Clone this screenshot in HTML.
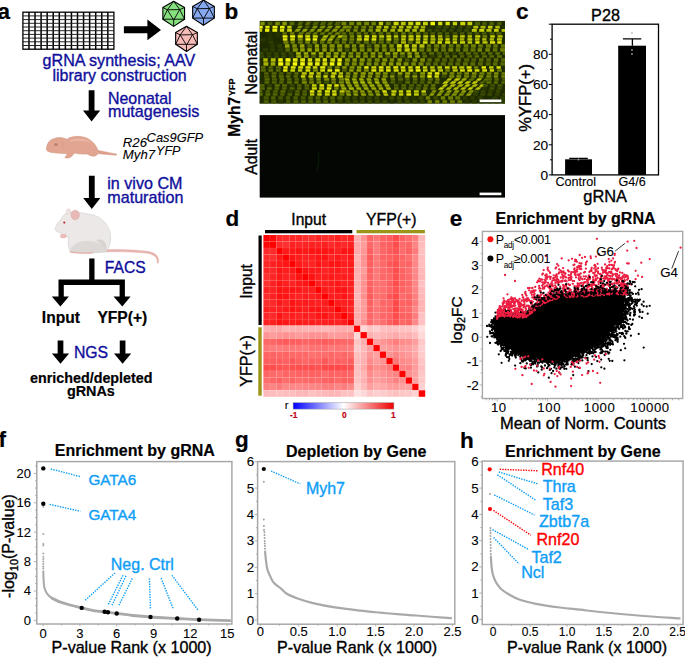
<!DOCTYPE html>
<html><head><meta charset="utf-8"><style>
html,body{margin:0;padding:0;background:#fff;}
svg{display:block;font-family:"Liberation Sans", sans-serif;}
</style></head><body>
<svg width="685" height="657" viewBox="0 0 685 657">
<rect width="685" height="657" fill="#fff"/>
<text x="-2.4" y="19.3" font-size="22.5" fill="#000" stroke="#000" stroke-width="0.2" font-weight="bold">a</text>
<rect x="22.9" y="12.2" width="91.0" height="37.0" fill="#fff" stroke="#000" stroke-width="1.3"/>
<path d="M28.97 12.2V49.2M35.03 12.2V49.2M41.10 12.2V49.2M47.17 12.2V49.2M53.23 12.2V49.2M59.30 12.2V49.2M65.37 12.2V49.2M71.43 12.2V49.2M77.50 12.2V49.2M83.57 12.2V49.2M89.63 12.2V49.2M95.70 12.2V49.2M101.77 12.2V49.2M107.83 12.2V49.2" stroke="#000" stroke-width="1.5"/>
<path d="M22.9 15.90H113.9M22.9 19.60H113.9M22.9 23.30H113.9M22.9 27.00H113.9M22.9 30.70H113.9M22.9 34.40H113.9M22.9 38.10H113.9M22.9 41.80H113.9M22.9 45.50H113.9" stroke="#1a1a1a" stroke-width="0.95"/>
<path d="M123.9 26.3H147.4V19.6L161 29.9L147.4 40.2V33.3H123.9Z" fill="#000"/>
<path d="M173.70 1.20L184.55 7.50L184.55 19.20L173.70 26.40L162.85 19.20L162.85 7.50Z" fill="#86e07f" stroke="#000" stroke-width="1.1" stroke-linejoin="round"/>
<path d="M173.70 1.20L167.40 9.80M173.70 1.20L179.70 9.60M167.40 9.80L179.70 9.60M167.40 9.80L173.70 20.10M179.70 9.60L173.70 20.10M162.85 7.50L167.40 9.80M184.55 7.50L179.70 9.60M167.40 9.80L162.85 19.20M179.70 9.60L184.55 19.20M162.85 19.20L184.55 19.20M173.70 20.10L173.70 26.40" fill="none" stroke="#000" stroke-width="0.9"/>
<path d="M203.50 0.10L214.35 6.40L214.35 18.10L203.50 25.30L192.65 18.10L192.65 6.40Z" fill="#86a8ee" stroke="#000" stroke-width="1.1" stroke-linejoin="round"/>
<path d="M203.50 0.10L197.20 8.70M203.50 0.10L209.50 8.50M197.20 8.70L209.50 8.50M197.20 8.70L203.50 19.00M209.50 8.50L203.50 19.00M192.65 6.40L197.20 8.70M214.35 6.40L209.50 8.50M197.20 8.70L192.65 18.10M209.50 8.50L214.35 18.10M192.65 18.10L214.35 18.10M203.50 19.00L203.50 25.30" fill="none" stroke="#000" stroke-width="0.9"/>
<path d="M186.50 26.30L197.35 32.60L197.35 44.30L186.50 51.50L175.65 44.30L175.65 32.60Z" fill="#f7bcb8" stroke="#000" stroke-width="1.1" stroke-linejoin="round"/>
<path d="M186.50 26.30L180.20 34.90M186.50 26.30L192.50 34.70M180.20 34.90L192.50 34.70M180.20 34.90L186.50 45.20M192.50 34.70L186.50 45.20M175.65 32.60L180.20 34.90M197.35 32.60L192.50 34.70M180.20 34.90L175.65 44.30M192.50 34.70L197.35 44.30M175.65 44.30L197.35 44.30M186.50 45.20L186.50 51.50" fill="none" stroke="#000" stroke-width="0.9"/>
<text x="118.9" y="65.8" font-size="16.1" fill="#0f0f9c" stroke="#0f0f9c" stroke-width="0.35" text-anchor="middle">gRNA synthesis; AAV</text>
<text x="119.6" y="80.6" font-size="16.0" fill="#0f0f9c" stroke="#0f0f9c" stroke-width="0.35" text-anchor="middle">library construction</text>
<path d="M88.70 90.3V110.6H83.00L91.60 121.4L100.20 110.6H94.50V90.3Z" fill="#000"/>
<text x="108.0" y="103.6" font-size="15.9" fill="#0f0f9c" stroke="#0f0f9c" stroke-width="0.35">Neonatal</text>
<text x="108.0" y="117.4" font-size="16.1" fill="#0f0f9c" stroke="#0f0f9c" stroke-width="0.35">mutagenesis</text>
<g><path d="M98 150.4 C104 151.5 110 152.8 116.7 154 L116.4 155.3 C110 154.8 104 154.3 98.5 153.8Z" fill="#dd9e8a" stroke="#cf8f7b" stroke-width="0.4"/><path d="M46.4 148.7 C47 143 50 139.5 53.7 138.8 C57 137.2 62 137 67.1 139.3 C70 137 74 136.2 78 136.3 C84 136.5 89 138.5 92 141.5 C95 144 97 147.5 98 150.4 C98.6 153 98 155.5 93.4 156.3 C91 156 89 155 87 154 C83 154.3 78 154 74.5 153 C73 155 71 157.5 68.9 158 C67 158.2 65 157.8 64.8 157.4 C66 156 67 155 67 153.5 C62 153.5 57 153.2 53.7 152.8 C50 152.4 47.5 151.5 46.4 150Z" fill="#e2a591" stroke="#cf907c" stroke-width="0.5"/><path d="M70 140 C78 137.5 88 139 91 143 C86 141 78 140.5 70 141.5Z" fill="#eab6a4"/><path d="M61.5 141 C63.5 143 63.5 146 62 148" stroke="#cf907c" stroke-width="0.5" fill="none"/><ellipse cx="56" cy="144.6" rx="1.9" ry="1.3" fill="#b88070"/></g>
<text x="122.8" y="146.7" font-size="13.2" fill="#000" stroke="#000" stroke-width="0.1" font-style="italic">R26</text>
<text x="146.6" y="141.7" font-size="12.9" fill="#000" stroke="#000" stroke-width="0.1" font-style="italic">Cas9GFP</text>
<text x="122.8" y="159.2" font-size="13.2" fill="#000" stroke="#000" stroke-width="0.1" font-style="italic">Myh7</text>
<text x="156.0" y="155.3" font-size="12.6" fill="#000" stroke="#000" stroke-width="0.1" font-style="italic">YFP</text>
<path d="M88.90 175.7V198.1H83.20L91.80 208.9L100.40 198.1H94.70V175.7Z" fill="#000"/>
<text x="107.3" y="188.9" font-size="16.1" fill="#0f0f9c" stroke="#0f0f9c" stroke-width="0.35">in vivo CM</text>
<text x="107.3" y="203.2" font-size="16.1" fill="#0f0f9c" stroke="#0f0f9c" stroke-width="0.35">maturation</text>
<g><path d="M106 249.6 C120 249.3 138 249.8 149 251.6 C155 252.8 159.5 256 158.6 262.6 C158 263.6 157 263.4 157.2 262.4 C157.6 257.5 154 254.8 148.5 253.6 C138 252 120 251.6 106 252Z" fill="#e9b4ae" stroke="#d9a19b" stroke-width="0.3"/><path d="M55 229.3 C56 225 58 222 60.1 221 C62 217 64 214 67 213 C72 211 80 212.5 88.6 214.2 C95 215 100 217 104 221.5 C108 226 110.5 231 110.6 237 C110.8 243 109 248 106 252 L92 253 C85 253.5 75 252.5 70 251.5 C68 247 68 242 68.5 237 C66 236.5 62 234 58.4 232 C56.5 231.5 55.3 230.5 55 229.3Z" fill="#ebe8e7" stroke="#d2cdcc" stroke-width="0.6"/><path d="M70 251.5 C71 245 78 240.5 88 241 C99 241.5 105.5 245.5 106 252 L92 253 C85 253.5 75 252.5 70 251.5Z" fill="#dcd8d6"/><path d="M96 240 C103 238 108 242 106 252 C104 246 100 243 96 240Z" fill="#d8d3d1"/><ellipse cx="68.5" cy="211.5" rx="2.2" ry="2.7" fill="#efe4e2" stroke="#d8c8c6" stroke-width="0.4"/><ellipse cx="75.2" cy="215" rx="4.2" ry="4.8" fill="#e9b9b7" stroke="#d9a7a5" stroke-width="0.5"/><ellipse cx="63.4" cy="236" rx="3.2" ry="2.0" fill="#eebdb9" stroke="#dba9a5" stroke-width="0.3"/><path d="M70 252 C78 253.2 86 253.4 93 252.6" stroke="#e6b2ac" stroke-width="1.3" fill="none"/><circle cx="64.3" cy="222.6" r="1.1" fill="#c22f3a"/></g>
<path d="M89.2 258.5V279.4H58.5V296.5H51.8L60.4 306.5L68.9 296.5H63.8V285.1H119.6V296.5H113.5L122.3 306.5L130.6 296.5H124.9V279.4H94.5V258.5Z" fill="#000"/>
<text x="104.8" y="272.5" font-size="15.7" fill="#0f0f9c" stroke="#0f0f9c" stroke-width="0.35">FACS</text>
<text x="41.8" y="323.1" font-size="15.6" fill="#000" stroke="#000" stroke-width="0.2" font-weight="bold">Input</text>
<text x="97.4" y="323.1" font-size="15.6" fill="#000" stroke="#000" stroke-width="0.2" font-weight="bold">YFP(+)</text>
<path d="M57.65 340.6V353.5H51.90L60.50 363.7L69.10 353.5H63.35V340.6Z" fill="#000"/>
<path d="M119.75 340.6V353.5H114.00L122.60 363.7L131.20 353.5H125.45V340.6Z" fill="#000"/>
<text x="73.9" y="357.7" font-size="15.8" fill="#0f0f9c" stroke="#0f0f9c" stroke-width="0.35">NGS</text>
<text x="30.1" y="382.7" font-size="14.3" fill="#000" stroke="#000" stroke-width="0.2" font-weight="bold">enriched/depleted</text>
<text x="66.9" y="396.4" font-size="14.4" fill="#000" stroke="#000" stroke-width="0.2" font-weight="bold">gRNAs</text>
<text x="224.5" y="19.3" font-size="22.5" fill="#000" stroke="#000" stroke-width="0.2" font-weight="bold">b</text>
<defs><clipPath id="cn"><rect x="259.7" y="20.9" width="245.3" height="82.80000000000001"/></clipPath><filter id="bl" x="-5%" y="-5%" width="110%" height="110%"><feGaussianBlur stdDeviation="0.7"/></filter></defs>
<rect x="259.7" y="20.9" width="245.3" height="82.80000000000001" fill="#1e2a00"/>
<g clip-path="url(#cn)"><g filter="url(#bl)"><rect x="253.0" y="21.8" width="4.3" height="3.5" fill="rgb(33,47,0)"/><rect x="260.4" y="21.8" width="4.3" height="3.5" fill="rgb(129,144,5)"/><rect x="267.7" y="21.8" width="4.6" height="3.5" fill="rgb(73,91,2)"/><rect x="275.2" y="21.8" width="4.6" height="3.5" fill="rgb(117,134,4)"/><rect x="282.4" y="21.8" width="4.4" height="3.5" fill="rgb(136,151,5)"/><rect x="289.7" y="21.8" width="4.7" height="3.5" fill="rgb(87,104,3)"/><path d="M299.1 21.8h4.2l-1.9 3.5h-4.2z" fill="rgb(83,101,3)"/><path d="M306.7 21.8h4.3l-1.9 3.5h-4.3z" fill="rgb(91,108,3)"/><path d="M314.1 21.8h4.9l-1.9 3.5h-4.9z" fill="rgb(79,97,3)"/><path d="M321.6 21.8h4.8l-1.9 3.5h-4.8z" fill="rgb(80,98,3)"/><path d="M328.9 21.8h4.3l-1.9 3.5h-4.3z" fill="rgb(83,100,3)"/><path d="M336.2 21.8h4.8l-1.9 3.5h-4.8z" fill="rgb(78,96,3)"/><rect x="341.6" y="21.8" width="4.7" height="3.5" fill="rgb(116,132,4)"/><rect x="349.2" y="21.8" width="4.9" height="3.5" fill="rgb(116,132,4)"/><rect x="356.6" y="21.8" width="4.7" height="3.5" fill="rgb(122,138,4)"/><rect x="364.1" y="21.8" width="4.9" height="3.5" fill="rgb(118,134,4)"/><rect x="371.5" y="21.8" width="4.3" height="3.5" fill="rgb(112,129,4)"/><rect x="378.8" y="21.8" width="4.3" height="3.5" fill="rgb(192,201,7)"/><rect x="385.9" y="21.8" width="4.8" height="3.5" fill="rgb(107,124,4)"/><rect x="393.6" y="21.8" width="5.0" height="3.5" fill="rgb(206,213,8)"/><rect x="400.9" y="21.8" width="4.7" height="3.5" fill="rgb(188,197,7)"/><rect x="408.2" y="21.8" width="5.0" height="3.5" fill="rgb(199,207,7)"/><rect x="415.6" y="21.8" width="4.8" height="3.5" fill="rgb(214,220,8)"/><rect x="423.0" y="21.8" width="4.8" height="3.5" fill="rgb(199,207,7)"/><rect x="430.5" y="21.8" width="4.5" height="3.5" fill="rgb(241,243,9)"/><rect x="438.1" y="21.8" width="4.2" height="3.5" fill="rgb(213,219,8)"/><rect x="445.5" y="21.8" width="4.3" height="3.5" fill="rgb(217,222,8)"/><rect x="452.8" y="21.8" width="4.3" height="3.5" fill="rgb(199,207,7)"/><rect x="460.3" y="21.8" width="5.0" height="3.5" fill="rgb(207,214,8)"/><rect x="467.5" y="21.8" width="4.7" height="3.5" fill="rgb(199,208,7)"/><rect x="475.0" y="21.8" width="5.0" height="3.5" fill="rgb(80,97,3)"/><rect x="482.3" y="21.8" width="4.5" height="3.5" fill="rgb(72,89,2)"/><rect x="489.5" y="21.8" width="4.3" height="3.5" fill="rgb(80,97,3)"/><rect x="497.1" y="21.8" width="4.4" height="3.5" fill="rgb(70,88,2)"/><rect x="504.6" y="21.8" width="4.4" height="3.5" fill="rgb(35,49,1)"/><rect x="250.6" y="25.8" width="4.7" height="2.8" fill="rgb(34,49,1)"/><rect x="258.0" y="25.8" width="4.7" height="2.8" fill="rgb(239,242,9)"/><rect x="265.4" y="25.8" width="4.2" height="2.8" fill="rgb(224,229,8)"/><rect x="272.5" y="25.8" width="5.0" height="2.8" fill="rgb(237,240,9)"/><rect x="280.0" y="25.8" width="4.6" height="2.8" fill="rgb(232,236,9)"/><rect x="287.3" y="25.8" width="4.3" height="2.8" fill="rgb(201,208,7)"/><path d="M298.6 25.8h4.3l-1.9 2.8h-4.3z" fill="rgb(127,143,5)"/><path d="M306.0 25.8h4.2l-1.9 2.8h-4.2z" fill="rgb(76,94,2)"/><path d="M313.5 25.8h4.5l-1.9 2.8h-4.5z" fill="rgb(130,145,5)"/><path d="M321.1 25.8h4.8l-1.9 2.8h-4.8z" fill="rgb(126,142,5)"/><path d="M328.5 25.8h4.5l-1.9 2.8h-4.5z" fill="rgb(130,145,5)"/><path d="M336.1 25.8h5.0l-1.9 2.8h-5.0z" fill="rgb(135,150,5)"/><path d="M343.7 25.8h4.6l-1.9 2.8h-4.6z" fill="rgb(128,144,5)"/><rect x="346.9" y="25.8" width="4.5" height="2.8" fill="rgb(108,125,4)"/><rect x="354.1" y="25.8" width="4.3" height="2.8" fill="rgb(112,128,4)"/><rect x="361.4" y="25.8" width="4.7" height="2.8" fill="rgb(106,123,4)"/><rect x="368.9" y="25.8" width="4.2" height="2.8" fill="rgb(109,126,4)"/><rect x="376.4" y="25.8" width="5.0" height="2.8" fill="rgb(174,185,6)"/><rect x="384.0" y="25.8" width="4.5" height="2.8" fill="rgb(180,190,7)"/><rect x="391.6" y="25.8" width="4.7" height="2.8" fill="rgb(161,174,6)"/><rect x="399.0" y="25.8" width="4.4" height="2.8" fill="rgb(183,193,7)"/><rect x="406.5" y="25.8" width="5.0" height="2.8" fill="rgb(184,194,7)"/><rect x="413.7" y="25.8" width="4.9" height="2.8" fill="rgb(184,194,7)"/><rect x="420.8" y="25.8" width="4.5" height="2.8" fill="rgb(163,175,6)"/><rect x="428.4" y="25.8" width="4.5" height="2.8" fill="rgb(34,48,0)"/><rect x="435.9" y="25.8" width="5.1" height="2.8" fill="rgb(52,69,1)"/><rect x="443.4" y="25.8" width="5.1" height="2.8" fill="rgb(54,70,1)"/><rect x="450.8" y="25.8" width="4.4" height="2.8" fill="rgb(58,75,2)"/><rect x="458.3" y="25.8" width="4.4" height="2.8" fill="rgb(52,68,1)"/><rect x="465.7" y="25.8" width="5.0" height="2.8" fill="rgb(55,72,2)"/><rect x="473.3" y="25.8" width="4.9" height="2.8" fill="rgb(183,193,7)"/><rect x="480.5" y="25.8" width="5.0" height="2.8" fill="rgb(168,180,6)"/><rect x="487.9" y="25.8" width="4.6" height="2.8" fill="rgb(195,203,7)"/><rect x="495.3" y="25.8" width="4.5" height="2.8" fill="rgb(172,183,6)"/><rect x="502.8" y="25.8" width="4.6" height="2.8" fill="rgb(36,50,1)"/><rect x="250.6" y="29.0" width="4.9" height="2.8" fill="rgb(34,48,1)"/><rect x="257.8" y="29.0" width="4.3" height="2.8" fill="rgb(204,211,8)"/><rect x="265.0" y="29.0" width="4.3" height="2.8" fill="rgb(237,240,9)"/><rect x="272.4" y="29.0" width="4.8" height="2.8" fill="rgb(234,237,9)"/><rect x="279.9" y="29.0" width="4.3" height="2.8" fill="rgb(212,218,8)"/><rect x="287.1" y="29.0" width="4.8" height="2.8" fill="rgb(197,205,7)"/><path d="M296.2 29.0h4.6l-1.9 2.8h-4.6z" fill="rgb(140,154,5)"/><path d="M303.5 29.0h4.4l-1.9 2.8h-4.4z" fill="rgb(150,163,6)"/><path d="M311.0 29.0h4.4l-1.9 2.8h-4.4z" fill="rgb(132,147,5)"/><path d="M318.2 29.0h4.6l-1.9 2.8h-4.6z" fill="rgb(142,156,5)"/><path d="M325.8 29.0h4.5l-1.9 2.8h-4.5z" fill="rgb(129,144,5)"/><path d="M333.2 29.0h5.0l-1.9 2.8h-5.0z" fill="rgb(138,153,5)"/><path d="M340.5 29.0h4.7l-1.9 2.8h-4.7z" fill="rgb(115,132,4)"/><rect x="346.0" y="29.0" width="4.2" height="2.8" fill="rgb(118,134,4)"/><rect x="353.4" y="29.0" width="4.2" height="2.8" fill="rgb(116,132,4)"/><rect x="360.8" y="29.0" width="4.6" height="2.8" fill="rgb(124,140,4)"/><rect x="368.4" y="29.0" width="4.5" height="2.8" fill="rgb(122,138,4)"/><rect x="375.6" y="29.0" width="4.9" height="2.8" fill="rgb(173,185,6)"/><rect x="382.8" y="29.0" width="4.4" height="2.8" fill="rgb(159,172,6)"/><rect x="390.4" y="29.0" width="4.7" height="2.8" fill="rgb(165,177,6)"/><rect x="397.7" y="29.0" width="5.0" height="2.8" fill="rgb(175,186,7)"/><rect x="405.0" y="29.0" width="4.7" height="2.8" fill="rgb(171,182,6)"/><rect x="412.3" y="29.0" width="4.6" height="2.8" fill="rgb(173,184,6)"/><rect x="419.7" y="29.0" width="5.0" height="2.8" fill="rgb(174,185,6)"/><rect x="427.3" y="29.0" width="5.0" height="2.8" fill="rgb(56,72,2)"/><rect x="434.5" y="29.0" width="5.0" height="2.8" fill="rgb(52,69,1)"/><rect x="441.8" y="29.0" width="4.3" height="2.8" fill="rgb(57,74,2)"/><rect x="449.2" y="29.0" width="4.4" height="2.8" fill="rgb(54,70,1)"/><rect x="456.7" y="29.0" width="4.9" height="2.8" fill="rgb(51,67,1)"/><rect x="464.3" y="29.0" width="4.8" height="2.8" fill="rgb(57,74,2)"/><rect x="471.8" y="29.0" width="5.0" height="2.8" fill="rgb(190,199,7)"/><rect x="479.2" y="29.0" width="5.1" height="2.8" fill="rgb(202,210,8)"/><rect x="486.4" y="29.0" width="5.1" height="2.8" fill="rgb(180,191,7)"/><rect x="494.0" y="29.0" width="4.6" height="2.8" fill="rgb(197,205,7)"/><rect x="501.6" y="29.0" width="4.4" height="2.8" fill="rgb(185,195,7)"/><rect x="253.0" y="32.2" width="4.7" height="2.5" fill="rgb(27,39,0)"/><rect x="260.5" y="32.2" width="4.5" height="2.5" fill="rgb(26,38,0)"/><rect x="267.9" y="32.2" width="4.3" height="2.5" fill="rgb(35,49,1)"/><rect x="275.2" y="32.2" width="5.1" height="2.5" fill="rgb(37,51,1)"/><rect x="282.5" y="32.2" width="4.2" height="2.5" fill="rgb(98,115,3)"/><rect x="290.1" y="32.2" width="4.3" height="2.5" fill="rgb(112,128,4)"/><path d="M299.4 32.2h4.9l-1.8 2.5h-4.9z" fill="rgb(105,122,4)"/><path d="M306.6 32.2h5.0l-1.8 2.5h-5.0z" fill="rgb(102,118,4)"/><path d="M313.9 32.2h4.3l-1.8 2.5h-4.3z" fill="rgb(108,124,4)"/><path d="M321.2 32.2h4.6l-1.8 2.5h-4.6z" fill="rgb(97,115,3)"/><path d="M328.6 32.2h4.8l-1.8 2.5h-4.8z" fill="rgb(98,115,3)"/><path d="M336.0 32.2h5.0l-1.8 2.5h-5.0z" fill="rgb(112,129,4)"/><rect x="341.5" y="32.2" width="4.6" height="2.5" fill="rgb(88,105,3)"/><rect x="348.9" y="32.2" width="5.0" height="2.5" fill="rgb(93,110,3)"/><rect x="356.5" y="32.2" width="4.7" height="2.5" fill="rgb(92,109,3)"/><rect x="363.7" y="32.2" width="4.3" height="2.5" fill="rgb(91,108,3)"/><rect x="371.2" y="32.2" width="4.5" height="2.5" fill="rgb(88,105,3)"/><rect x="378.6" y="32.2" width="4.5" height="2.5" fill="rgb(92,109,3)"/><rect x="386.2" y="32.2" width="4.5" height="2.5" fill="rgb(96,113,3)"/><rect x="393.8" y="32.2" width="4.2" height="2.5" fill="rgb(87,104,3)"/><rect x="401.2" y="32.2" width="4.4" height="2.5" fill="rgb(100,117,3)"/><rect x="408.5" y="32.2" width="4.3" height="2.5" fill="rgb(95,112,3)"/><rect x="415.7" y="32.2" width="4.6" height="2.5" fill="rgb(101,118,4)"/><rect x="423.2" y="32.2" width="4.7" height="2.5" fill="rgb(79,96,3)"/><rect x="430.4" y="32.2" width="4.5" height="2.5" fill="rgb(77,94,3)"/><rect x="437.6" y="32.2" width="4.8" height="2.5" fill="rgb(79,96,3)"/><rect x="445.0" y="32.2" width="4.2" height="2.5" fill="rgb(73,91,2)"/><rect x="452.5" y="32.2" width="4.9" height="2.5" fill="rgb(70,87,2)"/><rect x="460.0" y="32.2" width="4.3" height="2.5" fill="rgb(71,89,2)"/><rect x="467.4" y="32.2" width="4.8" height="2.5" fill="rgb(79,96,3)"/><rect x="474.7" y="32.2" width="4.5" height="2.5" fill="rgb(72,89,2)"/><rect x="481.9" y="32.2" width="4.6" height="2.5" fill="rgb(74,91,2)"/><rect x="489.3" y="32.2" width="5.1" height="2.5" fill="rgb(72,89,2)"/><rect x="496.5" y="32.2" width="5.1" height="2.5" fill="rgb(75,93,2)"/><rect x="503.7" y="32.2" width="4.2" height="2.5" fill="rgb(34,48,0)"/><rect x="253.4" y="35.2" width="4.4" height="2.5" fill="rgb(35,49,1)"/><rect x="260.7" y="35.2" width="4.4" height="2.5" fill="rgb(28,41,0)"/><rect x="268.1" y="35.2" width="4.2" height="2.5" fill="rgb(37,51,1)"/><rect x="275.4" y="35.2" width="4.4" height="2.5" fill="rgb(36,51,1)"/><rect x="282.6" y="35.2" width="4.9" height="2.5" fill="rgb(234,237,9)"/><rect x="290.1" y="35.2" width="5.0" height="2.5" fill="rgb(238,240,9)"/><rect x="297.7" y="35.2" width="5.1" height="2.5" fill="rgb(225,229,8)"/><rect x="305.3" y="35.2" width="4.8" height="2.5" fill="rgb(213,219,8)"/><rect x="312.8" y="35.2" width="5.0" height="2.5" fill="rgb(208,215,8)"/><path d="M323.8 35.2h4.9l-1.7 2.5h-4.9z" fill="rgb(177,188,7)"/><path d="M331.2 35.2h4.7l-1.7 2.5h-4.7z" fill="rgb(160,173,6)"/><path d="M338.7 35.2h4.9l-1.7 2.5h-4.9z" fill="rgb(185,195,7)"/><rect x="342.4" y="35.2" width="4.8" height="2.5" fill="rgb(119,135,4)"/><rect x="349.9" y="35.2" width="4.2" height="2.5" fill="rgb(122,137,4)"/><rect x="357.2" y="35.2" width="4.3" height="2.5" fill="rgb(191,200,7)"/><rect x="364.4" y="35.2" width="4.8" height="2.5" fill="rgb(222,227,8)"/><rect x="372.0" y="35.2" width="4.6" height="2.5" fill="rgb(212,219,8)"/><rect x="379.2" y="35.2" width="4.9" height="2.5" fill="rgb(186,196,7)"/><rect x="386.4" y="35.2" width="4.8" height="2.5" fill="rgb(207,214,8)"/><rect x="393.8" y="35.2" width="4.4" height="2.5" fill="rgb(188,198,7)"/><rect x="401.2" y="35.2" width="4.9" height="2.5" fill="rgb(189,198,7)"/><rect x="408.5" y="35.2" width="5.1" height="2.5" fill="rgb(194,203,7)"/><rect x="416.0" y="35.2" width="4.6" height="2.5" fill="rgb(207,214,8)"/><rect x="423.3" y="35.2" width="4.8" height="2.5" fill="rgb(191,200,7)"/><rect x="430.6" y="35.2" width="4.3" height="2.5" fill="rgb(190,199,7)"/><rect x="437.9" y="35.2" width="4.5" height="2.5" fill="rgb(175,186,7)"/><rect x="445.3" y="35.2" width="4.3" height="2.5" fill="rgb(103,119,4)"/><rect x="452.8" y="35.2" width="4.8" height="2.5" fill="rgb(175,186,7)"/><rect x="460.1" y="35.2" width="4.7" height="2.5" fill="rgb(191,200,7)"/><rect x="467.6" y="35.2" width="4.3" height="2.5" fill="rgb(183,193,7)"/><rect x="475.2" y="35.2" width="5.1" height="2.5" fill="rgb(199,207,7)"/><rect x="482.6" y="35.2" width="4.6" height="2.5" fill="rgb(110,126,4)"/><rect x="490.2" y="35.2" width="4.6" height="2.5" fill="rgb(196,205,7)"/><rect x="497.5" y="35.2" width="5.1" height="2.5" fill="rgb(175,186,7)"/><rect x="504.7" y="35.2" width="4.3" height="2.5" fill="rgb(34,48,0)"/><rect x="253.4" y="38.2" width="4.3" height="2.5" fill="rgb(35,49,1)"/><rect x="260.7" y="38.2" width="5.0" height="2.5" fill="rgb(40,55,1)"/><rect x="268.0" y="38.2" width="5.0" height="2.5" fill="rgb(39,54,1)"/><rect x="275.3" y="38.2" width="4.2" height="2.5" fill="rgb(28,41,0)"/><rect x="282.9" y="38.2" width="4.5" height="2.5" fill="rgb(230,234,9)"/><rect x="290.3" y="38.2" width="4.5" height="2.5" fill="rgb(213,219,8)"/><rect x="297.8" y="38.2" width="4.9" height="2.5" fill="rgb(133,148,5)"/><rect x="305.4" y="38.2" width="5.0" height="2.5" fill="rgb(247,248,9)"/><rect x="312.7" y="38.2" width="4.5" height="2.5" fill="rgb(240,243,9)"/><path d="M321.8 38.2h5.1l-1.7 2.5h-5.1z" fill="rgb(168,180,6)"/><path d="M329.1 38.2h4.6l-1.7 2.5h-4.6z" fill="rgb(176,187,7)"/><path d="M336.3 38.2h4.3l-1.7 2.5h-4.3z" fill="rgb(92,109,3)"/><rect x="342.1" y="38.2" width="5.0" height="2.5" fill="rgb(125,141,5)"/><rect x="349.5" y="38.2" width="4.7" height="2.5" fill="rgb(112,128,4)"/><rect x="356.8" y="38.2" width="5.1" height="2.5" fill="rgb(194,202,7)"/><rect x="364.0" y="38.2" width="4.8" height="2.5" fill="rgb(224,228,8)"/><rect x="371.6" y="38.2" width="4.7" height="2.5" fill="rgb(225,229,8)"/><rect x="378.9" y="38.2" width="4.9" height="2.5" fill="rgb(118,134,4)"/><rect x="386.5" y="38.2" width="4.8" height="2.5" fill="rgb(205,212,8)"/><rect x="393.8" y="38.2" width="5.0" height="2.5" fill="rgb(108,125,4)"/><rect x="401.2" y="38.2" width="4.5" height="2.5" fill="rgb(191,200,7)"/><rect x="408.5" y="38.2" width="5.1" height="2.5" fill="rgb(198,206,7)"/><rect x="415.8" y="38.2" width="4.5" height="2.5" fill="rgb(197,205,7)"/><rect x="423.3" y="38.2" width="4.4" height="2.5" fill="rgb(186,196,7)"/><rect x="430.5" y="38.2" width="5.0" height="2.5" fill="rgb(171,183,6)"/><rect x="437.9" y="38.2" width="5.0" height="2.5" fill="rgb(184,194,7)"/><rect x="445.4" y="38.2" width="4.3" height="2.5" fill="rgb(203,211,8)"/><rect x="452.6" y="38.2" width="4.5" height="2.5" fill="rgb(173,184,6)"/><rect x="459.9" y="38.2" width="4.4" height="2.5" fill="rgb(169,180,6)"/><rect x="467.4" y="38.2" width="4.9" height="2.5" fill="rgb(187,196,7)"/><rect x="474.9" y="38.2" width="4.7" height="2.5" fill="rgb(181,191,7)"/><rect x="482.2" y="38.2" width="4.3" height="2.5" fill="rgb(179,190,7)"/><rect x="489.7" y="38.2" width="4.3" height="2.5" fill="rgb(176,187,7)"/><rect x="497.0" y="38.2" width="5.0" height="2.5" fill="rgb(184,194,7)"/><rect x="504.4" y="38.2" width="4.4" height="2.5" fill="rgb(34,48,0)"/><rect x="253.6" y="41.2" width="5.0" height="2.5" fill="rgb(34,49,1)"/><rect x="261.1" y="41.2" width="4.2" height="2.5" fill="rgb(32,46,0)"/><rect x="268.6" y="41.2" width="4.6" height="2.5" fill="rgb(46,61,1)"/><rect x="276.0" y="41.2" width="4.6" height="2.5" fill="rgb(31,45,0)"/><rect x="283.4" y="41.2" width="5.0" height="2.5" fill="rgb(115,131,4)"/><rect x="290.6" y="41.2" width="4.3" height="2.5" fill="rgb(116,132,4)"/><rect x="298.0" y="41.2" width="4.8" height="2.5" fill="rgb(99,116,3)"/><rect x="305.2" y="41.2" width="4.8" height="2.5" fill="rgb(115,132,4)"/><rect x="312.5" y="41.2" width="4.7" height="2.5" fill="rgb(112,128,4)"/><rect x="320.0" y="41.2" width="4.4" height="2.5" fill="rgb(97,114,3)"/><rect x="327.1" y="41.2" width="4.5" height="2.5" fill="rgb(115,131,4)"/><rect x="334.5" y="41.2" width="4.8" height="2.5" fill="rgb(99,116,3)"/><rect x="341.8" y="41.2" width="4.3" height="2.5" fill="rgb(99,116,3)"/><rect x="349.0" y="41.2" width="4.5" height="2.5" fill="rgb(96,113,3)"/><rect x="356.2" y="41.2" width="4.2" height="2.5" fill="rgb(91,108,3)"/><rect x="363.8" y="41.2" width="5.1" height="2.5" fill="rgb(92,109,3)"/><rect x="371.4" y="41.2" width="4.6" height="2.5" fill="rgb(98,115,3)"/><rect x="378.7" y="41.2" width="5.1" height="2.5" fill="rgb(91,108,3)"/><rect x="386.3" y="41.2" width="4.2" height="2.5" fill="rgb(99,116,3)"/><rect x="393.6" y="41.2" width="4.6" height="2.5" fill="rgb(96,113,3)"/><rect x="401.0" y="41.2" width="5.0" height="2.5" fill="rgb(175,186,7)"/><rect x="408.2" y="41.2" width="4.5" height="2.5" fill="rgb(96,113,3)"/><rect x="415.7" y="41.2" width="4.4" height="2.5" fill="rgb(181,191,7)"/><rect x="422.9" y="41.2" width="4.7" height="2.5" fill="rgb(220,225,8)"/><rect x="430.4" y="41.2" width="4.5" height="2.5" fill="rgb(194,203,7)"/><rect x="437.6" y="41.2" width="4.4" height="2.5" fill="rgb(221,226,8)"/><rect x="445.1" y="41.2" width="5.1" height="2.5" fill="rgb(218,224,8)"/><rect x="452.7" y="41.2" width="4.4" height="2.5" fill="rgb(207,214,8)"/><rect x="460.0" y="41.2" width="5.1" height="2.5" fill="rgb(203,211,8)"/><rect x="467.7" y="41.2" width="4.4" height="2.5" fill="rgb(192,201,7)"/><rect x="475.3" y="41.2" width="4.2" height="2.5" fill="rgb(228,232,9)"/><rect x="482.5" y="41.2" width="5.0" height="2.5" fill="rgb(188,198,7)"/><rect x="490.0" y="41.2" width="5.1" height="2.5" fill="rgb(224,228,8)"/><rect x="497.3" y="41.2" width="4.4" height="2.5" fill="rgb(226,230,8)"/><rect x="504.6" y="41.2" width="4.2" height="2.5" fill="rgb(36,51,1)"/><rect x="255.5" y="44.2" width="4.5" height="3.5" fill="rgb(34,48,0)"/><rect x="263.1" y="44.2" width="4.5" height="3.5" fill="rgb(30,43,0)"/><rect x="270.2" y="44.2" width="4.3" height="3.5" fill="rgb(43,59,1)"/><rect x="277.5" y="44.2" width="4.5" height="3.5" fill="rgb(47,63,1)"/><rect x="284.9" y="44.2" width="4.6" height="3.5" fill="rgb(148,162,5)"/><rect x="292.3" y="44.2" width="4.5" height="3.5" fill="rgb(127,142,5)"/><rect x="299.9" y="44.2" width="4.5" height="3.5" fill="rgb(151,164,6)"/><rect x="307.4" y="44.2" width="4.6" height="3.5" fill="rgb(84,102,3)"/><rect x="314.8" y="44.2" width="4.2" height="3.5" fill="rgb(148,162,5)"/><rect x="322.0" y="44.2" width="5.0" height="3.5" fill="rgb(126,142,5)"/><rect x="329.6" y="44.2" width="5.0" height="3.5" fill="rgb(132,148,5)"/><rect x="337.1" y="44.2" width="5.1" height="3.5" fill="rgb(135,150,5)"/><rect x="344.7" y="44.2" width="4.8" height="3.5" fill="rgb(131,146,5)"/><rect x="352.0" y="44.2" width="4.2" height="3.5" fill="rgb(124,139,4)"/><rect x="359.5" y="44.2" width="4.8" height="3.5" fill="rgb(135,150,5)"/><rect x="366.9" y="44.2" width="4.4" height="3.5" fill="rgb(79,96,3)"/><rect x="374.4" y="44.2" width="5.1" height="3.5" fill="rgb(128,143,5)"/><rect x="381.8" y="44.2" width="4.6" height="3.5" fill="rgb(125,141,5)"/><rect x="389.3" y="44.2" width="4.4" height="3.5" fill="rgb(128,143,5)"/><rect x="396.9" y="44.2" width="4.9" height="3.5" fill="rgb(208,215,8)"/><rect x="404.4" y="44.2" width="4.5" height="3.5" fill="rgb(207,214,8)"/><rect x="411.9" y="44.2" width="4.9" height="3.5" fill="rgb(188,198,7)"/><rect x="419.5" y="44.2" width="4.9" height="3.5" fill="rgb(179,189,7)"/><rect x="426.9" y="44.2" width="4.2" height="3.5" fill="rgb(101,118,4)"/><rect x="434.1" y="44.2" width="5.1" height="3.5" fill="rgb(107,124,4)"/><rect x="441.4" y="44.2" width="4.4" height="3.5" fill="rgb(114,130,4)"/><rect x="448.8" y="44.2" width="4.6" height="3.5" fill="rgb(98,115,3)"/><rect x="456.1" y="44.2" width="4.4" height="3.5" fill="rgb(111,127,4)"/><rect x="463.7" y="44.2" width="4.8" height="3.5" fill="rgb(105,121,4)"/><rect x="471.0" y="44.2" width="4.8" height="3.5" fill="rgb(111,128,4)"/><rect x="478.3" y="44.2" width="4.5" height="3.5" fill="rgb(99,116,3)"/><rect x="485.9" y="44.2" width="4.9" height="3.5" fill="rgb(108,124,4)"/><rect x="493.3" y="44.2" width="4.4" height="3.5" fill="rgb(100,117,4)"/><rect x="500.8" y="44.2" width="4.7" height="3.5" fill="rgb(99,116,3)"/><rect x="255.5" y="48.2" width="5.1" height="3.5" fill="rgb(34,48,0)"/><rect x="262.9" y="48.2" width="4.9" height="3.5" fill="rgb(44,60,1)"/><rect x="270.4" y="48.2" width="4.3" height="3.5" fill="rgb(45,61,1)"/><rect x="277.9" y="48.2" width="5.0" height="3.5" fill="rgb(44,60,1)"/><rect x="285.4" y="48.2" width="4.5" height="3.5" fill="rgb(84,102,3)"/><rect x="292.7" y="48.2" width="5.1" height="3.5" fill="rgb(129,144,5)"/><rect x="300.2" y="48.2" width="4.5" height="3.5" fill="rgb(142,156,5)"/><rect x="307.4" y="48.2" width="4.4" height="3.5" fill="rgb(149,163,6)"/><rect x="314.9" y="48.2" width="4.3" height="3.5" fill="rgb(147,161,5)"/><rect x="322.3" y="48.2" width="4.4" height="3.5" fill="rgb(142,156,5)"/><rect x="329.8" y="48.2" width="4.4" height="3.5" fill="rgb(136,150,5)"/><rect x="337.4" y="48.2" width="4.8" height="3.5" fill="rgb(132,148,5)"/><rect x="344.8" y="48.2" width="4.5" height="3.5" fill="rgb(69,87,2)"/><rect x="352.1" y="48.2" width="4.5" height="3.5" fill="rgb(133,148,5)"/><rect x="359.8" y="48.2" width="4.7" height="3.5" fill="rgb(121,137,4)"/><rect x="367.2" y="48.2" width="4.6" height="3.5" fill="rgb(117,133,4)"/><rect x="374.5" y="48.2" width="4.3" height="3.5" fill="rgb(129,145,5)"/><rect x="382.1" y="48.2" width="4.6" height="3.5" fill="rgb(120,136,4)"/><rect x="389.7" y="48.2" width="5.1" height="3.5" fill="rgb(123,139,4)"/><rect x="397.0" y="48.2" width="4.5" height="3.5" fill="rgb(188,197,7)"/><rect x="404.6" y="48.2" width="5.1" height="3.5" fill="rgb(192,201,7)"/><rect x="411.8" y="48.2" width="4.9" height="3.5" fill="rgb(190,199,7)"/><rect x="419.2" y="48.2" width="5.0" height="3.5" fill="rgb(101,118,4)"/><rect x="426.7" y="48.2" width="4.6" height="3.5" fill="rgb(105,122,4)"/><rect x="434.0" y="48.2" width="4.3" height="3.5" fill="rgb(114,130,4)"/><rect x="441.2" y="48.2" width="4.8" height="3.5" fill="rgb(97,114,3)"/><rect x="448.4" y="48.2" width="4.8" height="3.5" fill="rgb(115,131,4)"/><rect x="455.8" y="48.2" width="4.3" height="3.5" fill="rgb(104,121,4)"/><rect x="463.2" y="48.2" width="5.0" height="3.5" fill="rgb(102,119,4)"/><rect x="470.5" y="48.2" width="4.9" height="3.5" fill="rgb(99,116,3)"/><rect x="477.7" y="48.2" width="4.3" height="3.5" fill="rgb(116,132,4)"/><rect x="485.3" y="48.2" width="4.6" height="3.5" fill="rgb(115,132,4)"/><rect x="492.9" y="48.2" width="4.5" height="3.5" fill="rgb(97,114,3)"/><rect x="500.2" y="48.2" width="4.9" height="3.5" fill="rgb(115,131,4)"/><rect x="251.8" y="52.2" width="4.6" height="2.5" fill="rgb(36,50,1)"/><rect x="259.1" y="52.2" width="4.4" height="2.5" fill="rgb(57,74,2)"/><rect x="266.5" y="52.2" width="4.7" height="2.5" fill="rgb(52,68,1)"/><rect x="274.0" y="52.2" width="4.4" height="2.5" fill="rgb(53,70,1)"/><rect x="281.2" y="52.2" width="4.2" height="2.5" fill="rgb(56,73,2)"/><rect x="288.6" y="52.2" width="4.2" height="2.5" fill="rgb(55,71,1)"/><rect x="296.1" y="52.2" width="4.7" height="2.5" fill="rgb(173,184,6)"/><rect x="303.7" y="52.2" width="4.5" height="2.5" fill="rgb(163,175,6)"/><rect x="311.2" y="52.2" width="4.6" height="2.5" fill="rgb(159,172,6)"/><rect x="318.8" y="52.2" width="4.6" height="2.5" fill="rgb(167,179,6)"/><rect x="326.3" y="52.2" width="4.6" height="2.5" fill="rgb(146,160,5)"/><rect x="333.7" y="52.2" width="4.9" height="2.5" fill="rgb(153,166,6)"/><rect x="341.3" y="52.2" width="4.6" height="2.5" fill="rgb(138,153,5)"/><rect x="348.6" y="52.2" width="4.6" height="2.5" fill="rgb(128,144,5)"/><rect x="355.9" y="52.2" width="4.7" height="2.5" fill="rgb(128,143,5)"/><rect x="363.3" y="52.2" width="4.3" height="2.5" fill="rgb(127,142,5)"/><rect x="370.7" y="52.2" width="4.7" height="2.5" fill="rgb(146,160,5)"/><rect x="378.0" y="52.2" width="4.5" height="2.5" fill="rgb(127,142,5)"/><rect x="385.2" y="52.2" width="5.0" height="2.5" fill="rgb(152,165,6)"/><rect x="392.8" y="52.2" width="4.9" height="2.5" fill="rgb(153,166,6)"/><rect x="400.1" y="52.2" width="4.6" height="2.5" fill="rgb(131,146,5)"/><rect x="407.4" y="52.2" width="4.3" height="2.5" fill="rgb(152,165,6)"/><rect x="414.7" y="52.2" width="4.3" height="2.5" fill="rgb(147,161,5)"/><rect x="421.9" y="52.2" width="4.3" height="2.5" fill="rgb(83,100,3)"/><rect x="429.1" y="52.2" width="4.9" height="2.5" fill="rgb(91,108,3)"/><rect x="436.7" y="52.2" width="5.0" height="2.5" fill="rgb(80,97,3)"/><rect x="444.0" y="52.2" width="4.7" height="2.5" fill="rgb(81,98,3)"/><rect x="451.5" y="52.2" width="4.4" height="2.5" fill="rgb(50,66,1)"/><rect x="458.7" y="52.2" width="4.8" height="2.5" fill="rgb(80,97,3)"/><rect x="466.0" y="52.2" width="4.9" height="2.5" fill="rgb(91,108,3)"/><rect x="473.4" y="52.2" width="4.8" height="2.5" fill="rgb(79,97,3)"/><rect x="481.0" y="52.2" width="4.7" height="2.5" fill="rgb(83,100,3)"/><rect x="488.2" y="52.2" width="4.3" height="2.5" fill="rgb(86,104,3)"/><rect x="495.4" y="52.2" width="4.6" height="2.5" fill="rgb(93,110,3)"/><rect x="502.7" y="52.2" width="5.1" height="2.5" fill="rgb(90,107,3)"/><rect x="251.8" y="55.2" width="4.9" height="2.5" fill="rgb(35,49,1)"/><rect x="259.3" y="55.2" width="4.9" height="2.5" fill="rgb(54,70,1)"/><rect x="266.8" y="55.2" width="4.4" height="2.5" fill="rgb(50,67,1)"/><rect x="274.1" y="55.2" width="4.7" height="2.5" fill="rgb(55,72,2)"/><rect x="281.6" y="55.2" width="4.2" height="2.5" fill="rgb(56,72,2)"/><rect x="289.1" y="55.2" width="4.8" height="2.5" fill="rgb(50,67,1)"/><rect x="296.3" y="55.2" width="5.0" height="2.5" fill="rgb(159,172,6)"/><rect x="303.9" y="55.2" width="4.8" height="2.5" fill="rgb(150,163,6)"/><rect x="311.3" y="55.2" width="4.5" height="2.5" fill="rgb(82,99,3)"/><rect x="318.8" y="55.2" width="4.4" height="2.5" fill="rgb(149,162,5)"/><rect x="326.2" y="55.2" width="4.4" height="2.5" fill="rgb(164,176,6)"/><rect x="333.6" y="55.2" width="4.3" height="2.5" fill="rgb(166,178,6)"/><rect x="340.8" y="55.2" width="4.3" height="2.5" fill="rgb(151,165,6)"/><rect x="348.3" y="55.2" width="5.0" height="2.5" fill="rgb(128,144,5)"/><rect x="355.9" y="55.2" width="4.4" height="2.5" fill="rgb(147,161,5)"/><rect x="363.2" y="55.2" width="4.7" height="2.5" fill="rgb(126,141,5)"/><rect x="370.6" y="55.2" width="4.6" height="2.5" fill="rgb(135,150,5)"/><rect x="378.1" y="55.2" width="4.4" height="2.5" fill="rgb(151,165,6)"/><rect x="385.7" y="55.2" width="4.7" height="2.5" fill="rgb(84,102,3)"/><rect x="393.0" y="55.2" width="4.3" height="2.5" fill="rgb(137,151,5)"/><rect x="400.2" y="55.2" width="4.7" height="2.5" fill="rgb(83,100,3)"/><rect x="407.6" y="55.2" width="4.4" height="2.5" fill="rgb(151,165,6)"/><rect x="415.1" y="55.2" width="4.8" height="2.5" fill="rgb(142,157,5)"/><rect x="422.6" y="55.2" width="4.5" height="2.5" fill="rgb(90,107,3)"/><rect x="430.1" y="55.2" width="5.0" height="2.5" fill="rgb(50,66,1)"/><rect x="437.6" y="55.2" width="4.2" height="2.5" fill="rgb(89,107,3)"/><rect x="445.1" y="55.2" width="4.6" height="2.5" fill="rgb(90,108,3)"/><rect x="452.6" y="55.2" width="4.4" height="2.5" fill="rgb(89,106,3)"/><rect x="460.0" y="55.2" width="4.2" height="2.5" fill="rgb(79,96,3)"/><rect x="467.4" y="55.2" width="4.8" height="2.5" fill="rgb(83,100,3)"/><rect x="474.7" y="55.2" width="4.4" height="2.5" fill="rgb(90,108,3)"/><rect x="482.1" y="55.2" width="4.9" height="2.5" fill="rgb(86,103,3)"/><rect x="489.3" y="55.2" width="4.8" height="2.5" fill="rgb(85,103,3)"/><rect x="496.9" y="55.2" width="5.0" height="2.5" fill="rgb(92,109,3)"/><rect x="504.4" y="55.2" width="4.4" height="2.5" fill="rgb(33,47,0)"/><rect x="256.1" y="58.2" width="4.5" height="3.5" fill="rgb(36,51,1)"/><rect x="263.3" y="58.2" width="4.4" height="3.5" fill="rgb(174,185,6)"/><rect x="270.8" y="58.2" width="4.8" height="3.5" fill="rgb(175,186,7)"/><rect x="278.2" y="58.2" width="4.6" height="3.5" fill="rgb(238,241,9)"/><rect x="285.5" y="58.2" width="5.0" height="3.5" fill="rgb(247,248,9)"/><rect x="292.9" y="58.2" width="4.7" height="3.5" fill="rgb(227,231,8)"/><rect x="300.2" y="58.2" width="4.8" height="3.5" fill="rgb(221,226,8)"/><rect x="307.8" y="58.2" width="4.3" height="3.5" fill="rgb(210,216,8)"/><rect x="315.2" y="58.2" width="5.0" height="3.5" fill="rgb(207,214,8)"/><rect x="322.7" y="58.2" width="4.2" height="3.5" fill="rgb(223,227,8)"/><rect x="330.3" y="58.2" width="4.8" height="3.5" fill="rgb(208,215,8)"/><rect x="337.5" y="58.2" width="4.3" height="3.5" fill="rgb(240,242,9)"/><rect x="345.0" y="58.2" width="4.9" height="3.5" fill="rgb(130,146,5)"/><rect x="352.5" y="58.2" width="4.3" height="3.5" fill="rgb(136,151,5)"/><rect x="359.7" y="58.2" width="5.0" height="3.5" fill="rgb(137,152,5)"/><rect x="367.3" y="58.2" width="4.3" height="3.5" fill="rgb(118,134,4)"/><rect x="374.8" y="58.2" width="4.9" height="3.5" fill="rgb(117,133,4)"/><rect x="382.4" y="58.2" width="4.8" height="3.5" fill="rgb(132,147,5)"/><rect x="389.8" y="58.2" width="4.3" height="3.5" fill="rgb(123,139,4)"/><rect x="397.4" y="58.2" width="4.5" height="3.5" fill="rgb(135,150,5)"/><rect x="405.0" y="58.2" width="4.4" height="3.5" fill="rgb(72,89,2)"/><rect x="412.6" y="58.2" width="4.5" height="3.5" fill="rgb(123,139,4)"/><rect x="420.2" y="58.2" width="4.7" height="3.5" fill="rgb(124,139,4)"/><rect x="427.4" y="58.2" width="4.2" height="3.5" fill="rgb(90,108,3)"/><rect x="434.8" y="58.2" width="4.9" height="3.5" fill="rgb(84,101,3)"/><rect x="442.1" y="58.2" width="4.7" height="3.5" fill="rgb(83,100,3)"/><rect x="449.4" y="58.2" width="4.3" height="3.5" fill="rgb(81,98,3)"/><rect x="456.6" y="58.2" width="4.2" height="3.5" fill="rgb(90,107,3)"/><rect x="464.1" y="58.2" width="5.1" height="3.5" fill="rgb(80,98,3)"/><rect x="471.4" y="58.2" width="4.6" height="3.5" fill="rgb(77,95,3)"/><rect x="478.9" y="58.2" width="4.6" height="3.5" fill="rgb(90,107,3)"/><rect x="486.3" y="58.2" width="4.4" height="3.5" fill="rgb(83,100,3)"/><rect x="493.9" y="58.2" width="4.4" height="3.5" fill="rgb(92,109,3)"/><rect x="501.1" y="58.2" width="4.3" height="3.5" fill="rgb(88,105,3)"/><rect x="256.1" y="62.2" width="4.9" height="3.5" fill="rgb(35,50,1)"/><rect x="263.5" y="62.2" width="4.8" height="3.5" fill="rgb(168,180,6)"/><rect x="270.7" y="62.2" width="4.6" height="3.5" fill="rgb(157,170,6)"/><rect x="278.2" y="62.2" width="5.0" height="3.5" fill="rgb(249,250,9)"/><rect x="285.4" y="62.2" width="4.4" height="3.5" fill="rgb(207,214,8)"/><rect x="292.7" y="62.2" width="4.5" height="3.5" fill="rgb(250,250,9)"/><rect x="300.2" y="62.2" width="4.6" height="3.5" fill="rgb(249,250,9)"/><rect x="307.7" y="62.2" width="4.9" height="3.5" fill="rgb(232,235,9)"/><rect x="315.1" y="62.2" width="4.5" height="3.5" fill="rgb(237,240,9)"/><rect x="322.5" y="62.2" width="4.8" height="3.5" fill="rgb(214,220,8)"/><rect x="329.8" y="62.2" width="4.6" height="3.5" fill="rgb(242,244,9)"/><rect x="337.2" y="62.2" width="4.3" height="3.5" fill="rgb(243,245,9)"/><rect x="344.7" y="62.2" width="4.4" height="3.5" fill="rgb(127,143,5)"/><rect x="351.9" y="62.2" width="4.8" height="3.5" fill="rgb(120,136,4)"/><rect x="359.4" y="62.2" width="4.3" height="3.5" fill="rgb(137,152,5)"/><rect x="366.7" y="62.2" width="4.7" height="3.5" fill="rgb(122,138,4)"/><rect x="374.1" y="62.2" width="4.4" height="3.5" fill="rgb(120,136,4)"/><rect x="381.5" y="62.2" width="4.3" height="3.5" fill="rgb(140,155,5)"/><rect x="388.9" y="62.2" width="4.5" height="3.5" fill="rgb(140,154,5)"/><rect x="396.2" y="62.2" width="4.9" height="3.5" fill="rgb(140,155,5)"/><rect x="403.7" y="62.2" width="4.8" height="3.5" fill="rgb(127,142,5)"/><rect x="411.3" y="62.2" width="4.5" height="3.5" fill="rgb(118,134,4)"/><rect x="418.6" y="62.2" width="4.9" height="3.5" fill="rgb(117,133,4)"/><rect x="425.9" y="62.2" width="4.8" height="3.5" fill="rgb(88,105,3)"/><rect x="433.3" y="62.2" width="4.7" height="3.5" fill="rgb(84,102,3)"/><rect x="440.7" y="62.2" width="5.0" height="3.5" fill="rgb(84,101,3)"/><rect x="448.2" y="62.2" width="4.9" height="3.5" fill="rgb(84,101,3)"/><rect x="455.4" y="62.2" width="4.8" height="3.5" fill="rgb(84,101,3)"/><rect x="463.0" y="62.2" width="4.8" height="3.5" fill="rgb(91,108,3)"/><rect x="470.4" y="62.2" width="4.8" height="3.5" fill="rgb(90,108,3)"/><rect x="478.0" y="62.2" width="4.8" height="3.5" fill="rgb(84,102,3)"/><rect x="485.7" y="62.2" width="4.9" height="3.5" fill="rgb(79,96,3)"/><rect x="493.0" y="62.2" width="4.4" height="3.5" fill="rgb(88,106,3)"/><rect x="500.4" y="62.2" width="4.8" height="3.5" fill="rgb(84,101,3)"/><rect x="253.6" y="66.2" width="4.4" height="2.5" fill="rgb(35,50,1)"/><rect x="261.0" y="66.2" width="4.5" height="2.5" fill="rgb(87,105,3)"/><rect x="268.6" y="66.2" width="4.2" height="2.5" fill="rgb(85,102,3)"/><rect x="275.9" y="66.2" width="4.9" height="2.5" fill="rgb(86,103,3)"/><rect x="283.4" y="66.2" width="4.3" height="2.5" fill="rgb(239,241,9)"/><rect x="290.8" y="66.2" width="4.8" height="2.5" fill="rgb(222,227,8)"/><rect x="298.2" y="66.2" width="4.9" height="2.5" fill="rgb(219,224,8)"/><rect x="305.5" y="66.2" width="5.1" height="2.5" fill="rgb(220,225,8)"/><rect x="312.8" y="66.2" width="4.6" height="2.5" fill="rgb(205,213,8)"/><rect x="320.2" y="66.2" width="5.1" height="2.5" fill="rgb(231,234,9)"/><rect x="327.5" y="66.2" width="4.4" height="2.5" fill="rgb(115,132,4)"/><rect x="335.0" y="66.2" width="4.6" height="2.5" fill="rgb(116,132,4)"/><rect x="342.2" y="66.2" width="4.5" height="2.5" fill="rgb(137,152,5)"/><rect x="349.6" y="66.2" width="4.9" height="2.5" fill="rgb(133,148,5)"/><rect x="357.0" y="66.2" width="4.4" height="2.5" fill="rgb(151,165,6)"/><rect x="364.2" y="66.2" width="4.4" height="2.5" fill="rgb(232,236,9)"/><rect x="371.4" y="66.2" width="4.9" height="2.5" fill="rgb(202,209,8)"/><rect x="378.8" y="66.2" width="4.7" height="2.5" fill="rgb(225,229,8)"/><rect x="386.0" y="66.2" width="4.5" height="2.5" fill="rgb(206,213,8)"/><rect x="393.3" y="66.2" width="4.9" height="2.5" fill="rgb(225,229,8)"/><rect x="400.6" y="66.2" width="4.7" height="2.5" fill="rgb(217,223,8)"/><rect x="408.2" y="66.2" width="4.5" height="2.5" fill="rgb(202,209,8)"/><rect x="415.5" y="66.2" width="4.5" height="2.5" fill="rgb(235,238,9)"/><rect x="422.8" y="66.2" width="4.4" height="2.5" fill="rgb(196,205,7)"/><rect x="430.1" y="66.2" width="4.5" height="2.5" fill="rgb(186,195,7)"/><rect x="437.4" y="66.2" width="4.6" height="2.5" fill="rgb(196,205,7)"/><rect x="444.9" y="66.2" width="4.8" height="2.5" fill="rgb(204,211,8)"/><rect x="452.1" y="66.2" width="5.0" height="2.5" fill="rgb(201,209,8)"/><rect x="459.3" y="66.2" width="5.0" height="2.5" fill="rgb(188,198,7)"/><rect x="466.6" y="66.2" width="4.9" height="2.5" fill="rgb(219,225,8)"/><rect x="474.1" y="66.2" width="4.2" height="2.5" fill="rgb(116,132,4)"/><rect x="481.6" y="66.2" width="4.4" height="2.5" fill="rgb(227,231,8)"/><rect x="489.1" y="66.2" width="4.4" height="2.5" fill="rgb(190,199,7)"/><rect x="496.5" y="66.2" width="4.3" height="2.5" fill="rgb(219,224,8)"/><rect x="503.9" y="66.2" width="4.4" height="2.5" fill="rgb(36,51,1)"/><rect x="253.6" y="69.2" width="4.9" height="2.5" fill="rgb(36,51,1)"/><rect x="260.9" y="69.2" width="4.9" height="2.5" fill="rgb(88,105,3)"/><rect x="268.4" y="69.2" width="4.8" height="2.5" fill="rgb(90,108,3)"/><rect x="275.9" y="69.2" width="4.6" height="2.5" fill="rgb(86,103,3)"/><rect x="283.1" y="69.2" width="4.4" height="2.5" fill="rgb(236,239,9)"/><rect x="290.4" y="69.2" width="4.6" height="2.5" fill="rgb(206,214,8)"/><rect x="298.0" y="69.2" width="4.3" height="2.5" fill="rgb(198,207,7)"/><rect x="305.5" y="69.2" width="4.7" height="2.5" fill="rgb(218,224,8)"/><rect x="312.9" y="69.2" width="5.0" height="2.5" fill="rgb(127,142,5)"/><rect x="320.2" y="69.2" width="4.8" height="2.5" fill="rgb(217,223,8)"/><rect x="327.5" y="69.2" width="4.6" height="2.5" fill="rgb(234,237,9)"/><rect x="334.9" y="69.2" width="4.8" height="2.5" fill="rgb(240,242,9)"/><rect x="342.1" y="69.2" width="4.7" height="2.5" fill="rgb(81,98,3)"/><rect x="349.2" y="69.2" width="4.5" height="2.5" fill="rgb(144,158,5)"/><rect x="356.6" y="69.2" width="4.6" height="2.5" fill="rgb(153,166,6)"/><rect x="363.9" y="69.2" width="4.8" height="2.5" fill="rgb(128,143,5)"/><rect x="371.3" y="69.2" width="5.0" height="2.5" fill="rgb(224,229,8)"/><rect x="378.9" y="69.2" width="4.7" height="2.5" fill="rgb(212,219,8)"/><rect x="386.1" y="69.2" width="4.6" height="2.5" fill="rgb(231,235,9)"/><rect x="393.7" y="69.2" width="4.9" height="2.5" fill="rgb(215,221,8)"/><rect x="401.0" y="69.2" width="4.6" height="2.5" fill="rgb(209,216,8)"/><rect x="408.5" y="69.2" width="4.7" height="2.5" fill="rgb(219,224,8)"/><rect x="415.7" y="69.2" width="4.9" height="2.5" fill="rgb(240,243,9)"/><rect x="423.0" y="69.2" width="4.5" height="2.5" fill="rgb(200,208,7)"/><rect x="430.5" y="69.2" width="4.9" height="2.5" fill="rgb(211,217,8)"/><rect x="438.0" y="69.2" width="5.0" height="2.5" fill="rgb(187,197,7)"/><rect x="445.3" y="69.2" width="4.5" height="2.5" fill="rgb(114,130,4)"/><rect x="452.7" y="69.2" width="5.0" height="2.5" fill="rgb(186,196,7)"/><rect x="460.0" y="69.2" width="4.9" height="2.5" fill="rgb(212,218,8)"/><rect x="467.3" y="69.2" width="4.8" height="2.5" fill="rgb(225,229,8)"/><rect x="474.7" y="69.2" width="4.7" height="2.5" fill="rgb(212,219,8)"/><rect x="482.2" y="69.2" width="4.8" height="2.5" fill="rgb(215,221,8)"/><rect x="489.8" y="69.2" width="4.3" height="2.5" fill="rgb(205,212,8)"/><rect x="497.1" y="69.2" width="4.9" height="2.5" fill="rgb(106,123,4)"/><rect x="504.6" y="69.2" width="4.5" height="2.5" fill="rgb(36,51,1)"/><rect x="256.7" y="72.2" width="4.4" height="2.5" fill="rgb(36,50,1)"/><rect x="264.1" y="72.2" width="4.5" height="2.5" fill="rgb(82,99,3)"/><rect x="271.6" y="72.2" width="5.0" height="2.5" fill="rgb(84,101,3)"/><rect x="279.1" y="72.2" width="4.2" height="2.5" fill="rgb(78,96,3)"/><rect x="286.7" y="72.2" width="4.7" height="2.5" fill="rgb(79,97,3)"/><rect x="294.2" y="72.2" width="4.2" height="2.5" fill="rgb(92,109,3)"/><rect x="301.7" y="72.2" width="5.0" height="2.5" fill="rgb(191,200,7)"/><rect x="309.2" y="72.2" width="4.6" height="2.5" fill="rgb(215,221,8)"/><rect x="316.5" y="72.2" width="4.4" height="2.5" fill="rgb(180,190,7)"/><rect x="324.1" y="72.2" width="4.2" height="2.5" fill="rgb(100,117,3)"/><rect x="331.4" y="72.2" width="5.1" height="2.5" fill="rgb(203,211,8)"/><rect x="338.7" y="72.2" width="4.3" height="2.5" fill="rgb(179,190,7)"/><rect x="346.0" y="72.2" width="4.4" height="2.5" fill="rgb(126,142,5)"/><rect x="353.4" y="72.2" width="4.2" height="2.5" fill="rgb(146,160,5)"/><rect x="360.7" y="72.2" width="5.0" height="2.5" fill="rgb(147,161,5)"/><rect x="368.2" y="72.2" width="4.8" height="2.5" fill="rgb(146,160,5)"/><rect x="375.5" y="72.2" width="5.0" height="2.5" fill="rgb(145,159,5)"/><rect x="382.9" y="72.2" width="4.8" height="2.5" fill="rgb(132,148,5)"/><rect x="390.4" y="72.2" width="4.8" height="2.5" fill="rgb(72,89,2)"/><rect x="397.8" y="72.2" width="4.5" height="2.5" fill="rgb(148,162,5)"/><rect x="405.2" y="72.2" width="5.0" height="2.5" fill="rgb(146,160,5)"/><rect x="412.7" y="72.2" width="4.5" height="2.5" fill="rgb(79,96,3)"/><rect x="420.2" y="72.2" width="4.8" height="2.5" fill="rgb(141,156,5)"/><rect x="427.6" y="72.2" width="4.5" height="2.5" fill="rgb(213,219,8)"/><rect x="434.8" y="72.2" width="4.6" height="2.5" fill="rgb(237,240,9)"/><rect x="442.1" y="72.2" width="5.1" height="2.5" fill="rgb(115,131,4)"/><rect x="449.7" y="72.2" width="4.5" height="2.5" fill="rgb(124,139,4)"/><rect x="456.9" y="72.2" width="4.8" height="2.5" fill="rgb(107,124,4)"/><rect x="464.3" y="72.2" width="4.7" height="2.5" fill="rgb(125,140,5)"/><rect x="471.9" y="72.2" width="4.7" height="2.5" fill="rgb(128,144,5)"/><rect x="479.4" y="72.2" width="5.0" height="2.5" fill="rgb(113,129,4)"/><rect x="486.8" y="72.2" width="4.7" height="2.5" fill="rgb(114,131,4)"/><rect x="494.0" y="72.2" width="4.5" height="2.5" fill="rgb(126,142,5)"/><rect x="501.4" y="72.2" width="4.6" height="2.5" fill="rgb(106,123,4)"/><rect x="256.7" y="75.2" width="5.0" height="2.5" fill="rgb(35,49,1)"/><rect x="264.1" y="75.2" width="4.9" height="2.5" fill="rgb(78,95,3)"/><rect x="271.6" y="75.2" width="4.4" height="2.5" fill="rgb(91,108,3)"/><rect x="278.9" y="75.2" width="4.8" height="2.5" fill="rgb(90,108,3)"/><rect x="286.1" y="75.2" width="4.3" height="2.5" fill="rgb(91,109,3)"/><rect x="293.6" y="75.2" width="4.4" height="2.5" fill="rgb(86,103,3)"/><rect x="300.9" y="75.2" width="4.4" height="2.5" fill="rgb(206,213,8)"/><rect x="308.5" y="75.2" width="4.6" height="2.5" fill="rgb(200,208,7)"/><rect x="315.9" y="75.2" width="4.9" height="2.5" fill="rgb(184,194,7)"/><rect x="323.4" y="75.2" width="4.3" height="2.5" fill="rgb(207,214,8)"/><rect x="330.7" y="75.2" width="4.4" height="2.5" fill="rgb(208,215,8)"/><rect x="338.1" y="75.2" width="5.0" height="2.5" fill="rgb(199,207,7)"/><rect x="345.3" y="75.2" width="4.7" height="2.5" fill="rgb(140,154,5)"/><rect x="352.8" y="75.2" width="4.4" height="2.5" fill="rgb(131,146,5)"/><rect x="360.4" y="75.2" width="4.7" height="2.5" fill="rgb(145,159,5)"/><rect x="367.8" y="75.2" width="4.3" height="2.5" fill="rgb(137,151,5)"/><rect x="375.4" y="75.2" width="4.5" height="2.5" fill="rgb(127,142,5)"/><rect x="382.7" y="75.2" width="4.9" height="2.5" fill="rgb(128,144,5)"/><rect x="390.0" y="75.2" width="4.5" height="2.5" fill="rgb(130,145,5)"/><rect x="397.5" y="75.2" width="4.2" height="2.5" fill="rgb(79,96,3)"/><rect x="404.9" y="75.2" width="4.6" height="2.5" fill="rgb(153,166,6)"/><rect x="412.4" y="75.2" width="4.9" height="2.5" fill="rgb(141,155,5)"/><rect x="420.0" y="75.2" width="4.9" height="2.5" fill="rgb(137,152,5)"/><rect x="427.3" y="75.2" width="4.4" height="2.5" fill="rgb(246,247,9)"/><rect x="434.5" y="75.2" width="4.4" height="2.5" fill="rgb(208,215,8)"/><rect x="441.7" y="75.2" width="4.7" height="2.5" fill="rgb(63,80,2)"/><rect x="449.2" y="75.2" width="5.1" height="2.5" fill="rgb(126,141,5)"/><rect x="456.4" y="75.2" width="4.7" height="2.5" fill="rgb(127,142,5)"/><rect x="464.0" y="75.2" width="5.1" height="2.5" fill="rgb(115,131,4)"/><rect x="471.3" y="75.2" width="4.8" height="2.5" fill="rgb(112,128,4)"/><rect x="478.8" y="75.2" width="4.6" height="2.5" fill="rgb(128,143,5)"/><rect x="486.2" y="75.2" width="5.1" height="2.5" fill="rgb(116,132,4)"/><rect x="493.8" y="75.2" width="4.2" height="2.5" fill="rgb(128,144,5)"/><rect x="501.3" y="75.2" width="5.0" height="2.5" fill="rgb(112,128,4)"/><rect x="257.3" y="78.2" width="4.9" height="2.5" fill="rgb(27,39,0)"/><rect x="264.6" y="78.2" width="5.1" height="2.5" fill="rgb(88,106,3)"/><rect x="272.0" y="78.2" width="4.9" height="2.5" fill="rgb(78,96,3)"/><rect x="279.6" y="78.2" width="4.5" height="2.5" fill="rgb(92,109,3)"/><rect x="287.2" y="78.2" width="4.3" height="2.5" fill="rgb(86,104,3)"/><rect x="294.6" y="78.2" width="4.3" height="2.5" fill="rgb(82,100,3)"/><rect x="301.8" y="78.2" width="4.4" height="2.5" fill="rgb(117,133,4)"/><rect x="309.3" y="78.2" width="4.2" height="2.5" fill="rgb(109,126,4)"/><rect x="316.5" y="78.2" width="4.2" height="2.5" fill="rgb(122,138,4)"/><rect x="324.1" y="78.2" width="5.0" height="2.5" fill="rgb(127,142,5)"/><rect x="331.4" y="78.2" width="4.3" height="2.5" fill="rgb(126,141,5)"/><rect x="339.0" y="78.2" width="5.0" height="2.5" fill="rgb(116,132,4)"/><path d="M344.3 78.2h4.6l1.0 2.5h-4.6z" fill="rgb(173,184,6)"/><path d="M351.6 78.2h4.6l1.0 2.5h-4.6z" fill="rgb(156,169,6)"/><path d="M358.8 78.2h4.4l1.0 2.5h-4.4z" fill="rgb(166,178,6)"/><path d="M366.1 78.2h4.7l1.0 2.5h-4.7z" fill="rgb(147,161,5)"/><path d="M373.7 78.2h4.4l1.0 2.5h-4.4z" fill="rgb(150,164,6)"/><path d="M381.2 78.2h4.4l1.0 2.5h-4.4z" fill="rgb(159,171,6)"/><rect x="390.7" y="78.2" width="4.4" height="2.5" fill="rgb(90,108,3)"/><rect x="398.1" y="78.2" width="5.0" height="2.5" fill="rgb(85,102,3)"/><rect x="405.4" y="78.2" width="4.3" height="2.5" fill="rgb(79,97,3)"/><rect x="413.0" y="78.2" width="4.4" height="2.5" fill="rgb(91,108,3)"/><rect x="420.4" y="78.2" width="4.4" height="2.5" fill="rgb(85,102,3)"/><rect x="427.8" y="78.2" width="5.1" height="2.5" fill="rgb(90,108,3)"/><rect x="435.3" y="78.2" width="4.3" height="2.5" fill="rgb(105,121,4)"/><path d="M448.2 78.2h4.3l-2.5 2.5h-4.3z" fill="rgb(176,187,7)"/><path d="M455.8 78.2h5.1l-2.5 2.5h-5.1z" fill="rgb(193,202,7)"/><path d="M463.0 78.2h4.5l-2.5 2.5h-4.5z" fill="rgb(166,178,6)"/><path d="M470.3 78.2h4.9l-2.5 2.5h-4.9z" fill="rgb(94,112,3)"/><path d="M477.8 78.2h4.6l-2.5 2.5h-4.6z" fill="rgb(185,195,7)"/><path d="M485.2 78.2h4.7l-2.5 2.5h-4.7z" fill="rgb(91,109,3)"/><rect x="487.0" y="78.2" width="4.9" height="2.5" fill="rgb(80,97,3)"/><rect x="494.5" y="78.2" width="4.3" height="2.5" fill="rgb(88,106,3)"/><rect x="502.1" y="78.2" width="4.6" height="2.5" fill="rgb(79,96,3)"/><rect x="257.3" y="81.2" width="4.8" height="2.5" fill="rgb(34,48,0)"/><rect x="264.5" y="81.2" width="4.7" height="2.5" fill="rgb(88,106,3)"/><rect x="271.8" y="81.2" width="4.9" height="2.5" fill="rgb(80,98,3)"/><rect x="279.3" y="81.2" width="4.2" height="2.5" fill="rgb(84,101,3)"/><rect x="287.0" y="81.2" width="5.0" height="2.5" fill="rgb(90,107,3)"/><rect x="294.3" y="81.2" width="4.2" height="2.5" fill="rgb(91,108,3)"/><rect x="301.9" y="81.2" width="5.0" height="2.5" fill="rgb(127,142,5)"/><rect x="309.1" y="81.2" width="4.9" height="2.5" fill="rgb(112,128,4)"/><rect x="316.7" y="81.2" width="4.5" height="2.5" fill="rgb(114,131,4)"/><rect x="324.2" y="81.2" width="4.7" height="2.5" fill="rgb(69,86,2)"/><rect x="331.5" y="81.2" width="4.3" height="2.5" fill="rgb(116,132,4)"/><rect x="338.9" y="81.2" width="5.0" height="2.5" fill="rgb(122,138,4)"/><path d="M345.2 81.2h4.5l1.0 2.5h-4.5z" fill="rgb(156,169,6)"/><path d="M352.5 81.2h5.0l1.0 2.5h-5.0z" fill="rgb(170,181,6)"/><path d="M359.8 81.2h4.7l1.0 2.5h-4.7z" fill="rgb(176,187,7)"/><path d="M367.1 81.2h4.2l1.0 2.5h-4.2z" fill="rgb(163,175,6)"/><path d="M374.5 81.2h4.4l1.0 2.5h-4.4z" fill="rgb(177,188,7)"/><path d="M382.0 81.2h4.9l1.0 2.5h-4.9z" fill="rgb(149,162,5)"/><rect x="390.5" y="81.2" width="4.8" height="2.5" fill="rgb(78,95,3)"/><rect x="397.9" y="81.2" width="4.7" height="2.5" fill="rgb(49,65,1)"/><rect x="405.2" y="81.2" width="4.8" height="2.5" fill="rgb(86,104,3)"/><rect x="412.5" y="81.2" width="4.8" height="2.5" fill="rgb(79,96,3)"/><rect x="419.9" y="81.2" width="4.6" height="2.5" fill="rgb(78,95,3)"/><rect x="427.3" y="81.2" width="4.3" height="2.5" fill="rgb(96,113,3)"/><rect x="434.6" y="81.2" width="4.7" height="2.5" fill="rgb(94,111,3)"/><path d="M444.6 81.2h4.7l-2.5 2.5h-4.7z" fill="rgb(198,206,7)"/><path d="M451.9 81.2h4.9l-2.5 2.5h-4.9z" fill="rgb(194,202,7)"/><path d="M459.3 81.2h4.6l-2.5 2.5h-4.6z" fill="rgb(201,209,7)"/><path d="M466.6 81.2h4.6l-2.5 2.5h-4.6z" fill="rgb(197,205,7)"/><path d="M473.9 81.2h4.5l-2.5 2.5h-4.5z" fill="rgb(201,209,8)"/><path d="M481.3 81.2h4.6l-2.5 2.5h-4.6z" fill="rgb(81,98,3)"/><rect x="486.3" y="81.2" width="5.0" height="2.5" fill="rgb(92,110,3)"/><rect x="493.8" y="81.2" width="4.2" height="2.5" fill="rgb(90,107,3)"/><rect x="501.4" y="81.2" width="5.0" height="2.5" fill="rgb(85,103,3)"/><rect x="252.4" y="84.2" width="4.5" height="2.5" fill="rgb(34,49,1)"/><rect x="259.9" y="84.2" width="4.6" height="2.5" fill="rgb(86,103,3)"/><rect x="267.4" y="84.2" width="4.3" height="2.5" fill="rgb(51,68,1)"/><rect x="274.7" y="84.2" width="5.0" height="2.5" fill="rgb(92,110,3)"/><rect x="282.1" y="84.2" width="5.0" height="2.5" fill="rgb(87,104,3)"/><rect x="289.5" y="84.2" width="4.8" height="2.5" fill="rgb(54,71,1)"/><rect x="297.1" y="84.2" width="4.4" height="2.5" fill="rgb(81,99,3)"/><rect x="304.4" y="84.2" width="4.8" height="2.5" fill="rgb(86,103,3)"/><rect x="311.9" y="84.2" width="4.6" height="2.5" fill="rgb(196,205,7)"/><rect x="319.5" y="84.2" width="4.5" height="2.5" fill="rgb(227,231,8)"/><rect x="327.1" y="84.2" width="4.7" height="2.5" fill="rgb(213,220,8)"/><rect x="334.3" y="84.2" width="4.4" height="2.5" fill="rgb(227,231,8)"/><path d="M339.7 84.2h4.3l1.0 2.5h-4.3z" fill="rgb(160,173,6)"/><path d="M346.8 84.2h4.5l1.0 2.5h-4.5z" fill="rgb(149,163,6)"/><path d="M354.1 84.2h4.4l1.0 2.5h-4.4z" fill="rgb(158,171,6)"/><path d="M361.7 84.2h5.0l1.0 2.5h-5.0z" fill="rgb(148,162,5)"/><path d="M369.1 84.2h4.8l1.0 2.5h-4.8z" fill="rgb(165,177,6)"/><path d="M376.7 84.2h4.6l1.0 2.5h-4.6z" fill="rgb(152,165,6)"/><path d="M384.2 84.2h4.6l1.0 2.5h-4.6z" fill="rgb(163,175,6)"/><rect x="393.9" y="84.2" width="4.4" height="2.5" fill="rgb(82,99,3)"/><rect x="401.4" y="84.2" width="4.7" height="2.5" fill="rgb(85,103,3)"/><rect x="409.0" y="84.2" width="5.0" height="2.5" fill="rgb(78,95,3)"/><rect x="416.6" y="84.2" width="4.6" height="2.5" fill="rgb(81,98,3)"/><rect x="423.8" y="84.2" width="4.5" height="2.5" fill="rgb(92,109,3)"/><rect x="431.1" y="84.2" width="4.3" height="2.5" fill="rgb(101,117,4)"/><path d="M444.0 84.2h4.3l-2.5 2.5h-4.3z" fill="rgb(198,206,7)"/><path d="M451.5 84.2h4.9l-2.5 2.5h-4.9z" fill="rgb(180,190,7)"/><path d="M459.1 84.2h5.1l-2.5 2.5h-5.1z" fill="rgb(169,181,6)"/><path d="M466.4 84.2h4.5l-2.5 2.5h-4.5z" fill="rgb(193,202,7)"/><path d="M473.6 84.2h4.8l-2.5 2.5h-4.8z" fill="rgb(179,189,7)"/><path d="M481.0 84.2h4.7l-2.5 2.5h-4.7z" fill="rgb(197,206,7)"/><rect x="482.8" y="84.2" width="4.9" height="2.5" fill="rgb(67,84,2)"/><rect x="490.2" y="84.2" width="4.8" height="2.5" fill="rgb(64,81,2)"/><rect x="497.5" y="84.2" width="5.0" height="2.5" fill="rgb(69,86,2)"/><rect x="505.0" y="84.2" width="4.7" height="2.5" fill="rgb(33,47,0)"/><rect x="252.4" y="87.2" width="4.7" height="2.5" fill="rgb(35,49,1)"/><rect x="259.7" y="87.2" width="5.0" height="2.5" fill="rgb(84,101,3)"/><rect x="267.1" y="87.2" width="4.6" height="2.5" fill="rgb(87,104,3)"/><rect x="274.6" y="87.2" width="4.5" height="2.5" fill="rgb(84,102,3)"/><rect x="282.2" y="87.2" width="4.5" height="2.5" fill="rgb(83,101,3)"/><rect x="289.6" y="87.2" width="5.0" height="2.5" fill="rgb(82,100,3)"/><rect x="297.1" y="87.2" width="4.4" height="2.5" fill="rgb(85,102,3)"/><rect x="304.6" y="87.2" width="4.7" height="2.5" fill="rgb(82,99,3)"/><rect x="311.8" y="87.2" width="5.0" height="2.5" fill="rgb(211,217,8)"/><rect x="319.2" y="87.2" width="5.0" height="2.5" fill="rgb(199,207,7)"/><rect x="326.7" y="87.2" width="4.6" height="2.5" fill="rgb(227,231,8)"/><rect x="334.3" y="87.2" width="4.2" height="2.5" fill="rgb(122,138,4)"/><path d="M340.8 87.2h5.0l1.0 2.5h-5.0z" fill="rgb(164,176,6)"/><path d="M348.3 87.2h5.1l1.0 2.5h-5.1z" fill="rgb(171,182,6)"/><path d="M355.8 87.2h4.8l1.0 2.5h-4.8z" fill="rgb(162,175,6)"/><path d="M363.3 87.2h4.7l1.0 2.5h-4.7z" fill="rgb(158,171,6)"/><path d="M370.9 87.2h4.8l1.0 2.5h-4.8z" fill="rgb(157,170,6)"/><path d="M378.2 87.2h4.5l1.0 2.5h-4.5z" fill="rgb(162,175,6)"/><path d="M385.6 87.2h4.7l1.0 2.5h-4.7z" fill="rgb(158,171,6)"/><rect x="394.0" y="87.2" width="4.6" height="2.5" fill="rgb(91,108,3)"/><rect x="401.2" y="87.2" width="5.1" height="2.5" fill="rgb(84,101,3)"/><rect x="408.4" y="87.2" width="4.9" height="2.5" fill="rgb(83,100,3)"/><rect x="415.6" y="87.2" width="5.1" height="2.5" fill="rgb(80,97,3)"/><rect x="423.1" y="87.2" width="4.3" height="2.5" fill="rgb(101,118,4)"/><rect x="430.6" y="87.2" width="4.9" height="2.5" fill="rgb(103,120,4)"/><path d="M440.3 87.2h4.6l-2.5 2.5h-4.6z" fill="rgb(203,210,8)"/><path d="M447.7 87.2h4.7l-2.5 2.5h-4.7z" fill="rgb(171,183,6)"/><path d="M455.1 87.2h4.4l-2.5 2.5h-4.4z" fill="rgb(184,194,7)"/><path d="M462.4 87.2h4.5l-2.5 2.5h-4.5z" fill="rgb(189,198,7)"/><path d="M469.6 87.2h4.2l-2.5 2.5h-4.2z" fill="rgb(203,211,8)"/><path d="M477.2 87.2h4.5l-2.5 2.5h-4.5z" fill="rgb(181,191,7)"/><rect x="482.3" y="87.2" width="4.5" height="2.5" fill="rgb(42,57,1)"/><rect x="489.5" y="87.2" width="4.8" height="2.5" fill="rgb(68,85,2)"/><rect x="497.1" y="87.2" width="4.7" height="2.5" fill="rgb(61,78,2)"/><rect x="504.6" y="87.2" width="4.7" height="2.5" fill="rgb(34,48,0)"/><rect x="258.0" y="90.2" width="4.3" height="2.5" fill="rgb(86,103,3)"/><rect x="265.6" y="90.2" width="4.3" height="2.5" fill="rgb(80,97,3)"/><rect x="273.1" y="90.2" width="4.7" height="2.5" fill="rgb(79,96,3)"/><rect x="280.5" y="90.2" width="4.9" height="2.5" fill="rgb(90,107,3)"/><rect x="287.7" y="90.2" width="4.9" height="2.5" fill="rgb(48,64,1)"/><rect x="295.2" y="90.2" width="4.5" height="2.5" fill="rgb(82,100,3)"/><rect x="302.5" y="90.2" width="4.3" height="2.5" fill="rgb(80,97,3)"/><rect x="309.8" y="90.2" width="4.5" height="2.5" fill="rgb(225,229,8)"/><rect x="317.4" y="90.2" width="4.2" height="2.5" fill="rgb(205,212,8)"/><rect x="324.9" y="90.2" width="5.1" height="2.5" fill="rgb(224,229,8)"/><rect x="332.1" y="90.2" width="4.4" height="2.5" fill="rgb(204,212,8)"/><rect x="339.6" y="90.2" width="5.0" height="2.5" fill="rgb(187,197,7)"/><path d="M345.0 90.2h4.9l1.0 2.5h-4.9z" fill="rgb(134,149,5)"/><path d="M352.3 90.2h5.1l1.0 2.5h-5.1z" fill="rgb(134,149,5)"/><path d="M359.6 90.2h4.4l1.0 2.5h-4.4z" fill="rgb(139,154,5)"/><path d="M366.9 90.2h4.4l1.0 2.5h-4.4z" fill="rgb(136,151,5)"/><path d="M374.3 90.2h4.6l1.0 2.5h-4.6z" fill="rgb(134,149,5)"/><path d="M381.9 90.2h4.4l1.0 2.5h-4.4z" fill="rgb(220,225,8)"/><rect x="391.4" y="90.2" width="5.1" height="2.5" fill="rgb(201,209,8)"/><rect x="398.8" y="90.2" width="4.3" height="2.5" fill="rgb(198,206,7)"/><rect x="406.3" y="90.2" width="4.6" height="2.5" fill="rgb(208,215,8)"/><rect x="413.9" y="90.2" width="4.9" height="2.5" fill="rgb(188,198,7)"/><rect x="421.5" y="90.2" width="4.4" height="2.5" fill="rgb(201,208,7)"/><path d="M432.6 90.2h4.2l-1.7 2.5h-4.2z" fill="rgb(133,148,5)"/><path d="M440.2 90.2h4.3l-1.7 2.5h-4.3z" fill="rgb(144,158,5)"/><path d="M447.7 90.2h4.4l-1.7 2.5h-4.4z" fill="rgb(145,159,5)"/><path d="M455.1 90.2h4.6l-1.7 2.5h-4.6z" fill="rgb(149,162,5)"/><path d="M462.4 90.2h4.3l-1.7 2.5h-4.3z" fill="rgb(149,162,5)"/><path d="M469.7 90.2h4.5l-1.7 2.5h-4.5z" fill="rgb(135,150,5)"/><rect x="473.6" y="90.2" width="5.1" height="2.5" fill="rgb(58,75,2)"/><rect x="480.8" y="90.2" width="4.6" height="2.5" fill="rgb(54,71,1)"/><rect x="488.3" y="90.2" width="4.4" height="2.5" fill="rgb(51,67,1)"/><rect x="495.9" y="90.2" width="4.5" height="2.5" fill="rgb(57,74,2)"/><rect x="503.3" y="90.2" width="4.4" height="2.5" fill="rgb(34,48,0)"/><rect x="258.0" y="93.2" width="4.7" height="2.5" fill="rgb(91,108,3)"/><rect x="265.4" y="93.2" width="4.9" height="2.5" fill="rgb(86,103,3)"/><rect x="272.7" y="93.2" width="4.7" height="2.5" fill="rgb(83,101,3)"/><rect x="280.2" y="93.2" width="4.3" height="2.5" fill="rgb(82,99,3)"/><rect x="287.5" y="93.2" width="4.5" height="2.5" fill="rgb(80,97,3)"/><rect x="294.8" y="93.2" width="4.7" height="2.5" fill="rgb(88,105,3)"/><rect x="302.4" y="93.2" width="4.5" height="2.5" fill="rgb(83,100,3)"/><rect x="309.9" y="93.2" width="4.4" height="2.5" fill="rgb(188,198,7)"/><rect x="317.2" y="93.2" width="4.5" height="2.5" fill="rgb(191,200,7)"/><rect x="324.8" y="93.2" width="4.9" height="2.5" fill="rgb(203,210,8)"/><rect x="332.3" y="93.2" width="4.3" height="2.5" fill="rgb(224,228,8)"/><rect x="339.5" y="93.2" width="4.8" height="2.5" fill="rgb(108,125,4)"/><path d="M345.8 93.2h4.6l1.0 2.5h-4.6z" fill="rgb(144,158,5)"/><path d="M353.0 93.2h4.4l1.0 2.5h-4.4z" fill="rgb(144,158,5)"/><path d="M360.5 93.2h4.8l1.0 2.5h-4.8z" fill="rgb(149,163,5)"/><path d="M367.8 93.2h5.0l1.0 2.5h-5.0z" fill="rgb(130,146,5)"/><path d="M375.4 93.2h4.2l1.0 2.5h-4.2z" fill="rgb(146,160,5)"/><path d="M383.0 93.2h4.4l1.0 2.5h-4.4z" fill="rgb(187,197,7)"/><rect x="391.4" y="93.2" width="4.2" height="2.5" fill="rgb(199,207,7)"/><rect x="398.9" y="93.2" width="4.4" height="2.5" fill="rgb(199,207,7)"/><rect x="406.4" y="93.2" width="4.8" height="2.5" fill="rgb(222,227,8)"/><rect x="414.0" y="93.2" width="4.8" height="2.5" fill="rgb(196,205,7)"/><rect x="421.5" y="93.2" width="5.0" height="2.5" fill="rgb(110,126,4)"/><path d="M430.6 93.2h4.2l-1.7 2.5h-4.2z" fill="rgb(147,161,5)"/><path d="M438.1 93.2h4.2l-1.7 2.5h-4.2z" fill="rgb(149,163,5)"/><path d="M445.4 93.2h4.9l-1.7 2.5h-4.9z" fill="rgb(132,147,5)"/><path d="M452.8 93.2h4.9l-1.7 2.5h-4.9z" fill="rgb(131,146,5)"/><path d="M460.1 93.2h4.6l-1.7 2.5h-4.6z" fill="rgb(128,143,5)"/><path d="M467.5 93.2h4.5l-1.7 2.5h-4.5z" fill="rgb(146,160,5)"/><rect x="473.1" y="93.2" width="4.6" height="2.5" fill="rgb(51,67,1)"/><rect x="480.3" y="93.2" width="4.9" height="2.5" fill="rgb(58,75,2)"/><rect x="487.6" y="93.2" width="4.6" height="2.5" fill="rgb(57,74,2)"/><rect x="495.0" y="93.2" width="4.6" height="2.5" fill="rgb(50,67,1)"/><rect x="502.3" y="93.2" width="4.3" height="2.5" fill="rgb(54,71,1)"/><rect x="256.2" y="96.2" width="4.9" height="3.4" fill="rgb(33,47,0)"/><rect x="263.7" y="96.2" width="5.1" height="3.4" fill="rgb(71,89,2)"/><rect x="271.1" y="96.2" width="4.4" height="3.4" fill="rgb(76,94,2)"/><rect x="278.3" y="96.2" width="4.6" height="3.4" fill="rgb(69,86,2)"/><rect x="285.8" y="96.2" width="4.3" height="3.4" fill="rgb(71,88,2)"/><rect x="293.4" y="96.2" width="4.4" height="3.4" fill="rgb(77,95,3)"/><rect x="300.9" y="96.2" width="4.6" height="3.4" fill="rgb(71,89,2)"/><rect x="308.3" y="96.2" width="4.5" height="3.4" fill="rgb(80,98,3)"/><rect x="315.5" y="96.2" width="4.7" height="3.4" fill="rgb(80,97,3)"/><rect x="322.9" y="96.2" width="4.7" height="3.4" fill="rgb(72,90,2)"/><rect x="330.1" y="96.2" width="4.8" height="3.4" fill="rgb(78,95,3)"/><rect x="337.4" y="96.2" width="4.9" height="3.4" fill="rgb(76,93,2)"/><rect x="345.0" y="96.2" width="4.5" height="3.4" fill="rgb(57,74,2)"/><rect x="352.5" y="96.2" width="4.3" height="3.4" fill="rgb(53,69,1)"/><rect x="359.8" y="96.2" width="4.8" height="3.4" fill="rgb(52,69,1)"/><rect x="367.1" y="96.2" width="4.5" height="3.4" fill="rgb(54,70,1)"/><rect x="374.5" y="96.2" width="4.4" height="3.4" fill="rgb(54,70,1)"/><rect x="382.0" y="96.2" width="5.1" height="3.4" fill="rgb(34,48,0)"/><rect x="389.3" y="96.2" width="4.8" height="3.4" fill="rgb(56,73,2)"/><rect x="396.8" y="96.2" width="4.3" height="3.4" fill="rgb(58,75,2)"/><rect x="404.1" y="96.2" width="4.4" height="3.4" fill="rgb(54,71,1)"/><rect x="411.3" y="96.2" width="5.0" height="3.4" fill="rgb(36,51,1)"/><rect x="418.5" y="96.2" width="5.0" height="3.4" fill="rgb(55,72,2)"/><rect x="425.8" y="96.2" width="4.4" height="3.4" fill="rgb(109,126,4)"/><rect x="433.3" y="96.2" width="4.9" height="3.4" fill="rgb(59,75,2)"/><rect x="440.8" y="96.2" width="4.4" height="3.4" fill="rgb(113,130,4)"/><rect x="448.1" y="96.2" width="5.0" height="3.4" fill="rgb(109,126,4)"/><rect x="455.3" y="96.2" width="4.9" height="3.4" fill="rgb(100,117,3)"/><rect x="462.9" y="96.2" width="4.4" height="3.4" fill="rgb(46,62,1)"/><rect x="470.4" y="96.2" width="4.5" height="3.4" fill="rgb(46,62,1)"/><rect x="477.8" y="96.2" width="4.9" height="3.4" fill="rgb(45,60,1)"/><rect x="485.1" y="96.2" width="4.7" height="3.4" fill="rgb(30,43,0)"/><rect x="492.4" y="96.2" width="4.8" height="3.4" fill="rgb(45,61,1)"/><rect x="500.1" y="96.2" width="4.6" height="3.4" fill="rgb(47,63,1)"/><rect x="256.2" y="100.1" width="4.5" height="3.4" fill="rgb(35,49,1)"/><rect x="263.7" y="100.1" width="4.8" height="3.4" fill="rgb(76,93,2)"/><rect x="271.3" y="100.1" width="5.1" height="3.4" fill="rgb(70,87,2)"/><rect x="278.6" y="100.1" width="4.6" height="3.4" fill="rgb(44,59,1)"/><rect x="286.1" y="100.1" width="4.2" height="3.4" fill="rgb(71,88,2)"/><rect x="293.4" y="100.1" width="4.9" height="3.4" fill="rgb(79,96,3)"/><rect x="301.0" y="100.1" width="4.8" height="3.4" fill="rgb(74,91,2)"/><rect x="308.4" y="100.1" width="4.5" height="3.4" fill="rgb(75,92,2)"/><rect x="315.9" y="100.1" width="4.9" height="3.4" fill="rgb(74,91,2)"/><rect x="323.4" y="100.1" width="4.5" height="3.4" fill="rgb(80,97,3)"/><rect x="330.7" y="100.1" width="4.5" height="3.4" fill="rgb(74,91,2)"/><rect x="338.0" y="100.1" width="4.5" height="3.4" fill="rgb(52,68,1)"/><rect x="345.6" y="100.1" width="5.0" height="3.4" fill="rgb(54,70,1)"/><rect x="353.1" y="100.1" width="5.1" height="3.4" fill="rgb(57,74,2)"/><rect x="360.3" y="100.1" width="4.3" height="3.4" fill="rgb(55,72,2)"/><rect x="367.7" y="100.1" width="4.5" height="3.4" fill="rgb(56,72,2)"/><rect x="375.1" y="100.1" width="4.6" height="3.4" fill="rgb(55,71,2)"/><rect x="382.6" y="100.1" width="4.5" height="3.4" fill="rgb(55,72,2)"/><rect x="389.9" y="100.1" width="4.4" height="3.4" fill="rgb(38,52,1)"/><rect x="397.4" y="100.1" width="4.3" height="3.4" fill="rgb(56,72,2)"/><rect x="405.0" y="100.1" width="4.7" height="3.4" fill="rgb(55,72,2)"/><rect x="412.6" y="100.1" width="4.7" height="3.4" fill="rgb(53,70,1)"/><rect x="420.1" y="100.1" width="4.4" height="3.4" fill="rgb(53,70,1)"/><rect x="427.6" y="100.1" width="4.3" height="3.4" fill="rgb(114,131,4)"/><rect x="435.1" y="100.1" width="4.3" height="3.4" fill="rgb(114,130,4)"/><rect x="442.5" y="100.1" width="4.6" height="3.4" fill="rgb(107,124,4)"/><rect x="450.0" y="100.1" width="4.7" height="3.4" fill="rgb(107,124,4)"/><rect x="457.4" y="100.1" width="4.7" height="3.4" fill="rgb(99,116,3)"/><rect x="464.8" y="100.1" width="4.3" height="3.4" fill="rgb(42,57,1)"/><rect x="472.3" y="100.1" width="4.7" height="3.4" fill="rgb(44,59,1)"/><rect x="479.9" y="100.1" width="4.3" height="3.4" fill="rgb(46,61,1)"/><rect x="487.3" y="100.1" width="4.3" height="3.4" fill="rgb(47,63,1)"/><rect x="494.7" y="100.1" width="4.4" height="3.4" fill="rgb(46,62,1)"/><rect x="502.1" y="100.1" width="4.9" height="3.4" fill="rgb(47,63,1)"/></g></g>
<rect x="479.6" y="99.5" width="21.8" height="2.6" fill="#fff"/>
<rect x="259.7" y="115.1" width="245.3" height="82.5" fill="#030602"/>
<path d="M318.5 152 Q320 162 316.5 172" stroke="#0e2a06" stroke-width="1.2" fill="none" opacity="0.6"/>
<rect x="479.6" y="192.6" width="21.8" height="2.6" fill="#fff"/>
<text x="257.3" y="62.75" font-size="15.9" fill="#000" stroke="#000" stroke-width="0.35" text-anchor="middle" transform="rotate(-90 257.3 62.75)">Neonatal</text>
<text x="257.3" y="156.85" font-size="15.75" fill="#000" stroke="#000" stroke-width="0.35" text-anchor="middle" transform="rotate(-90 257.3 156.85)">Adult</text>
<text x="240.3" y="136.8" font-size="15.7" fill="#000" stroke="#000" stroke-width="0.2" font-weight="bold" transform="rotate(-90 240.3 136.8)">Myh7</text>
<text x="235.4" y="96.0" font-size="9.0" fill="#000" stroke="#000" stroke-width="0.2" font-weight="bold" transform="rotate(-90 235.4 96.0)">YFP</text>
<text x="516.0" y="19.4" font-size="22.5" fill="#000" stroke="#000" stroke-width="0.2" font-weight="bold">c</text>
<text x="605.5" y="20.7" font-size="16.2" fill="#000" stroke="#000" stroke-width="0.35" text-anchor="middle">P28</text>
<rect x="552.1" y="24.2" width="106.4" height="150.7" fill="none" stroke="#000" stroke-width="1.3"/>
<path d="M548.8 174.9H552M550.0 159.8H552M548.8 144.8H552M550.0 129.7H552M548.8 114.6H552M550.0 99.5H552M548.8 84.5H552M550.0 69.4H552M548.8 54.3H552M550.0 39.2H552M548.8 24.2H552" stroke="#000" stroke-width="1"/>
<text x="548.2" y="179.70000000000002" font-size="13.7" fill="#000" stroke="#000" stroke-width="0.1" text-anchor="end">0</text>
<text x="548.2" y="149.55" font-size="13.7" fill="#000" stroke="#000" stroke-width="0.1" text-anchor="end">20</text>
<text x="548.2" y="119.39999999999999" font-size="13.7" fill="#000" stroke="#000" stroke-width="0.1" text-anchor="end">40</text>
<text x="548.2" y="89.25" font-size="13.7" fill="#000" stroke="#000" stroke-width="0.1" text-anchor="end">60</text>
<text x="548.2" y="59.099999999999994" font-size="13.7" fill="#000" stroke="#000" stroke-width="0.1" text-anchor="end">80</text>
<rect x="565.1" y="159.3" width="26.9" height="15.6" fill="#000"/>
<rect x="618.2" y="45.7" width="27.8" height="129.2" fill="#000"/>
<path d="M632.4 45.7V38.8M622.9 38.8H641.3M578.5 159.3V158.3M569.2 158.3H587.8" stroke="#000" stroke-width="1.3"/>
<circle cx="632" cy="33" r="0.8" fill="#999"/><circle cx="632" cy="50" r="0.9" fill="#999"/><circle cx="632" cy="54" r="0.9" fill="#999"/><circle cx="578.5" cy="159.5" r="0.9" fill="#999"/>
<text x="575.8" y="186.0" font-size="12.6" fill="#000" stroke="#000" stroke-width="0.1" text-anchor="middle">Control</text>
<text x="632.1" y="186.0" font-size="12.6" fill="#000" stroke="#000" stroke-width="0.1" text-anchor="middle">G4/6</text>
<text x="605.2" y="201.5" font-size="16.4" fill="#000" stroke="#000" stroke-width="0.35" text-anchor="middle">gRNA</text>
<text x="531.3" y="97.9" font-size="16.6" fill="#000" stroke="#000" stroke-width="0.35" text-anchor="middle" transform="rotate(-90 531.3 97.9)">%YFP(+)</text>
<text x="225.6" y="225.6" font-size="22.5" fill="#000" stroke="#000" stroke-width="0.2" font-weight="bold">d</text>
<text x="308.7" y="225.0" font-size="15.6" fill="#000" stroke="#000" stroke-width="0.35" text-anchor="middle">Input</text>
<text x="391.3" y="225.0" font-size="15.8" fill="#000" stroke="#000" stroke-width="0.35" text-anchor="middle">YFP(+)</text>
<rect x="265" y="230" width="87.3" height="3.3" fill="#000"/>
<rect x="356.5" y="230" width="68.4" height="3.3" fill="#9b9418"/>
<rect x="258.5" y="235.5" width="3.2" height="89.5" fill="#000"/>
<rect x="258.3" y="327.3" width="3.4" height="68.4" fill="#9b9418"/>
<text x="251.8" y="281.4" font-size="15.6" fill="#000" stroke="#000" stroke-width="0.35" text-anchor="middle" transform="rotate(-90 251.8 281.4)">Input</text>
<text x="251.6" y="361.0" font-size="16.2" fill="#000" stroke="#000" stroke-width="0.35" text-anchor="middle" transform="rotate(-90 251.6 361.0)">YFP(+)</text>
<g><rect x="263.40" y="235.00" width="6.52" height="6.52" fill="rgb(255,0,0)"/><rect x="269.87" y="235.00" width="6.52" height="6.52" fill="rgb(255,8,8)"/><rect x="276.34" y="235.00" width="6.52" height="6.52" fill="rgb(255,39,39)"/><rect x="282.81" y="235.00" width="6.52" height="6.52" fill="rgb(255,42,42)"/><rect x="289.28" y="235.00" width="6.52" height="6.52" fill="rgb(255,38,38)"/><rect x="295.75" y="235.00" width="6.52" height="6.52" fill="rgb(255,37,37)"/><rect x="302.22" y="235.00" width="6.52" height="6.52" fill="rgb(255,47,47)"/><rect x="308.69" y="235.00" width="6.52" height="6.52" fill="rgb(255,48,48)"/><rect x="315.16" y="235.00" width="6.52" height="6.52" fill="rgb(255,34,34)"/><rect x="321.63" y="235.00" width="6.52" height="6.52" fill="rgb(255,44,44)"/><rect x="328.10" y="235.00" width="6.52" height="6.52" fill="rgb(255,44,44)"/><rect x="334.57" y="235.00" width="6.52" height="6.52" fill="rgb(255,31,31)"/><rect x="341.04" y="235.00" width="6.52" height="6.52" fill="rgb(255,40,40)"/><rect x="347.51" y="235.00" width="6.52" height="6.52" fill="rgb(255,34,34)"/><rect x="353.98" y="235.00" width="6.52" height="6.52" fill="rgb(255,176,176)"/><rect x="360.45" y="235.00" width="6.52" height="6.52" fill="rgb(255,148,148)"/><rect x="366.92" y="235.00" width="6.52" height="6.52" fill="rgb(255,102,102)"/><rect x="373.39" y="235.00" width="6.52" height="6.52" fill="rgb(255,118,118)"/><rect x="379.86" y="235.00" width="6.52" height="6.52" fill="rgb(255,101,101)"/><rect x="386.33" y="235.00" width="6.52" height="6.52" fill="rgb(255,94,94)"/><rect x="392.80" y="235.00" width="6.52" height="6.52" fill="rgb(255,75,75)"/><rect x="399.27" y="235.00" width="6.52" height="6.52" fill="rgb(255,99,99)"/><rect x="405.74" y="235.00" width="6.52" height="6.52" fill="rgb(255,109,109)"/><rect x="412.21" y="235.00" width="6.52" height="6.52" fill="rgb(255,126,126)"/><rect x="418.68" y="235.00" width="6.52" height="6.52" fill="rgb(255,185,185)"/><rect x="263.40" y="241.47" width="6.52" height="6.52" fill="rgb(255,8,8)"/><rect x="269.87" y="241.47" width="6.52" height="6.52" fill="rgb(255,0,0)"/><rect x="276.34" y="241.47" width="6.52" height="6.52" fill="rgb(255,43,43)"/><rect x="282.81" y="241.47" width="6.52" height="6.52" fill="rgb(255,48,48)"/><rect x="289.28" y="241.47" width="6.52" height="6.52" fill="rgb(255,33,33)"/><rect x="295.75" y="241.47" width="6.52" height="6.52" fill="rgb(255,40,40)"/><rect x="302.22" y="241.47" width="6.52" height="6.52" fill="rgb(255,36,36)"/><rect x="308.69" y="241.47" width="6.52" height="6.52" fill="rgb(255,33,33)"/><rect x="315.16" y="241.47" width="6.52" height="6.52" fill="rgb(255,36,36)"/><rect x="321.63" y="241.47" width="6.52" height="6.52" fill="rgb(255,32,32)"/><rect x="328.10" y="241.47" width="6.52" height="6.52" fill="rgb(255,41,41)"/><rect x="334.57" y="241.47" width="6.52" height="6.52" fill="rgb(255,34,34)"/><rect x="341.04" y="241.47" width="6.52" height="6.52" fill="rgb(255,41,41)"/><rect x="347.51" y="241.47" width="6.52" height="6.52" fill="rgb(255,32,32)"/><rect x="353.98" y="241.47" width="6.52" height="6.52" fill="rgb(255,170,170)"/><rect x="360.45" y="241.47" width="6.52" height="6.52" fill="rgb(255,157,157)"/><rect x="366.92" y="241.47" width="6.52" height="6.52" fill="rgb(255,102,102)"/><rect x="373.39" y="241.47" width="6.52" height="6.52" fill="rgb(255,124,124)"/><rect x="379.86" y="241.47" width="6.52" height="6.52" fill="rgb(255,100,100)"/><rect x="386.33" y="241.47" width="6.52" height="6.52" fill="rgb(255,95,95)"/><rect x="392.80" y="241.47" width="6.52" height="6.52" fill="rgb(255,77,77)"/><rect x="399.27" y="241.47" width="6.52" height="6.52" fill="rgb(255,105,105)"/><rect x="405.74" y="241.47" width="6.52" height="6.52" fill="rgb(255,102,102)"/><rect x="412.21" y="241.47" width="6.52" height="6.52" fill="rgb(255,132,132)"/><rect x="418.68" y="241.47" width="6.52" height="6.52" fill="rgb(255,188,188)"/><rect x="263.40" y="247.94" width="6.52" height="6.52" fill="rgb(255,39,39)"/><rect x="269.87" y="247.94" width="6.52" height="6.52" fill="rgb(255,43,43)"/><rect x="276.34" y="247.94" width="6.52" height="6.52" fill="rgb(255,0,0)"/><rect x="282.81" y="247.94" width="6.52" height="6.52" fill="rgb(255,25,25)"/><rect x="289.28" y="247.94" width="6.52" height="6.52" fill="rgb(255,25,25)"/><rect x="295.75" y="247.94" width="6.52" height="6.52" fill="rgb(255,20,20)"/><rect x="302.22" y="247.94" width="6.52" height="6.52" fill="rgb(255,24,24)"/><rect x="308.69" y="247.94" width="6.52" height="6.52" fill="rgb(255,19,19)"/><rect x="315.16" y="247.94" width="6.52" height="6.52" fill="rgb(255,20,20)"/><rect x="321.63" y="247.94" width="6.52" height="6.52" fill="rgb(255,18,18)"/><rect x="328.10" y="247.94" width="6.52" height="6.52" fill="rgb(255,24,24)"/><rect x="334.57" y="247.94" width="6.52" height="6.52" fill="rgb(255,33,33)"/><rect x="341.04" y="247.94" width="6.52" height="6.52" fill="rgb(255,20,20)"/><rect x="347.51" y="247.94" width="6.52" height="6.52" fill="rgb(255,18,18)"/><rect x="353.98" y="247.94" width="6.52" height="6.52" fill="rgb(255,170,170)"/><rect x="360.45" y="247.94" width="6.52" height="6.52" fill="rgb(255,149,149)"/><rect x="366.92" y="247.94" width="6.52" height="6.52" fill="rgb(255,94,94)"/><rect x="373.39" y="247.94" width="6.52" height="6.52" fill="rgb(255,124,124)"/><rect x="379.86" y="247.94" width="6.52" height="6.52" fill="rgb(255,102,102)"/><rect x="386.33" y="247.94" width="6.52" height="6.52" fill="rgb(255,93,93)"/><rect x="392.80" y="247.94" width="6.52" height="6.52" fill="rgb(255,82,82)"/><rect x="399.27" y="247.94" width="6.52" height="6.52" fill="rgb(255,109,109)"/><rect x="405.74" y="247.94" width="6.52" height="6.52" fill="rgb(255,97,97)"/><rect x="412.21" y="247.94" width="6.52" height="6.52" fill="rgb(255,123,123)"/><rect x="418.68" y="247.94" width="6.52" height="6.52" fill="rgb(255,192,192)"/><rect x="263.40" y="254.41" width="6.52" height="6.52" fill="rgb(255,42,42)"/><rect x="269.87" y="254.41" width="6.52" height="6.52" fill="rgb(255,48,48)"/><rect x="276.34" y="254.41" width="6.52" height="6.52" fill="rgb(255,25,25)"/><rect x="282.81" y="254.41" width="6.52" height="6.52" fill="rgb(255,0,0)"/><rect x="289.28" y="254.41" width="6.52" height="6.52" fill="rgb(255,21,21)"/><rect x="295.75" y="254.41" width="6.52" height="6.52" fill="rgb(255,28,28)"/><rect x="302.22" y="254.41" width="6.52" height="6.52" fill="rgb(255,33,33)"/><rect x="308.69" y="254.41" width="6.52" height="6.52" fill="rgb(255,30,30)"/><rect x="315.16" y="254.41" width="6.52" height="6.52" fill="rgb(255,22,22)"/><rect x="321.63" y="254.41" width="6.52" height="6.52" fill="rgb(255,20,20)"/><rect x="328.10" y="254.41" width="6.52" height="6.52" fill="rgb(255,35,35)"/><rect x="334.57" y="254.41" width="6.52" height="6.52" fill="rgb(255,25,25)"/><rect x="341.04" y="254.41" width="6.52" height="6.52" fill="rgb(255,35,35)"/><rect x="347.51" y="254.41" width="6.52" height="6.52" fill="rgb(255,23,23)"/><rect x="353.98" y="254.41" width="6.52" height="6.52" fill="rgb(255,179,179)"/><rect x="360.45" y="254.41" width="6.52" height="6.52" fill="rgb(255,145,145)"/><rect x="366.92" y="254.41" width="6.52" height="6.52" fill="rgb(255,90,90)"/><rect x="373.39" y="254.41" width="6.52" height="6.52" fill="rgb(255,120,120)"/><rect x="379.86" y="254.41" width="6.52" height="6.52" fill="rgb(255,99,99)"/><rect x="386.33" y="254.41" width="6.52" height="6.52" fill="rgb(255,97,97)"/><rect x="392.80" y="254.41" width="6.52" height="6.52" fill="rgb(255,86,86)"/><rect x="399.27" y="254.41" width="6.52" height="6.52" fill="rgb(255,100,100)"/><rect x="405.74" y="254.41" width="6.52" height="6.52" fill="rgb(255,109,109)"/><rect x="412.21" y="254.41" width="6.52" height="6.52" fill="rgb(255,135,135)"/><rect x="418.68" y="254.41" width="6.52" height="6.52" fill="rgb(255,188,188)"/><rect x="263.40" y="260.88" width="6.52" height="6.52" fill="rgb(255,38,38)"/><rect x="269.87" y="260.88" width="6.52" height="6.52" fill="rgb(255,33,33)"/><rect x="276.34" y="260.88" width="6.52" height="6.52" fill="rgb(255,25,25)"/><rect x="282.81" y="260.88" width="6.52" height="6.52" fill="rgb(255,21,21)"/><rect x="289.28" y="260.88" width="6.52" height="6.52" fill="rgb(255,0,0)"/><rect x="295.75" y="260.88" width="6.52" height="6.52" fill="rgb(255,25,25)"/><rect x="302.22" y="260.88" width="6.52" height="6.52" fill="rgb(255,33,33)"/><rect x="308.69" y="260.88" width="6.52" height="6.52" fill="rgb(255,35,35)"/><rect x="315.16" y="260.88" width="6.52" height="6.52" fill="rgb(255,20,20)"/><rect x="321.63" y="260.88" width="6.52" height="6.52" fill="rgb(255,30,30)"/><rect x="328.10" y="260.88" width="6.52" height="6.52" fill="rgb(255,19,19)"/><rect x="334.57" y="260.88" width="6.52" height="6.52" fill="rgb(255,20,20)"/><rect x="341.04" y="260.88" width="6.52" height="6.52" fill="rgb(255,29,29)"/><rect x="347.51" y="260.88" width="6.52" height="6.52" fill="rgb(255,27,27)"/><rect x="353.98" y="260.88" width="6.52" height="6.52" fill="rgb(255,176,176)"/><rect x="360.45" y="260.88" width="6.52" height="6.52" fill="rgb(255,148,148)"/><rect x="366.92" y="260.88" width="6.52" height="6.52" fill="rgb(255,95,95)"/><rect x="373.39" y="260.88" width="6.52" height="6.52" fill="rgb(255,119,119)"/><rect x="379.86" y="260.88" width="6.52" height="6.52" fill="rgb(255,105,105)"/><rect x="386.33" y="260.88" width="6.52" height="6.52" fill="rgb(255,88,88)"/><rect x="392.80" y="260.88" width="6.52" height="6.52" fill="rgb(255,79,79)"/><rect x="399.27" y="260.88" width="6.52" height="6.52" fill="rgb(255,103,103)"/><rect x="405.74" y="260.88" width="6.52" height="6.52" fill="rgb(255,99,99)"/><rect x="412.21" y="260.88" width="6.52" height="6.52" fill="rgb(255,134,134)"/><rect x="418.68" y="260.88" width="6.52" height="6.52" fill="rgb(255,189,189)"/><rect x="263.40" y="267.35" width="6.52" height="6.52" fill="rgb(255,37,37)"/><rect x="269.87" y="267.35" width="6.52" height="6.52" fill="rgb(255,40,40)"/><rect x="276.34" y="267.35" width="6.52" height="6.52" fill="rgb(255,20,20)"/><rect x="282.81" y="267.35" width="6.52" height="6.52" fill="rgb(255,28,28)"/><rect x="289.28" y="267.35" width="6.52" height="6.52" fill="rgb(255,25,25)"/><rect x="295.75" y="267.35" width="6.52" height="6.52" fill="rgb(255,0,0)"/><rect x="302.22" y="267.35" width="6.52" height="6.52" fill="rgb(255,18,18)"/><rect x="308.69" y="267.35" width="6.52" height="6.52" fill="rgb(255,26,26)"/><rect x="315.16" y="267.35" width="6.52" height="6.52" fill="rgb(255,26,26)"/><rect x="321.63" y="267.35" width="6.52" height="6.52" fill="rgb(255,35,35)"/><rect x="328.10" y="267.35" width="6.52" height="6.52" fill="rgb(255,28,28)"/><rect x="334.57" y="267.35" width="6.52" height="6.52" fill="rgb(255,25,25)"/><rect x="341.04" y="267.35" width="6.52" height="6.52" fill="rgb(255,35,35)"/><rect x="347.51" y="267.35" width="6.52" height="6.52" fill="rgb(255,25,25)"/><rect x="353.98" y="267.35" width="6.52" height="6.52" fill="rgb(255,174,174)"/><rect x="360.45" y="267.35" width="6.52" height="6.52" fill="rgb(255,157,157)"/><rect x="366.92" y="267.35" width="6.52" height="6.52" fill="rgb(255,95,95)"/><rect x="373.39" y="267.35" width="6.52" height="6.52" fill="rgb(255,120,120)"/><rect x="379.86" y="267.35" width="6.52" height="6.52" fill="rgb(255,104,104)"/><rect x="386.33" y="267.35" width="6.52" height="6.52" fill="rgb(255,97,97)"/><rect x="392.80" y="267.35" width="6.52" height="6.52" fill="rgb(255,76,76)"/><rect x="399.27" y="267.35" width="6.52" height="6.52" fill="rgb(255,98,98)"/><rect x="405.74" y="267.35" width="6.52" height="6.52" fill="rgb(255,109,109)"/><rect x="412.21" y="267.35" width="6.52" height="6.52" fill="rgb(255,137,137)"/><rect x="418.68" y="267.35" width="6.52" height="6.52" fill="rgb(255,183,183)"/><rect x="263.40" y="273.82" width="6.52" height="6.52" fill="rgb(255,47,47)"/><rect x="269.87" y="273.82" width="6.52" height="6.52" fill="rgb(255,36,36)"/><rect x="276.34" y="273.82" width="6.52" height="6.52" fill="rgb(255,24,24)"/><rect x="282.81" y="273.82" width="6.52" height="6.52" fill="rgb(255,33,33)"/><rect x="289.28" y="273.82" width="6.52" height="6.52" fill="rgb(255,33,33)"/><rect x="295.75" y="273.82" width="6.52" height="6.52" fill="rgb(255,18,18)"/><rect x="302.22" y="273.82" width="6.52" height="6.52" fill="rgb(255,0,0)"/><rect x="308.69" y="273.82" width="6.52" height="6.52" fill="rgb(255,19,19)"/><rect x="315.16" y="273.82" width="6.52" height="6.52" fill="rgb(255,31,31)"/><rect x="321.63" y="273.82" width="6.52" height="6.52" fill="rgb(255,28,28)"/><rect x="328.10" y="273.82" width="6.52" height="6.52" fill="rgb(255,25,25)"/><rect x="334.57" y="273.82" width="6.52" height="6.52" fill="rgb(255,30,30)"/><rect x="341.04" y="273.82" width="6.52" height="6.52" fill="rgb(255,29,29)"/><rect x="347.51" y="273.82" width="6.52" height="6.52" fill="rgb(255,30,30)"/><rect x="353.98" y="273.82" width="6.52" height="6.52" fill="rgb(255,178,178)"/><rect x="360.45" y="273.82" width="6.52" height="6.52" fill="rgb(255,149,149)"/><rect x="366.92" y="273.82" width="6.52" height="6.52" fill="rgb(255,100,100)"/><rect x="373.39" y="273.82" width="6.52" height="6.52" fill="rgb(255,122,122)"/><rect x="379.86" y="273.82" width="6.52" height="6.52" fill="rgb(255,103,103)"/><rect x="386.33" y="273.82" width="6.52" height="6.52" fill="rgb(255,102,102)"/><rect x="392.80" y="273.82" width="6.52" height="6.52" fill="rgb(255,78,78)"/><rect x="399.27" y="273.82" width="6.52" height="6.52" fill="rgb(255,98,98)"/><rect x="405.74" y="273.82" width="6.52" height="6.52" fill="rgb(255,105,105)"/><rect x="412.21" y="273.82" width="6.52" height="6.52" fill="rgb(255,134,134)"/><rect x="418.68" y="273.82" width="6.52" height="6.52" fill="rgb(255,182,182)"/><rect x="263.40" y="280.29" width="6.52" height="6.52" fill="rgb(255,48,48)"/><rect x="269.87" y="280.29" width="6.52" height="6.52" fill="rgb(255,33,33)"/><rect x="276.34" y="280.29" width="6.52" height="6.52" fill="rgb(255,19,19)"/><rect x="282.81" y="280.29" width="6.52" height="6.52" fill="rgb(255,30,30)"/><rect x="289.28" y="280.29" width="6.52" height="6.52" fill="rgb(255,35,35)"/><rect x="295.75" y="280.29" width="6.52" height="6.52" fill="rgb(255,26,26)"/><rect x="302.22" y="280.29" width="6.52" height="6.52" fill="rgb(255,19,19)"/><rect x="308.69" y="280.29" width="6.52" height="6.52" fill="rgb(255,0,0)"/><rect x="315.16" y="280.29" width="6.52" height="6.52" fill="rgb(255,31,31)"/><rect x="321.63" y="280.29" width="6.52" height="6.52" fill="rgb(255,32,32)"/><rect x="328.10" y="280.29" width="6.52" height="6.52" fill="rgb(255,28,28)"/><rect x="334.57" y="280.29" width="6.52" height="6.52" fill="rgb(255,23,23)"/><rect x="341.04" y="280.29" width="6.52" height="6.52" fill="rgb(255,34,34)"/><rect x="347.51" y="280.29" width="6.52" height="6.52" fill="rgb(255,30,30)"/><rect x="353.98" y="280.29" width="6.52" height="6.52" fill="rgb(255,178,178)"/><rect x="360.45" y="280.29" width="6.52" height="6.52" fill="rgb(255,145,145)"/><rect x="366.92" y="280.29" width="6.52" height="6.52" fill="rgb(255,98,98)"/><rect x="373.39" y="280.29" width="6.52" height="6.52" fill="rgb(255,114,114)"/><rect x="379.86" y="280.29" width="6.52" height="6.52" fill="rgb(255,112,112)"/><rect x="386.33" y="280.29" width="6.52" height="6.52" fill="rgb(255,97,97)"/><rect x="392.80" y="280.29" width="6.52" height="6.52" fill="rgb(255,77,77)"/><rect x="399.27" y="280.29" width="6.52" height="6.52" fill="rgb(255,96,96)"/><rect x="405.74" y="280.29" width="6.52" height="6.52" fill="rgb(255,103,103)"/><rect x="412.21" y="280.29" width="6.52" height="6.52" fill="rgb(255,134,134)"/><rect x="418.68" y="280.29" width="6.52" height="6.52" fill="rgb(255,192,192)"/><rect x="263.40" y="286.76" width="6.52" height="6.52" fill="rgb(255,34,34)"/><rect x="269.87" y="286.76" width="6.52" height="6.52" fill="rgb(255,36,36)"/><rect x="276.34" y="286.76" width="6.52" height="6.52" fill="rgb(255,20,20)"/><rect x="282.81" y="286.76" width="6.52" height="6.52" fill="rgb(255,22,22)"/><rect x="289.28" y="286.76" width="6.52" height="6.52" fill="rgb(255,20,20)"/><rect x="295.75" y="286.76" width="6.52" height="6.52" fill="rgb(255,26,26)"/><rect x="302.22" y="286.76" width="6.52" height="6.52" fill="rgb(255,31,31)"/><rect x="308.69" y="286.76" width="6.52" height="6.52" fill="rgb(255,31,31)"/><rect x="315.16" y="286.76" width="6.52" height="6.52" fill="rgb(255,0,0)"/><rect x="321.63" y="286.76" width="6.52" height="6.52" fill="rgb(255,26,26)"/><rect x="328.10" y="286.76" width="6.52" height="6.52" fill="rgb(255,32,32)"/><rect x="334.57" y="286.76" width="6.52" height="6.52" fill="rgb(255,21,21)"/><rect x="341.04" y="286.76" width="6.52" height="6.52" fill="rgb(255,21,21)"/><rect x="347.51" y="286.76" width="6.52" height="6.52" fill="rgb(255,32,32)"/><rect x="353.98" y="286.76" width="6.52" height="6.52" fill="rgb(255,179,179)"/><rect x="360.45" y="286.76" width="6.52" height="6.52" fill="rgb(255,146,146)"/><rect x="366.92" y="286.76" width="6.52" height="6.52" fill="rgb(255,95,95)"/><rect x="373.39" y="286.76" width="6.52" height="6.52" fill="rgb(255,115,115)"/><rect x="379.86" y="286.76" width="6.52" height="6.52" fill="rgb(255,109,109)"/><rect x="386.33" y="286.76" width="6.52" height="6.52" fill="rgb(255,100,100)"/><rect x="392.80" y="286.76" width="6.52" height="6.52" fill="rgb(255,82,82)"/><rect x="399.27" y="286.76" width="6.52" height="6.52" fill="rgb(255,98,98)"/><rect x="405.74" y="286.76" width="6.52" height="6.52" fill="rgb(255,106,106)"/><rect x="412.21" y="286.76" width="6.52" height="6.52" fill="rgb(255,132,132)"/><rect x="418.68" y="286.76" width="6.52" height="6.52" fill="rgb(255,187,187)"/><rect x="263.40" y="293.23" width="6.52" height="6.52" fill="rgb(255,44,44)"/><rect x="269.87" y="293.23" width="6.52" height="6.52" fill="rgb(255,32,32)"/><rect x="276.34" y="293.23" width="6.52" height="6.52" fill="rgb(255,18,18)"/><rect x="282.81" y="293.23" width="6.52" height="6.52" fill="rgb(255,20,20)"/><rect x="289.28" y="293.23" width="6.52" height="6.52" fill="rgb(255,30,30)"/><rect x="295.75" y="293.23" width="6.52" height="6.52" fill="rgb(255,35,35)"/><rect x="302.22" y="293.23" width="6.52" height="6.52" fill="rgb(255,28,28)"/><rect x="308.69" y="293.23" width="6.52" height="6.52" fill="rgb(255,32,32)"/><rect x="315.16" y="293.23" width="6.52" height="6.52" fill="rgb(255,26,26)"/><rect x="321.63" y="293.23" width="6.52" height="6.52" fill="rgb(255,0,0)"/><rect x="328.10" y="293.23" width="6.52" height="6.52" fill="rgb(255,28,28)"/><rect x="334.57" y="293.23" width="6.52" height="6.52" fill="rgb(255,28,28)"/><rect x="341.04" y="293.23" width="6.52" height="6.52" fill="rgb(255,19,19)"/><rect x="347.51" y="293.23" width="6.52" height="6.52" fill="rgb(255,33,33)"/><rect x="353.98" y="293.23" width="6.52" height="6.52" fill="rgb(255,184,184)"/><rect x="360.45" y="293.23" width="6.52" height="6.52" fill="rgb(255,144,144)"/><rect x="366.92" y="293.23" width="6.52" height="6.52" fill="rgb(255,91,91)"/><rect x="373.39" y="293.23" width="6.52" height="6.52" fill="rgb(255,112,112)"/><rect x="379.86" y="293.23" width="6.52" height="6.52" fill="rgb(255,108,108)"/><rect x="386.33" y="293.23" width="6.52" height="6.52" fill="rgb(255,87,87)"/><rect x="392.80" y="293.23" width="6.52" height="6.52" fill="rgb(255,73,73)"/><rect x="399.27" y="293.23" width="6.52" height="6.52" fill="rgb(255,106,106)"/><rect x="405.74" y="293.23" width="6.52" height="6.52" fill="rgb(255,98,98)"/><rect x="412.21" y="293.23" width="6.52" height="6.52" fill="rgb(255,125,125)"/><rect x="418.68" y="293.23" width="6.52" height="6.52" fill="rgb(255,184,184)"/><rect x="263.40" y="299.70" width="6.52" height="6.52" fill="rgb(255,44,44)"/><rect x="269.87" y="299.70" width="6.52" height="6.52" fill="rgb(255,41,41)"/><rect x="276.34" y="299.70" width="6.52" height="6.52" fill="rgb(255,24,24)"/><rect x="282.81" y="299.70" width="6.52" height="6.52" fill="rgb(255,35,35)"/><rect x="289.28" y="299.70" width="6.52" height="6.52" fill="rgb(255,19,19)"/><rect x="295.75" y="299.70" width="6.52" height="6.52" fill="rgb(255,28,28)"/><rect x="302.22" y="299.70" width="6.52" height="6.52" fill="rgb(255,25,25)"/><rect x="308.69" y="299.70" width="6.52" height="6.52" fill="rgb(255,28,28)"/><rect x="315.16" y="299.70" width="6.52" height="6.52" fill="rgb(255,32,32)"/><rect x="321.63" y="299.70" width="6.52" height="6.52" fill="rgb(255,28,28)"/><rect x="328.10" y="299.70" width="6.52" height="6.52" fill="rgb(255,0,0)"/><rect x="334.57" y="299.70" width="6.52" height="6.52" fill="rgb(255,26,26)"/><rect x="341.04" y="299.70" width="6.52" height="6.52" fill="rgb(255,31,31)"/><rect x="347.51" y="299.70" width="6.52" height="6.52" fill="rgb(255,30,30)"/><rect x="353.98" y="299.70" width="6.52" height="6.52" fill="rgb(255,180,180)"/><rect x="360.45" y="299.70" width="6.52" height="6.52" fill="rgb(255,157,157)"/><rect x="366.92" y="299.70" width="6.52" height="6.52" fill="rgb(255,96,96)"/><rect x="373.39" y="299.70" width="6.52" height="6.52" fill="rgb(255,123,123)"/><rect x="379.86" y="299.70" width="6.52" height="6.52" fill="rgb(255,102,102)"/><rect x="386.33" y="299.70" width="6.52" height="6.52" fill="rgb(255,101,101)"/><rect x="392.80" y="299.70" width="6.52" height="6.52" fill="rgb(255,73,73)"/><rect x="399.27" y="299.70" width="6.52" height="6.52" fill="rgb(255,99,99)"/><rect x="405.74" y="299.70" width="6.52" height="6.52" fill="rgb(255,96,96)"/><rect x="412.21" y="299.70" width="6.52" height="6.52" fill="rgb(255,124,124)"/><rect x="418.68" y="299.70" width="6.52" height="6.52" fill="rgb(255,180,180)"/><rect x="263.40" y="306.17" width="6.52" height="6.52" fill="rgb(255,31,31)"/><rect x="269.87" y="306.17" width="6.52" height="6.52" fill="rgb(255,34,34)"/><rect x="276.34" y="306.17" width="6.52" height="6.52" fill="rgb(255,33,33)"/><rect x="282.81" y="306.17" width="6.52" height="6.52" fill="rgb(255,25,25)"/><rect x="289.28" y="306.17" width="6.52" height="6.52" fill="rgb(255,20,20)"/><rect x="295.75" y="306.17" width="6.52" height="6.52" fill="rgb(255,25,25)"/><rect x="302.22" y="306.17" width="6.52" height="6.52" fill="rgb(255,30,30)"/><rect x="308.69" y="306.17" width="6.52" height="6.52" fill="rgb(255,23,23)"/><rect x="315.16" y="306.17" width="6.52" height="6.52" fill="rgb(255,21,21)"/><rect x="321.63" y="306.17" width="6.52" height="6.52" fill="rgb(255,28,28)"/><rect x="328.10" y="306.17" width="6.52" height="6.52" fill="rgb(255,26,26)"/><rect x="334.57" y="306.17" width="6.52" height="6.52" fill="rgb(255,0,0)"/><rect x="341.04" y="306.17" width="6.52" height="6.52" fill="rgb(255,25,25)"/><rect x="347.51" y="306.17" width="6.52" height="6.52" fill="rgb(255,35,35)"/><rect x="353.98" y="306.17" width="6.52" height="6.52" fill="rgb(255,172,172)"/><rect x="360.45" y="306.17" width="6.52" height="6.52" fill="rgb(255,155,155)"/><rect x="366.92" y="306.17" width="6.52" height="6.52" fill="rgb(255,100,100)"/><rect x="373.39" y="306.17" width="6.52" height="6.52" fill="rgb(255,117,117)"/><rect x="379.86" y="306.17" width="6.52" height="6.52" fill="rgb(255,107,107)"/><rect x="386.33" y="306.17" width="6.52" height="6.52" fill="rgb(255,96,96)"/><rect x="392.80" y="306.17" width="6.52" height="6.52" fill="rgb(255,72,72)"/><rect x="399.27" y="306.17" width="6.52" height="6.52" fill="rgb(255,100,100)"/><rect x="405.74" y="306.17" width="6.52" height="6.52" fill="rgb(255,104,104)"/><rect x="412.21" y="306.17" width="6.52" height="6.52" fill="rgb(255,134,134)"/><rect x="418.68" y="306.17" width="6.52" height="6.52" fill="rgb(255,181,181)"/><rect x="263.40" y="312.64" width="6.52" height="6.52" fill="rgb(255,40,40)"/><rect x="269.87" y="312.64" width="6.52" height="6.52" fill="rgb(255,41,41)"/><rect x="276.34" y="312.64" width="6.52" height="6.52" fill="rgb(255,20,20)"/><rect x="282.81" y="312.64" width="6.52" height="6.52" fill="rgb(255,35,35)"/><rect x="289.28" y="312.64" width="6.52" height="6.52" fill="rgb(255,29,29)"/><rect x="295.75" y="312.64" width="6.52" height="6.52" fill="rgb(255,35,35)"/><rect x="302.22" y="312.64" width="6.52" height="6.52" fill="rgb(255,29,29)"/><rect x="308.69" y="312.64" width="6.52" height="6.52" fill="rgb(255,34,34)"/><rect x="315.16" y="312.64" width="6.52" height="6.52" fill="rgb(255,21,21)"/><rect x="321.63" y="312.64" width="6.52" height="6.52" fill="rgb(255,19,19)"/><rect x="328.10" y="312.64" width="6.52" height="6.52" fill="rgb(255,31,31)"/><rect x="334.57" y="312.64" width="6.52" height="6.52" fill="rgb(255,25,25)"/><rect x="341.04" y="312.64" width="6.52" height="6.52" fill="rgb(255,0,0)"/><rect x="347.51" y="312.64" width="6.52" height="6.52" fill="rgb(255,27,27)"/><rect x="353.98" y="312.64" width="6.52" height="6.52" fill="rgb(255,172,172)"/><rect x="360.45" y="312.64" width="6.52" height="6.52" fill="rgb(255,153,153)"/><rect x="366.92" y="312.64" width="6.52" height="6.52" fill="rgb(255,102,102)"/><rect x="373.39" y="312.64" width="6.52" height="6.52" fill="rgb(255,119,119)"/><rect x="379.86" y="312.64" width="6.52" height="6.52" fill="rgb(255,102,102)"/><rect x="386.33" y="312.64" width="6.52" height="6.52" fill="rgb(255,99,99)"/><rect x="392.80" y="312.64" width="6.52" height="6.52" fill="rgb(255,75,75)"/><rect x="399.27" y="312.64" width="6.52" height="6.52" fill="rgb(255,96,96)"/><rect x="405.74" y="312.64" width="6.52" height="6.52" fill="rgb(255,97,97)"/><rect x="412.21" y="312.64" width="6.52" height="6.52" fill="rgb(255,125,125)"/><rect x="418.68" y="312.64" width="6.52" height="6.52" fill="rgb(255,194,194)"/><rect x="263.40" y="319.11" width="6.52" height="6.52" fill="rgb(255,34,34)"/><rect x="269.87" y="319.11" width="6.52" height="6.52" fill="rgb(255,32,32)"/><rect x="276.34" y="319.11" width="6.52" height="6.52" fill="rgb(255,18,18)"/><rect x="282.81" y="319.11" width="6.52" height="6.52" fill="rgb(255,23,23)"/><rect x="289.28" y="319.11" width="6.52" height="6.52" fill="rgb(255,27,27)"/><rect x="295.75" y="319.11" width="6.52" height="6.52" fill="rgb(255,25,25)"/><rect x="302.22" y="319.11" width="6.52" height="6.52" fill="rgb(255,30,30)"/><rect x="308.69" y="319.11" width="6.52" height="6.52" fill="rgb(255,30,30)"/><rect x="315.16" y="319.11" width="6.52" height="6.52" fill="rgb(255,32,32)"/><rect x="321.63" y="319.11" width="6.52" height="6.52" fill="rgb(255,33,33)"/><rect x="328.10" y="319.11" width="6.52" height="6.52" fill="rgb(255,30,30)"/><rect x="334.57" y="319.11" width="6.52" height="6.52" fill="rgb(255,35,35)"/><rect x="341.04" y="319.11" width="6.52" height="6.52" fill="rgb(255,27,27)"/><rect x="347.51" y="319.11" width="6.52" height="6.52" fill="rgb(255,0,0)"/><rect x="353.98" y="319.11" width="6.52" height="6.52" fill="rgb(255,174,174)"/><rect x="360.45" y="319.11" width="6.52" height="6.52" fill="rgb(255,145,145)"/><rect x="366.92" y="319.11" width="6.52" height="6.52" fill="rgb(255,104,104)"/><rect x="373.39" y="319.11" width="6.52" height="6.52" fill="rgb(255,123,123)"/><rect x="379.86" y="319.11" width="6.52" height="6.52" fill="rgb(255,111,111)"/><rect x="386.33" y="319.11" width="6.52" height="6.52" fill="rgb(255,94,94)"/><rect x="392.80" y="319.11" width="6.52" height="6.52" fill="rgb(255,80,80)"/><rect x="399.27" y="319.11" width="6.52" height="6.52" fill="rgb(255,102,102)"/><rect x="405.74" y="319.11" width="6.52" height="6.52" fill="rgb(255,98,98)"/><rect x="412.21" y="319.11" width="6.52" height="6.52" fill="rgb(255,138,138)"/><rect x="418.68" y="319.11" width="6.52" height="6.52" fill="rgb(255,193,193)"/><rect x="263.40" y="325.58" width="6.52" height="6.52" fill="rgb(255,176,176)"/><rect x="269.87" y="325.58" width="6.52" height="6.52" fill="rgb(255,170,170)"/><rect x="276.34" y="325.58" width="6.52" height="6.52" fill="rgb(255,170,170)"/><rect x="282.81" y="325.58" width="6.52" height="6.52" fill="rgb(255,179,179)"/><rect x="289.28" y="325.58" width="6.52" height="6.52" fill="rgb(255,176,176)"/><rect x="295.75" y="325.58" width="6.52" height="6.52" fill="rgb(255,174,174)"/><rect x="302.22" y="325.58" width="6.52" height="6.52" fill="rgb(255,178,178)"/><rect x="308.69" y="325.58" width="6.52" height="6.52" fill="rgb(255,178,178)"/><rect x="315.16" y="325.58" width="6.52" height="6.52" fill="rgb(255,179,179)"/><rect x="321.63" y="325.58" width="6.52" height="6.52" fill="rgb(255,184,184)"/><rect x="328.10" y="325.58" width="6.52" height="6.52" fill="rgb(255,180,180)"/><rect x="334.57" y="325.58" width="6.52" height="6.52" fill="rgb(255,172,172)"/><rect x="341.04" y="325.58" width="6.52" height="6.52" fill="rgb(255,172,172)"/><rect x="347.51" y="325.58" width="6.52" height="6.52" fill="rgb(255,174,174)"/><rect x="353.98" y="325.58" width="6.52" height="6.52" fill="rgb(255,0,0)"/><rect x="360.45" y="325.58" width="6.52" height="6.52" fill="rgb(255,215,215)"/><rect x="366.92" y="325.58" width="6.52" height="6.52" fill="rgb(255,197,197)"/><rect x="373.39" y="325.58" width="6.52" height="6.52" fill="rgb(255,205,205)"/><rect x="379.86" y="325.58" width="6.52" height="6.52" fill="rgb(255,192,192)"/><rect x="386.33" y="325.58" width="6.52" height="6.52" fill="rgb(255,188,188)"/><rect x="392.80" y="325.58" width="6.52" height="6.52" fill="rgb(255,191,191)"/><rect x="399.27" y="325.58" width="6.52" height="6.52" fill="rgb(255,195,195)"/><rect x="405.74" y="325.58" width="6.52" height="6.52" fill="rgb(255,197,197)"/><rect x="412.21" y="325.58" width="6.52" height="6.52" fill="rgb(255,206,206)"/><rect x="418.68" y="325.58" width="6.52" height="6.52" fill="rgb(255,225,225)"/><rect x="263.40" y="332.05" width="6.52" height="6.52" fill="rgb(255,148,148)"/><rect x="269.87" y="332.05" width="6.52" height="6.52" fill="rgb(255,157,157)"/><rect x="276.34" y="332.05" width="6.52" height="6.52" fill="rgb(255,149,149)"/><rect x="282.81" y="332.05" width="6.52" height="6.52" fill="rgb(255,145,145)"/><rect x="289.28" y="332.05" width="6.52" height="6.52" fill="rgb(255,148,148)"/><rect x="295.75" y="332.05" width="6.52" height="6.52" fill="rgb(255,157,157)"/><rect x="302.22" y="332.05" width="6.52" height="6.52" fill="rgb(255,149,149)"/><rect x="308.69" y="332.05" width="6.52" height="6.52" fill="rgb(255,145,145)"/><rect x="315.16" y="332.05" width="6.52" height="6.52" fill="rgb(255,146,146)"/><rect x="321.63" y="332.05" width="6.52" height="6.52" fill="rgb(255,144,144)"/><rect x="328.10" y="332.05" width="6.52" height="6.52" fill="rgb(255,157,157)"/><rect x="334.57" y="332.05" width="6.52" height="6.52" fill="rgb(255,155,155)"/><rect x="341.04" y="332.05" width="6.52" height="6.52" fill="rgb(255,153,153)"/><rect x="347.51" y="332.05" width="6.52" height="6.52" fill="rgb(255,145,145)"/><rect x="353.98" y="332.05" width="6.52" height="6.52" fill="rgb(255,215,215)"/><rect x="360.45" y="332.05" width="6.52" height="6.52" fill="rgb(255,0,0)"/><rect x="366.92" y="332.05" width="6.52" height="6.52" fill="rgb(255,174,174)"/><rect x="373.39" y="332.05" width="6.52" height="6.52" fill="rgb(255,185,185)"/><rect x="379.86" y="332.05" width="6.52" height="6.52" fill="rgb(255,181,181)"/><rect x="386.33" y="332.05" width="6.52" height="6.52" fill="rgb(255,177,177)"/><rect x="392.80" y="332.05" width="6.52" height="6.52" fill="rgb(255,169,169)"/><rect x="399.27" y="332.05" width="6.52" height="6.52" fill="rgb(255,181,181)"/><rect x="405.74" y="332.05" width="6.52" height="6.52" fill="rgb(255,177,177)"/><rect x="412.21" y="332.05" width="6.52" height="6.52" fill="rgb(255,188,188)"/><rect x="418.68" y="332.05" width="6.52" height="6.52" fill="rgb(255,217,217)"/><rect x="263.40" y="338.52" width="6.52" height="6.52" fill="rgb(255,102,102)"/><rect x="269.87" y="338.52" width="6.52" height="6.52" fill="rgb(255,102,102)"/><rect x="276.34" y="338.52" width="6.52" height="6.52" fill="rgb(255,94,94)"/><rect x="282.81" y="338.52" width="6.52" height="6.52" fill="rgb(255,90,90)"/><rect x="289.28" y="338.52" width="6.52" height="6.52" fill="rgb(255,95,95)"/><rect x="295.75" y="338.52" width="6.52" height="6.52" fill="rgb(255,95,95)"/><rect x="302.22" y="338.52" width="6.52" height="6.52" fill="rgb(255,100,100)"/><rect x="308.69" y="338.52" width="6.52" height="6.52" fill="rgb(255,98,98)"/><rect x="315.16" y="338.52" width="6.52" height="6.52" fill="rgb(255,95,95)"/><rect x="321.63" y="338.52" width="6.52" height="6.52" fill="rgb(255,91,91)"/><rect x="328.10" y="338.52" width="6.52" height="6.52" fill="rgb(255,96,96)"/><rect x="334.57" y="338.52" width="6.52" height="6.52" fill="rgb(255,100,100)"/><rect x="341.04" y="338.52" width="6.52" height="6.52" fill="rgb(255,102,102)"/><rect x="347.51" y="338.52" width="6.52" height="6.52" fill="rgb(255,104,104)"/><rect x="353.98" y="338.52" width="6.52" height="6.52" fill="rgb(255,197,197)"/><rect x="360.45" y="338.52" width="6.52" height="6.52" fill="rgb(255,174,174)"/><rect x="366.92" y="338.52" width="6.52" height="6.52" fill="rgb(255,0,0)"/><rect x="373.39" y="338.52" width="6.52" height="6.52" fill="rgb(255,159,159)"/><rect x="379.86" y="338.52" width="6.52" height="6.52" fill="rgb(255,149,149)"/><rect x="386.33" y="338.52" width="6.52" height="6.52" fill="rgb(255,138,138)"/><rect x="392.80" y="338.52" width="6.52" height="6.52" fill="rgb(255,125,125)"/><rect x="399.27" y="338.52" width="6.52" height="6.52" fill="rgb(255,139,139)"/><rect x="405.74" y="338.52" width="6.52" height="6.52" fill="rgb(255,143,143)"/><rect x="412.21" y="338.52" width="6.52" height="6.52" fill="rgb(255,158,158)"/><rect x="418.68" y="338.52" width="6.52" height="6.52" fill="rgb(255,199,199)"/><rect x="263.40" y="344.99" width="6.52" height="6.52" fill="rgb(255,118,118)"/><rect x="269.87" y="344.99" width="6.52" height="6.52" fill="rgb(255,124,124)"/><rect x="276.34" y="344.99" width="6.52" height="6.52" fill="rgb(255,124,124)"/><rect x="282.81" y="344.99" width="6.52" height="6.52" fill="rgb(255,120,120)"/><rect x="289.28" y="344.99" width="6.52" height="6.52" fill="rgb(255,119,119)"/><rect x="295.75" y="344.99" width="6.52" height="6.52" fill="rgb(255,120,120)"/><rect x="302.22" y="344.99" width="6.52" height="6.52" fill="rgb(255,122,122)"/><rect x="308.69" y="344.99" width="6.52" height="6.52" fill="rgb(255,114,114)"/><rect x="315.16" y="344.99" width="6.52" height="6.52" fill="rgb(255,115,115)"/><rect x="321.63" y="344.99" width="6.52" height="6.52" fill="rgb(255,112,112)"/><rect x="328.10" y="344.99" width="6.52" height="6.52" fill="rgb(255,123,123)"/><rect x="334.57" y="344.99" width="6.52" height="6.52" fill="rgb(255,117,117)"/><rect x="341.04" y="344.99" width="6.52" height="6.52" fill="rgb(255,119,119)"/><rect x="347.51" y="344.99" width="6.52" height="6.52" fill="rgb(255,123,123)"/><rect x="353.98" y="344.99" width="6.52" height="6.52" fill="rgb(255,205,205)"/><rect x="360.45" y="344.99" width="6.52" height="6.52" fill="rgb(255,185,185)"/><rect x="366.92" y="344.99" width="6.52" height="6.52" fill="rgb(255,159,159)"/><rect x="373.39" y="344.99" width="6.52" height="6.52" fill="rgb(255,0,0)"/><rect x="379.86" y="344.99" width="6.52" height="6.52" fill="rgb(255,161,161)"/><rect x="386.33" y="344.99" width="6.52" height="6.52" fill="rgb(255,154,154)"/><rect x="392.80" y="344.99" width="6.52" height="6.52" fill="rgb(255,144,144)"/><rect x="399.27" y="344.99" width="6.52" height="6.52" fill="rgb(255,155,155)"/><rect x="405.74" y="344.99" width="6.52" height="6.52" fill="rgb(255,158,158)"/><rect x="412.21" y="344.99" width="6.52" height="6.52" fill="rgb(255,172,172)"/><rect x="418.68" y="344.99" width="6.52" height="6.52" fill="rgb(255,207,207)"/><rect x="263.40" y="351.46" width="6.52" height="6.52" fill="rgb(255,101,101)"/><rect x="269.87" y="351.46" width="6.52" height="6.52" fill="rgb(255,100,100)"/><rect x="276.34" y="351.46" width="6.52" height="6.52" fill="rgb(255,102,102)"/><rect x="282.81" y="351.46" width="6.52" height="6.52" fill="rgb(255,99,99)"/><rect x="289.28" y="351.46" width="6.52" height="6.52" fill="rgb(255,105,105)"/><rect x="295.75" y="351.46" width="6.52" height="6.52" fill="rgb(255,104,104)"/><rect x="302.22" y="351.46" width="6.52" height="6.52" fill="rgb(255,103,103)"/><rect x="308.69" y="351.46" width="6.52" height="6.52" fill="rgb(255,112,112)"/><rect x="315.16" y="351.46" width="6.52" height="6.52" fill="rgb(255,109,109)"/><rect x="321.63" y="351.46" width="6.52" height="6.52" fill="rgb(255,108,108)"/><rect x="328.10" y="351.46" width="6.52" height="6.52" fill="rgb(255,102,102)"/><rect x="334.57" y="351.46" width="6.52" height="6.52" fill="rgb(255,107,107)"/><rect x="341.04" y="351.46" width="6.52" height="6.52" fill="rgb(255,102,102)"/><rect x="347.51" y="351.46" width="6.52" height="6.52" fill="rgb(255,111,111)"/><rect x="353.98" y="351.46" width="6.52" height="6.52" fill="rgb(255,192,192)"/><rect x="360.45" y="351.46" width="6.52" height="6.52" fill="rgb(255,181,181)"/><rect x="366.92" y="351.46" width="6.52" height="6.52" fill="rgb(255,149,149)"/><rect x="373.39" y="351.46" width="6.52" height="6.52" fill="rgb(255,161,161)"/><rect x="379.86" y="351.46" width="6.52" height="6.52" fill="rgb(255,0,0)"/><rect x="386.33" y="351.46" width="6.52" height="6.52" fill="rgb(255,146,146)"/><rect x="392.80" y="351.46" width="6.52" height="6.52" fill="rgb(255,134,134)"/><rect x="399.27" y="351.46" width="6.52" height="6.52" fill="rgb(255,147,147)"/><rect x="405.74" y="351.46" width="6.52" height="6.52" fill="rgb(255,153,153)"/><rect x="412.21" y="351.46" width="6.52" height="6.52" fill="rgb(255,168,168)"/><rect x="418.68" y="351.46" width="6.52" height="6.52" fill="rgb(255,204,204)"/><rect x="263.40" y="357.93" width="6.52" height="6.52" fill="rgb(255,94,94)"/><rect x="269.87" y="357.93" width="6.52" height="6.52" fill="rgb(255,95,95)"/><rect x="276.34" y="357.93" width="6.52" height="6.52" fill="rgb(255,93,93)"/><rect x="282.81" y="357.93" width="6.52" height="6.52" fill="rgb(255,97,97)"/><rect x="289.28" y="357.93" width="6.52" height="6.52" fill="rgb(255,88,88)"/><rect x="295.75" y="357.93" width="6.52" height="6.52" fill="rgb(255,97,97)"/><rect x="302.22" y="357.93" width="6.52" height="6.52" fill="rgb(255,102,102)"/><rect x="308.69" y="357.93" width="6.52" height="6.52" fill="rgb(255,97,97)"/><rect x="315.16" y="357.93" width="6.52" height="6.52" fill="rgb(255,100,100)"/><rect x="321.63" y="357.93" width="6.52" height="6.52" fill="rgb(255,87,87)"/><rect x="328.10" y="357.93" width="6.52" height="6.52" fill="rgb(255,101,101)"/><rect x="334.57" y="357.93" width="6.52" height="6.52" fill="rgb(255,96,96)"/><rect x="341.04" y="357.93" width="6.52" height="6.52" fill="rgb(255,99,99)"/><rect x="347.51" y="357.93" width="6.52" height="6.52" fill="rgb(255,94,94)"/><rect x="353.98" y="357.93" width="6.52" height="6.52" fill="rgb(255,188,188)"/><rect x="360.45" y="357.93" width="6.52" height="6.52" fill="rgb(255,177,177)"/><rect x="366.92" y="357.93" width="6.52" height="6.52" fill="rgb(255,138,138)"/><rect x="373.39" y="357.93" width="6.52" height="6.52" fill="rgb(255,154,154)"/><rect x="379.86" y="357.93" width="6.52" height="6.52" fill="rgb(255,146,146)"/><rect x="386.33" y="357.93" width="6.52" height="6.52" fill="rgb(255,0,0)"/><rect x="392.80" y="357.93" width="6.52" height="6.52" fill="rgb(255,120,120)"/><rect x="399.27" y="357.93" width="6.52" height="6.52" fill="rgb(255,136,136)"/><rect x="405.74" y="357.93" width="6.52" height="6.52" fill="rgb(255,142,142)"/><rect x="412.21" y="357.93" width="6.52" height="6.52" fill="rgb(255,156,156)"/><rect x="418.68" y="357.93" width="6.52" height="6.52" fill="rgb(255,196,196)"/><rect x="263.40" y="364.40" width="6.52" height="6.52" fill="rgb(255,75,75)"/><rect x="269.87" y="364.40" width="6.52" height="6.52" fill="rgb(255,77,77)"/><rect x="276.34" y="364.40" width="6.52" height="6.52" fill="rgb(255,82,82)"/><rect x="282.81" y="364.40" width="6.52" height="6.52" fill="rgb(255,86,86)"/><rect x="289.28" y="364.40" width="6.52" height="6.52" fill="rgb(255,79,79)"/><rect x="295.75" y="364.40" width="6.52" height="6.52" fill="rgb(255,76,76)"/><rect x="302.22" y="364.40" width="6.52" height="6.52" fill="rgb(255,78,78)"/><rect x="308.69" y="364.40" width="6.52" height="6.52" fill="rgb(255,77,77)"/><rect x="315.16" y="364.40" width="6.52" height="6.52" fill="rgb(255,82,82)"/><rect x="321.63" y="364.40" width="6.52" height="6.52" fill="rgb(255,73,73)"/><rect x="328.10" y="364.40" width="6.52" height="6.52" fill="rgb(255,73,73)"/><rect x="334.57" y="364.40" width="6.52" height="6.52" fill="rgb(255,72,72)"/><rect x="341.04" y="364.40" width="6.52" height="6.52" fill="rgb(255,75,75)"/><rect x="347.51" y="364.40" width="6.52" height="6.52" fill="rgb(255,80,80)"/><rect x="353.98" y="364.40" width="6.52" height="6.52" fill="rgb(255,191,191)"/><rect x="360.45" y="364.40" width="6.52" height="6.52" fill="rgb(255,169,169)"/><rect x="366.92" y="364.40" width="6.52" height="6.52" fill="rgb(255,125,125)"/><rect x="373.39" y="364.40" width="6.52" height="6.52" fill="rgb(255,144,144)"/><rect x="379.86" y="364.40" width="6.52" height="6.52" fill="rgb(255,134,134)"/><rect x="386.33" y="364.40" width="6.52" height="6.52" fill="rgb(255,120,120)"/><rect x="392.80" y="364.40" width="6.52" height="6.52" fill="rgb(255,0,0)"/><rect x="399.27" y="364.40" width="6.52" height="6.52" fill="rgb(255,132,132)"/><rect x="405.74" y="364.40" width="6.52" height="6.52" fill="rgb(255,130,130)"/><rect x="412.21" y="364.40" width="6.52" height="6.52" fill="rgb(255,155,155)"/><rect x="418.68" y="364.40" width="6.52" height="6.52" fill="rgb(255,191,191)"/><rect x="263.40" y="370.87" width="6.52" height="6.52" fill="rgb(255,99,99)"/><rect x="269.87" y="370.87" width="6.52" height="6.52" fill="rgb(255,105,105)"/><rect x="276.34" y="370.87" width="6.52" height="6.52" fill="rgb(255,109,109)"/><rect x="282.81" y="370.87" width="6.52" height="6.52" fill="rgb(255,100,100)"/><rect x="289.28" y="370.87" width="6.52" height="6.52" fill="rgb(255,103,103)"/><rect x="295.75" y="370.87" width="6.52" height="6.52" fill="rgb(255,98,98)"/><rect x="302.22" y="370.87" width="6.52" height="6.52" fill="rgb(255,98,98)"/><rect x="308.69" y="370.87" width="6.52" height="6.52" fill="rgb(255,96,96)"/><rect x="315.16" y="370.87" width="6.52" height="6.52" fill="rgb(255,98,98)"/><rect x="321.63" y="370.87" width="6.52" height="6.52" fill="rgb(255,106,106)"/><rect x="328.10" y="370.87" width="6.52" height="6.52" fill="rgb(255,99,99)"/><rect x="334.57" y="370.87" width="6.52" height="6.52" fill="rgb(255,100,100)"/><rect x="341.04" y="370.87" width="6.52" height="6.52" fill="rgb(255,96,96)"/><rect x="347.51" y="370.87" width="6.52" height="6.52" fill="rgb(255,102,102)"/><rect x="353.98" y="370.87" width="6.52" height="6.52" fill="rgb(255,195,195)"/><rect x="360.45" y="370.87" width="6.52" height="6.52" fill="rgb(255,181,181)"/><rect x="366.92" y="370.87" width="6.52" height="6.52" fill="rgb(255,139,139)"/><rect x="373.39" y="370.87" width="6.52" height="6.52" fill="rgb(255,155,155)"/><rect x="379.86" y="370.87" width="6.52" height="6.52" fill="rgb(255,147,147)"/><rect x="386.33" y="370.87" width="6.52" height="6.52" fill="rgb(255,136,136)"/><rect x="392.80" y="370.87" width="6.52" height="6.52" fill="rgb(255,132,132)"/><rect x="399.27" y="370.87" width="6.52" height="6.52" fill="rgb(255,0,0)"/><rect x="405.74" y="370.87" width="6.52" height="6.52" fill="rgb(255,144,144)"/><rect x="412.21" y="370.87" width="6.52" height="6.52" fill="rgb(255,160,160)"/><rect x="418.68" y="370.87" width="6.52" height="6.52" fill="rgb(255,198,198)"/><rect x="263.40" y="377.34" width="6.52" height="6.52" fill="rgb(255,109,109)"/><rect x="269.87" y="377.34" width="6.52" height="6.52" fill="rgb(255,102,102)"/><rect x="276.34" y="377.34" width="6.52" height="6.52" fill="rgb(255,97,97)"/><rect x="282.81" y="377.34" width="6.52" height="6.52" fill="rgb(255,109,109)"/><rect x="289.28" y="377.34" width="6.52" height="6.52" fill="rgb(255,99,99)"/><rect x="295.75" y="377.34" width="6.52" height="6.52" fill="rgb(255,109,109)"/><rect x="302.22" y="377.34" width="6.52" height="6.52" fill="rgb(255,105,105)"/><rect x="308.69" y="377.34" width="6.52" height="6.52" fill="rgb(255,103,103)"/><rect x="315.16" y="377.34" width="6.52" height="6.52" fill="rgb(255,106,106)"/><rect x="321.63" y="377.34" width="6.52" height="6.52" fill="rgb(255,98,98)"/><rect x="328.10" y="377.34" width="6.52" height="6.52" fill="rgb(255,96,96)"/><rect x="334.57" y="377.34" width="6.52" height="6.52" fill="rgb(255,104,104)"/><rect x="341.04" y="377.34" width="6.52" height="6.52" fill="rgb(255,97,97)"/><rect x="347.51" y="377.34" width="6.52" height="6.52" fill="rgb(255,98,98)"/><rect x="353.98" y="377.34" width="6.52" height="6.52" fill="rgb(255,197,197)"/><rect x="360.45" y="377.34" width="6.52" height="6.52" fill="rgb(255,177,177)"/><rect x="366.92" y="377.34" width="6.52" height="6.52" fill="rgb(255,143,143)"/><rect x="373.39" y="377.34" width="6.52" height="6.52" fill="rgb(255,158,158)"/><rect x="379.86" y="377.34" width="6.52" height="6.52" fill="rgb(255,153,153)"/><rect x="386.33" y="377.34" width="6.52" height="6.52" fill="rgb(255,142,142)"/><rect x="392.80" y="377.34" width="6.52" height="6.52" fill="rgb(255,130,130)"/><rect x="399.27" y="377.34" width="6.52" height="6.52" fill="rgb(255,144,144)"/><rect x="405.74" y="377.34" width="6.52" height="6.52" fill="rgb(255,0,0)"/><rect x="412.21" y="377.34" width="6.52" height="6.52" fill="rgb(255,162,162)"/><rect x="418.68" y="377.34" width="6.52" height="6.52" fill="rgb(255,199,199)"/><rect x="263.40" y="383.81" width="6.52" height="6.52" fill="rgb(255,126,126)"/><rect x="269.87" y="383.81" width="6.52" height="6.52" fill="rgb(255,132,132)"/><rect x="276.34" y="383.81" width="6.52" height="6.52" fill="rgb(255,123,123)"/><rect x="282.81" y="383.81" width="6.52" height="6.52" fill="rgb(255,135,135)"/><rect x="289.28" y="383.81" width="6.52" height="6.52" fill="rgb(255,134,134)"/><rect x="295.75" y="383.81" width="6.52" height="6.52" fill="rgb(255,137,137)"/><rect x="302.22" y="383.81" width="6.52" height="6.52" fill="rgb(255,134,134)"/><rect x="308.69" y="383.81" width="6.52" height="6.52" fill="rgb(255,134,134)"/><rect x="315.16" y="383.81" width="6.52" height="6.52" fill="rgb(255,132,132)"/><rect x="321.63" y="383.81" width="6.52" height="6.52" fill="rgb(255,125,125)"/><rect x="328.10" y="383.81" width="6.52" height="6.52" fill="rgb(255,124,124)"/><rect x="334.57" y="383.81" width="6.52" height="6.52" fill="rgb(255,134,134)"/><rect x="341.04" y="383.81" width="6.52" height="6.52" fill="rgb(255,125,125)"/><rect x="347.51" y="383.81" width="6.52" height="6.52" fill="rgb(255,138,138)"/><rect x="353.98" y="383.81" width="6.52" height="6.52" fill="rgb(255,206,206)"/><rect x="360.45" y="383.81" width="6.52" height="6.52" fill="rgb(255,188,188)"/><rect x="366.92" y="383.81" width="6.52" height="6.52" fill="rgb(255,158,158)"/><rect x="373.39" y="383.81" width="6.52" height="6.52" fill="rgb(255,172,172)"/><rect x="379.86" y="383.81" width="6.52" height="6.52" fill="rgb(255,168,168)"/><rect x="386.33" y="383.81" width="6.52" height="6.52" fill="rgb(255,156,156)"/><rect x="392.80" y="383.81" width="6.52" height="6.52" fill="rgb(255,155,155)"/><rect x="399.27" y="383.81" width="6.52" height="6.52" fill="rgb(255,160,160)"/><rect x="405.74" y="383.81" width="6.52" height="6.52" fill="rgb(255,162,162)"/><rect x="412.21" y="383.81" width="6.52" height="6.52" fill="rgb(255,0,0)"/><rect x="418.68" y="383.81" width="6.52" height="6.52" fill="rgb(255,209,209)"/><rect x="263.40" y="390.28" width="6.52" height="6.52" fill="rgb(255,185,185)"/><rect x="269.87" y="390.28" width="6.52" height="6.52" fill="rgb(255,188,188)"/><rect x="276.34" y="390.28" width="6.52" height="6.52" fill="rgb(255,192,192)"/><rect x="282.81" y="390.28" width="6.52" height="6.52" fill="rgb(255,188,188)"/><rect x="289.28" y="390.28" width="6.52" height="6.52" fill="rgb(255,189,189)"/><rect x="295.75" y="390.28" width="6.52" height="6.52" fill="rgb(255,183,183)"/><rect x="302.22" y="390.28" width="6.52" height="6.52" fill="rgb(255,182,182)"/><rect x="308.69" y="390.28" width="6.52" height="6.52" fill="rgb(255,192,192)"/><rect x="315.16" y="390.28" width="6.52" height="6.52" fill="rgb(255,187,187)"/><rect x="321.63" y="390.28" width="6.52" height="6.52" fill="rgb(255,184,184)"/><rect x="328.10" y="390.28" width="6.52" height="6.52" fill="rgb(255,180,180)"/><rect x="334.57" y="390.28" width="6.52" height="6.52" fill="rgb(255,181,181)"/><rect x="341.04" y="390.28" width="6.52" height="6.52" fill="rgb(255,194,194)"/><rect x="347.51" y="390.28" width="6.52" height="6.52" fill="rgb(255,193,193)"/><rect x="353.98" y="390.28" width="6.52" height="6.52" fill="rgb(255,225,225)"/><rect x="360.45" y="390.28" width="6.52" height="6.52" fill="rgb(255,217,217)"/><rect x="366.92" y="390.28" width="6.52" height="6.52" fill="rgb(255,199,199)"/><rect x="373.39" y="390.28" width="6.52" height="6.52" fill="rgb(255,207,207)"/><rect x="379.86" y="390.28" width="6.52" height="6.52" fill="rgb(255,204,204)"/><rect x="386.33" y="390.28" width="6.52" height="6.52" fill="rgb(255,196,196)"/><rect x="392.80" y="390.28" width="6.52" height="6.52" fill="rgb(255,191,191)"/><rect x="399.27" y="390.28" width="6.52" height="6.52" fill="rgb(255,198,198)"/><rect x="405.74" y="390.28" width="6.52" height="6.52" fill="rgb(255,199,199)"/><rect x="412.21" y="390.28" width="6.52" height="6.52" fill="rgb(255,209,209)"/><rect x="418.68" y="390.28" width="6.52" height="6.52" fill="rgb(255,0,0)"/></g>
<path d="M269.87 235.0V396.75M263.4 241.47H425.15M276.34 235.0V396.75M263.4 247.94H425.15M282.81 235.0V396.75M263.4 254.41H425.15M289.28 235.0V396.75M263.4 260.88H425.15M295.75 235.0V396.75M263.4 267.35H425.15M302.22 235.0V396.75M263.4 273.82H425.15M308.69 235.0V396.75M263.4 280.29H425.15M315.16 235.0V396.75M263.4 286.76H425.15M321.63 235.0V396.75M263.4 293.23H425.15M328.10 235.0V396.75M263.4 299.70H425.15M334.57 235.0V396.75M263.4 306.17H425.15M341.04 235.0V396.75M263.4 312.64H425.15M347.51 235.0V396.75M263.4 319.11H425.15M353.98 235.0V396.75M263.4 325.58H425.15M360.45 235.0V396.75M263.4 332.05H425.15M366.92 235.0V396.75M263.4 338.52H425.15M373.39 235.0V396.75M263.4 344.99H425.15M379.86 235.0V396.75M263.4 351.46H425.15M386.33 235.0V396.75M263.4 357.93H425.15M392.80 235.0V396.75M263.4 364.40H425.15M399.27 235.0V396.75M263.4 370.87H425.15M405.74 235.0V396.75M263.4 377.34H425.15M412.21 235.0V396.75M263.4 383.81H425.15M418.68 235.0V396.75M263.4 390.28H425.15" stroke="#fff" stroke-opacity="0.13" stroke-width="0.6"/>
<defs><linearGradient id="cb"><stop offset="0" stop-color="#0000ff"/><stop offset="0.5" stop-color="#ffffff"/><stop offset="1" stop-color="#ee0000"/></linearGradient></defs>
<rect x="293.1" y="402.7" width="100.8" height="6.4" fill="url(#cb)" stroke="#999" stroke-width="0.5"/>
<text x="284.8" y="409.4" font-size="11.5" fill="#000" stroke="#000" stroke-width="0.1">r</text>
<text x="293.6" y="417.9" font-size="8.3" fill="#c40018" stroke="#c40018" stroke-width="0.2" font-weight="bold" text-anchor="middle">-1</text>
<text x="344.4" y="417.9" font-size="8.3" fill="#c40018" stroke="#c40018" stroke-width="0.2" font-weight="bold" text-anchor="middle">0</text>
<text x="393.4" y="417.9" font-size="8.3" fill="#c40018" stroke="#c40018" stroke-width="0.2" font-weight="bold" text-anchor="middle">1</text>
<text x="449.8" y="225.8" font-size="22.5" fill="#000" stroke="#000" stroke-width="0.2" font-weight="bold">e</text>
<text x="495.5" y="224.4" font-size="16" fill="#000" stroke="#000" stroke-width="0.2" font-weight="bold">Enrichment by gRNA</text>
<path d="M480.6 396.9H482.4M479.4 385.0H482.4M480.6 373.0H482.4M479.4 361.1H482.4M480.6 349.1H482.4M479.4 337.2H482.4M480.6 325.2H482.4M479.4 313.3H482.4M480.6 301.4H482.4M479.4 289.4H482.4M480.6 277.4H482.4M479.4 265.5H482.4M480.6 253.6H482.4M479.4 241.6H482.4M486.1 398.5V400.3M489.5 398.5V400.3M492.4 398.5V400.3M495.0 398.5V400.3M497.3 398.5V401.5M512.5 398.5V400.3M521.3 398.5V400.3M527.6 398.5V400.3M532.5 398.5V400.3M536.5 398.5V400.3M539.9 398.5V400.3M542.8 398.5V400.3M545.4 398.5V400.3M547.7 398.5V401.5M562.9 398.5V400.3M571.7 398.5V400.3M578.0 398.5V400.3M582.9 398.5V400.3M586.9 398.5V400.3M590.3 398.5V400.3M593.2 398.5V400.3M595.8 398.5V400.3M598.1 398.5V401.5M613.3 398.5V400.3M622.1 398.5V400.3M628.4 398.5V400.3M633.3 398.5V400.3M637.3 398.5V400.3M640.7 398.5V400.3M643.6 398.5V400.3M646.2 398.5V400.3M648.5 398.5V401.5M663.7 398.5V400.3M672.5 398.5V400.3M678.8 398.5V400.3" stroke="#a8a8a8" stroke-width="0.9"/>
<text x="478.7" y="246.2" font-size="13.5" fill="#000" stroke="#000" stroke-width="0.1" text-anchor="end">4</text>
<text x="478.7" y="270.1" font-size="13.5" fill="#000" stroke="#000" stroke-width="0.1" text-anchor="end">3</text>
<text x="478.7" y="294.0" font-size="13.5" fill="#000" stroke="#000" stroke-width="0.1" text-anchor="end">2</text>
<text x="478.7" y="317.90000000000003" font-size="13.5" fill="#000" stroke="#000" stroke-width="0.1" text-anchor="end">1</text>
<text x="478.7" y="341.8" font-size="13.5" fill="#000" stroke="#000" stroke-width="0.1" text-anchor="end">0</text>
<text x="478.7" y="365.7" font-size="13.5" fill="#000" stroke="#000" stroke-width="0.1" text-anchor="end">-1</text>
<text x="478.7" y="389.6" font-size="13.5" fill="#000" stroke="#000" stroke-width="0.1" text-anchor="end">-2</text>
<text x="498.8" y="412.2" font-size="13.2" fill="#000" stroke="#000" stroke-width="0.1" text-anchor="middle" letter-spacing="0.55">10</text>
<text x="549.2" y="412.2" font-size="13.2" fill="#000" stroke="#000" stroke-width="0.1" text-anchor="middle" letter-spacing="0.55">100</text>
<text x="599.6" y="412.2" font-size="13.2" fill="#000" stroke="#000" stroke-width="0.1" text-anchor="middle" letter-spacing="0.55">1000</text>
<text x="650.0" y="412.2" font-size="13.2" fill="#000" stroke="#000" stroke-width="0.1" text-anchor="middle" letter-spacing="0.55">10000</text>
<text x="583.0" y="428.8" font-size="16.5" fill="#000" stroke="#000" stroke-width="0.35" text-anchor="middle">Mean of Norm. Counts</text>
<text x="461.8" y="320" font-size="15.5" stroke="#000" stroke-width="0.35" text-anchor="middle" transform="rotate(-90 461.8 320)">log<tspan font-size="10.5" dy="3.5">2</tspan><tspan dy="-3.5">FC</tspan></text>
<path d="M494.5 324L497 318L500 314.5L510 315L526 316L534 309L543 302L550 298.5L561 296L575 295L593 294L610 292.5L620 292.5L624 298L623 310L617 320L610 330L605 337L598 343.5L590 348L580 353.5L573 357.5L560 361.5L545 360L527 356.5L510 349L499 341L495.5 335L494 328Z" fill="#000"/>
<path d="M609.8 291.8h0M515.7 353.2h0M499.0 338.3h0M627.8 298.3h0M636.3 300.4h0M505.8 316.2h0M598.7 338.4h0M574.7 353.7h0M553.2 359.1h0M606.0 338.1h0M636.8 305.6h0M588.6 345.5h0M518.0 352.2h0M611.5 328.7h0M539.6 358.8h0M550.5 360.1h0M523.7 352.7h0M567.9 355.8h0M578.4 294.7h0M551.3 299.5h0M562.3 296.9h0M503.1 342.4h0M492.6 332.8h0M629.9 284.0h0M623.2 287.4h0M575.1 354.6h0M497.8 336.4h0M533.6 357.6h0M507.7 315.8h0M556.7 360.3h0M534.6 311.8h0M525.2 316.2h0M577.4 297.7h0M574.8 358.8h0M498.1 343.4h0M607.8 344.9h0M617.2 322.2h0M503.1 344.8h0M523.1 351.7h0M537.4 305.9h0M509.0 357.0h0M621.2 300.8h0M533.5 313.7h0M539.1 362.7h0M568.6 358.9h0M622.7 299.7h0M579.7 349.7h0M620.9 308.9h0M621.9 298.6h0M582.3 360.4h0M578.5 297.4h0M595.4 294.5h0M634.1 312.1h0M583.2 355.2h0M573.2 375.1h0M623.1 315.4h0M615.2 317.3h0M525.6 360.3h0M531.3 355.6h0M508.3 311.1h0M620.2 297.2h0M494.1 321.1h0M519.8 314.7h0M575.2 296.4h0M627.2 300.5h0M528.6 316.1h0M594.6 294.7h0M532.5 314.5h0M562.9 296.7h0M499.4 314.2h0M494.4 320.4h0M531.4 354.9h0M525.4 312.5h0M569.3 292.6h0M612.2 328.1h0M616.2 319.2h0M539.4 355.9h0M504.8 317.7h0M506.2 348.8h0M602.4 291.8h0M616.8 294.7h0M504.0 312.4h0M577.9 294.4h0M618.0 319.6h0M550.3 360.3h0M521.7 318.8h0M618.6 316.5h0M519.1 354.3h0M537.3 355.4h0M547.9 303.0h0M627.7 299.6h0M616.3 295.2h0M584.1 349.5h0M554.5 362.0h0M494.7 321.9h0M599.4 347.2h0M495.0 326.2h0M526.9 316.8h0M608.4 328.7h0M569.7 355.4h0M616.1 322.6h0M573.0 363.9h0M629.0 327.2h0M517.6 314.6h0M605.2 337.5h0M609.0 290.2h0M532.6 305.3h0M605.8 333.5h0M541.9 303.2h0M496.8 332.7h0M516.8 350.5h0M497.1 328.7h0M582.0 348.6h0M609.7 360.8h0M622.3 320.8h0M630.4 297.6h0M540.1 359.0h0M582.5 354.2h0M512.7 353.6h0M561.2 298.3h0M580.9 295.8h0M628.6 311.1h0M524.1 312.8h0M515.4 356.6h0M579.1 354.4h0M591.8 348.1h0M493.1 327.4h0M496.1 319.1h0M534.4 357.3h0M582.0 351.2h0M617.8 322.0h0M593.1 294.9h0M519.1 350.3h0M586.9 295.0h0M596.4 297.1h0M521.6 316.4h0M522.0 351.9h0M627.1 286.3h0M543.8 304.9h0M532.5 306.1h0M587.4 345.9h0M622.7 287.4h0M616.4 294.1h0M621.4 298.4h0M547.6 362.4h0M595.2 342.8h0M611.1 336.5h0M515.5 352.5h0M590.3 296.8h0M532.6 355.0h0M552.7 298.3h0M605.3 337.2h0M626.1 317.2h0M620.8 314.4h0M531.6 357.4h0M568.0 360.4h0M631.5 301.3h0M525.7 311.5h0M507.6 343.8h0M624.4 360.3h0M505.2 315.3h0M578.1 294.5h0M623.3 318.2h0M562.3 359.4h0M617.6 292.1h0M531.4 309.2h0M533.2 309.8h0M608.7 330.3h0M601.8 353.1h0M502.2 313.4h0M518.8 353.1h0M611.4 330.9h0M620.3 336.7h0M617.2 326.2h0M575.0 290.9h0M632.9 319.7h0M617.1 313.9h0M612.7 295.8h0M538.7 357.2h0M621.3 333.2h0M630.1 315.4h0M543.1 300.4h0M549.3 359.2h0M610.9 327.3h0M494.9 326.2h0M497.3 321.7h0M497.2 322.5h0M532.1 356.0h0M559.4 297.8h0M570.9 297.2h0M519.7 353.3h0M582.1 351.9h0M560.3 296.4h0M574.9 366.7h0M562.6 359.6h0M619.9 307.6h0M566.2 364.4h0M568.6 297.8h0M498.1 344.5h0M527.7 356.7h0M613.5 290.4h0M568.2 298.5h0M549.0 357.3h0M614.1 335.1h0M606.6 295.6h0M588.5 291.8h0M619.7 308.9h0M594.6 294.1h0M629.0 298.0h0M513.6 353.2h0M495.5 316.4h0M596.0 289.2h0M573.6 295.5h0M531.5 358.1h0M524.2 351.6h0M576.4 353.3h0M615.9 331.6h0M518.3 355.1h0M629.8 314.6h0M533.3 362.4h0M526.9 354.6h0M588.0 292.8h0M628.7 309.8h0M497.6 323.2h0M610.0 292.0h0M623.7 324.9h0M590.2 294.3h0M626.0 301.3h0M566.9 360.2h0M566.6 360.9h0M602.5 343.6h0M572.8 361.1h0M581.2 352.5h0M503.5 342.1h0M545.0 301.2h0M549.5 365.2h0M491.8 320.1h0M576.4 354.5h0M574.5 297.3h0M497.6 333.7h0M555.4 295.8h0M598.2 341.2h0M533.1 355.9h0M624.8 306.8h0M499.1 312.9h0M588.9 345.5h0M588.5 371.1h0M542.8 359.9h0M605.2 339.9h0M521.2 350.1h0M555.7 364.8h0M537.1 310.4h0M550.6 359.3h0M593.2 342.3h0M522.2 361.6h0M523.8 354.2h0M543.3 356.6h0M589.6 348.5h0M497.9 320.0h0M513.7 348.0h0M492.1 329.6h0M608.5 335.4h0M637.0 302.6h0M602.7 346.7h0M591.6 296.7h0M527.1 316.3h0M561.9 298.3h0M579.2 354.0h0M552.5 301.1h0M585.1 293.1h0M567.7 356.5h0M523.9 353.8h0M630.6 296.3h0M526.3 357.1h0M534.1 310.0h0M536.6 307.1h0M624.5 305.6h0M572.1 357.8h0M518.8 353.2h0M626.5 333.6h0M605.3 292.4h0M615.1 316.5h0M505.7 346.3h0M547.0 368.2h0M543.5 304.6h0M526.0 356.9h0M603.6 345.3h0M611.8 328.4h0M570.8 355.3h0M600.0 337.4h0M530.8 310.9h0M519.1 317.3h0M536.0 309.2h0M498.4 317.5h0M564.6 297.7h0M559.0 361.7h0M570.1 297.7h0M563.6 358.5h0M621.2 306.7h0M615.8 318.1h0M595.4 296.6h0M524.6 357.8h0M580.7 297.5h0M586.9 295.4h0M536.2 307.6h0M626.3 333.7h0M520.3 363.2h0M505.7 355.5h0M566.4 356.0h0M591.1 351.9h0M598.7 345.6h0M613.8 291.1h0M491.6 336.3h0M542.5 302.9h0M514.0 349.4h0M595.0 347.5h0M599.9 296.5h0M538.8 358.7h0M562.0 295.1h0M531.0 360.4h0M528.1 315.5h0M624.7 291.9h0M557.6 360.6h0M594.4 342.1h0M521.9 354.1h0M499.4 335.2h0M575.3 354.8h0M605.2 334.7h0M616.6 295.6h0M540.1 359.9h0M498.0 330.7h0M496.8 327.3h0M579.9 292.4h0M512.9 350.0h0M581.9 351.1h0M622.5 332.9h0M607.3 330.1h0M602.7 339.8h0M541.8 358.9h0M621.8 319.9h0M541.6 304.0h0M518.3 353.4h0M564.8 357.2h0M566.5 359.0h0M635.0 299.7h0M518.4 315.2h0M537.3 310.4h0M614.9 324.7h0M569.6 294.3h0M584.0 295.4h0M626.7 323.6h0M619.5 312.8h0M615.9 337.9h0M564.6 356.7h0M514.3 317.6h0M498.9 343.9h0M549.1 302.1h0M552.3 301.2h0M627.2 309.1h0M577.5 356.6h0M594.9 343.6h0M632.3 324.0h0M541.8 357.5h0M575.9 296.5h0M598.7 294.9h0M584.8 292.0h0M607.2 334.4h0M529.2 357.0h0M623.4 299.7h0M575.1 295.8h0M499.9 319.5h0M609.9 294.3h0M616.1 287.8h0M629.6 308.0h0M518.4 350.4h0M569.6 295.2h0M601.9 349.8h0M563.4 297.0h0M606.7 292.2h0M576.8 296.2h0M587.9 294.0h0M598.3 342.0h0M555.5 300.7h0M505.4 341.5h0M548.7 300.8h0M597.1 342.0h0M515.7 317.2h0M595.0 345.4h0M530.9 365.2h0M626.2 311.6h0M500.3 342.6h0M519.7 317.3h0M621.5 310.4h0M591.8 344.4h0M612.0 294.6h0M563.8 297.3h0M539.8 355.9h0M540.0 357.1h0M613.5 322.1h0M614.8 337.5h0M493.1 320.5h0M570.4 356.4h0M543.0 302.3h0M562.0 363.5h0M543.9 299.3h0M620.0 291.4h0M549.2 302.3h0M620.3 314.6h0M516.5 350.1h0M616.1 315.2h0M605.4 333.5h0M617.7 322.6h0M529.4 316.3h0M582.9 296.8h0M625.2 301.1h0M520.2 351.0h0M582.6 357.4h0M630.0 319.1h0M566.1 295.6h0M544.5 357.0h0M590.5 351.4h0M549.9 300.9h0M605.4 292.1h0M630.4 312.9h0M613.3 336.9h0M540.2 303.1h0M500.3 341.9h0M629.7 297.7h0M504.4 342.7h0M561.4 364.0h0M495.2 324.9h0M493.3 328.5h0M604.4 368.7h0M627.2 313.1h0M582.3 295.6h0M540.6 359.4h0M548.2 299.3h0M503.6 347.4h0M628.8 304.3h0M611.5 343.9h0M507.1 314.7h0M554.0 364.3h0M590.1 292.4h0M546.6 301.3h0M541.7 369.7h0M565.6 358.8h0M562.1 296.5h0M514.9 316.2h0M625.9 314.1h0M619.6 293.6h0M593.8 296.4h0M525.4 319.4h0M496.2 324.0h0M605.7 341.3h0M543.9 305.0h0M590.0 350.4h0M605.8 334.6h0M541.1 305.1h0M602.2 341.4h0M561.3 364.9h0M519.4 316.8h0M580.5 293.6h0M567.2 356.1h0M512.4 314.1h0M549.4 360.9h0M596.5 348.1h0M649.7 305.8h0M517.6 317.3h0M561.5 295.2h0M628.1 283.6h0M608.0 334.5h0M548.0 297.7h0M502.1 313.4h0M631.4 303.8h0M521.0 311.5h0M589.8 295.0h0M528.9 314.7h0M562.8 296.2h0M603.4 340.5h0M527.7 317.3h0M625.0 292.6h0M622.1 299.8h0M596.0 292.9h0M554.9 297.6h0M632.8 299.8h0M524.5 312.2h0M588.7 352.3h0M503.2 315.3h0M622.1 334.2h0M624.5 286.0h0M497.6 324.8h0M615.2 320.0h0M541.7 306.0h0M601.0 291.5h0M500.6 317.8h0M556.5 294.3h0M571.5 295.8h0M634.6 282.2h0M545.7 300.1h0M552.1 363.9h0M547.4 302.7h0M536.6 310.5h0M523.0 318.5h0M624.4 317.8h0M620.3 303.2h0M523.9 316.5h0M616.3 328.8h0M628.5 299.4h0M584.3 295.0h0M562.6 293.7h0M494.9 321.6h0M547.9 296.4h0M592.4 293.9h0M550.0 358.0h0M566.7 362.9h0M529.2 310.2h0M509.8 355.1h0M554.0 299.1h0M603.6 338.7h0M546.5 362.6h0M538.4 304.9h0M528.5 358.0h0M579.1 297.4h0M595.9 294.1h0M498.3 320.5h0M596.5 340.2h0M542.8 358.9h0M624.0 308.5h0M507.8 313.4h0M552.3 300.5h0M536.0 355.1h0M549.4 299.2h0M607.5 327.9h0M622.7 303.8h0M595.5 294.1h0M522.3 351.2h0M526.3 318.1h0M594.3 351.9h0M617.7 292.7h0M593.1 293.9h0M608.8 332.9h0M499.3 334.8h0M585.5 357.7h0M519.9 316.7h0M541.3 366.4h0M555.5 361.1h0M620.4 321.2h0M576.7 353.8h0M625.0 337.2h0M562.5 367.2h0M630.5 299.6h0M617.7 341.8h0M622.9 299.8h0M607.9 327.7h0M600.6 338.8h0M597.3 361.1h0M503.7 342.9h0M526.6 314.0h0M560.2 359.1h0M490.2 333.4h0M527.0 357.2h0M618.7 321.7h0M558.1 362.1h0M588.9 348.9h0M502.6 340.8h0M528.3 356.1h0M629.9 292.4h0M515.2 313.6h0M572.9 356.2h0M587.2 294.5h0M597.2 296.8h0M622.6 296.8h0M611.1 335.0h0M612.2 332.0h0M536.0 311.1h0M592.7 297.3h0M622.0 308.7h0M531.6 355.6h0M620.4 324.2h0M582.9 293.9h0M518.5 352.5h0M598.4 340.4h0M550.7 357.5h0M589.6 353.8h0M500.8 314.9h0M610.1 344.8h0M500.1 337.3h0M550.1 359.2h0M587.6 293.2h0M515.9 318.7h0M615.6 324.6h0M498.0 315.0h0M533.4 357.5h0M622.4 326.7h0M497.6 324.2h0M535.9 309.1h0M497.3 327.2h0M564.9 294.9h0M509.5 354.3h0M513.0 352.8h0M505.0 316.5h0M506.3 347.6h0M622.0 286.4h0M604.6 332.0h0M579.1 297.1h0M599.8 338.5h0M546.9 302.4h0M582.4 353.0h0M530.5 359.7h0M531.7 314.1h0M620.6 316.5h0M583.9 347.6h0M608.2 342.4h0M628.2 304.4h0M527.0 313.1h0M613.4 319.1h0M600.1 289.7h0M616.9 317.5h0M596.5 295.9h0M630.6 295.5h0M550.2 301.9h0M502.4 317.3h0M531.4 311.6h0M620.4 312.5h0M612.4 293.7h0M527.9 355.3h0M620.5 301.4h0M581.6 296.3h0M602.0 346.7h0M533.5 356.6h0M555.7 295.9h0M541.7 304.6h0M576.8 353.1h0M624.5 294.6h0M603.0 335.1h0M575.9 297.4h0M623.1 333.8h0M617.5 295.6h0M625.5 301.8h0M527.5 319.0h0M536.7 307.7h0M603.5 335.0h0M554.0 360.0h0M501.5 347.9h0M535.9 310.7h0M631.6 292.6h0M594.7 295.9h0M612.3 361.0h0M623.3 303.9h0M583.3 353.1h0M607.5 295.8h0M598.4 340.5h0M589.2 351.1h0M524.4 355.1h0M618.3 327.4h0M623.0 317.6h0M615.0 329.1h0M495.6 324.4h0M516.1 311.9h0M567.1 363.3h0M549.2 356.9h0M537.0 366.6h0M605.7 330.3h0M606.7 339.9h0M543.3 361.3h0M556.6 298.7h0M586.6 352.2h0M579.0 351.4h0M567.7 364.4h0M527.4 353.8h0M546.3 357.8h0M543.1 299.6h0M512.5 314.1h0M498.1 315.5h0M533.5 356.7h0M572.4 357.4h0M543.8 304.5h0M568.7 356.7h0M625.5 285.3h0M636.4 303.8h0M619.6 320.1h0M587.6 292.4h0M625.3 337.9h0M593.2 343.4h0M529.6 312.0h0M628.7 294.6h0M595.0 344.0h0M611.3 340.6h0M497.8 335.2h0M533.3 354.5h0M507.1 311.2h0M526.5 315.1h0M498.5 332.6h0M540.7 304.8h0M619.0 294.8h0M536.1 311.7h0M514.6 350.3h0M522.0 313.1h0M578.3 355.0h0M608.9 343.9h0M543.8 299.2h0M595.3 294.2h0M578.4 293.3h0M612.2 295.7h0M595.7 294.3h0M500.7 342.6h0M542.6 361.4h0M535.1 362.2h0M638.7 300.7h0M509.5 347.9h0M615.1 319.5h0M571.5 364.5h0M501.4 315.0h0M543.1 357.5h0M596.4 345.5h0M613.2 325.9h0M529.0 359.7h0M601.0 338.5h0M534.8 309.4h0M553.6 294.0h0M548.1 303.2h0M531.5 360.6h0M516.6 314.9h0M634.4 308.0h0M604.9 294.6h0M588.9 294.4h0M610.9 324.0h0M514.0 347.8h0M557.9 362.7h0M636.9 303.3h0M573.5 296.6h0M615.0 295.3h0M594.8 342.7h0M540.8 307.7h0M622.0 293.9h0M500.3 339.2h0M612.5 325.2h0M563.0 294.4h0M572.9 356.4h0M505.2 350.2h0M597.8 342.7h0M528.3 354.9h0M566.9 296.1h0M555.0 299.4h0M515.4 316.6h0M539.8 356.1h0M549.2 362.2h0M635.8 300.7h0M527.9 314.1h0M562.3 296.6h0M622.7 305.4h0M613.3 328.5h0M625.6 298.9h0M542.6 300.7h0M589.6 348.0h0M612.8 329.5h0M507.2 315.9h0M554.5 297.0h0M552.6 298.1h0M607.7 294.9h0M597.6 295.9h0M503.1 310.2h0M510.5 313.3h0M496.5 335.0h0M494.0 333.7h0M603.9 295.9h0M618.3 324.8h0M507.9 351.6h0M535.2 363.6h0M617.7 339.2h0M610.7 295.8h0M560.2 360.8h0M581.0 350.2h0M625.4 302.5h0M583.2 296.9h0M632.5 302.5h0M607.2 351.6h0M534.2 309.6h0M563.4 297.8h0M622.5 309.7h0M516.7 317.3h0M624.5 312.6h0M567.6 363.2h0M562.2 360.7h0M603.4 292.4h0M566.2 357.9h0M580.1 293.0h0M562.7 292.8h0M618.5 292.8h0M598.4 345.1h0M522.4 315.9h0M552.3 295.5h0M510.9 311.8h0M494.4 321.9h0M496.9 329.6h0M504.6 342.4h0M515.1 353.3h0M515.6 318.5h0M601.2 359.6h0M586.7 293.6h0M506.1 313.0h0M537.1 308.7h0M519.4 317.5h0M610.2 326.4h0M615.5 321.3h0M495.2 327.4h0M607.8 343.5h0M623.6 311.1h0M499.5 315.9h0M623.9 296.3h0M524.8 319.2h0M528.4 356.1h0M537.3 359.5h0M588.7 295.4h0M541.1 302.8h0M615.3 321.3h0M566.7 357.7h0M626.2 299.5h0M494.8 328.6h0M546.3 360.3h0M497.7 343.7h0M503.0 341.1h0M566.5 358.5h0M542.4 302.8h0M537.4 307.4h0M555.3 364.8h0M622.7 295.6h0M538.4 304.3h0M632.7 308.8h0M548.0 301.0h0M621.7 289.9h0M586.2 350.6h0M556.4 368.7h0M554.0 359.8h0M625.8 311.0h0M611.4 292.0h0M548.7 358.2h0M621.8 306.0h0M621.5 318.9h0M618.2 320.1h0M615.2 316.6h0M561.9 298.5h0M563.0 359.1h0M521.9 312.4h0M597.4 296.5h0M523.8 351.4h0M604.8 345.5h0M589.5 294.0h0M601.1 343.0h0M522.7 313.5h0M557.2 362.0h0M626.7 311.7h0M599.6 341.0h0M620.9 304.0h0M627.7 299.7h0M624.0 315.6h0M525.9 359.6h0M535.2 359.0h0M633.9 306.3h0M604.9 296.1h0M499.4 315.2h0M593.6 291.9h0M618.7 317.8h0M623.8 309.6h0M610.4 295.4h0M610.2 294.4h0M617.4 294.8h0M567.2 363.3h0M595.0 294.0h0M589.8 348.2h0M521.9 351.5h0M599.0 290.7h0M581.7 295.0h0M598.5 292.5h0M617.5 341.6h0M623.9 317.7h0M610.3 349.9h0M584.2 349.2h0M552.2 294.4h0M566.8 292.0h0M592.3 344.7h0M561.7 365.3h0M598.0 340.5h0M637.3 299.6h0M580.1 352.0h0M561.3 297.8h0M576.5 360.1h0M642.5 311.9h0M540.4 359.4h0M634.9 309.8h0M566.0 361.2h0M560.7 295.7h0M609.4 338.0h0M507.1 357.2h0M507.2 318.2h0M584.0 347.6h0M556.3 359.1h0M560.7 358.3h0M589.7 297.5h0M560.3 363.9h0M583.5 353.1h0M603.9 339.6h0M608.4 343.7h0M508.9 348.9h0M503.2 316.5h0M493.9 323.5h0M622.1 315.1h0M605.3 335.6h0M497.8 316.2h0M639.9 299.7h0M621.8 293.2h0M621.9 284.4h0M625.2 294.2h0M621.6 291.8h0M526.5 314.4h0M537.6 307.5h0M504.9 317.8h0M567.6 359.5h0M589.6 346.6h0M537.9 359.4h0M500.7 316.6h0M506.1 311.4h0M559.3 372.6h0M545.6 302.5h0M612.5 295.8h0M612.1 322.6h0M509.8 346.8h0M617.6 334.8h0M606.0 294.4h0M587.5 350.1h0M510.2 316.2h0M545.7 299.7h0M551.6 298.1h0M530.0 361.0h0M579.2 352.8h0M610.1 330.4h0M582.3 295.5h0M559.9 299.6h0M552.0 297.1h0M515.3 316.2h0M617.7 340.0h0M583.9 347.7h0M505.7 341.9h0M578.6 358.0h0M532.0 314.0h0M540.5 359.6h0M503.9 343.6h0M506.8 344.9h0M601.1 338.4h0M506.5 346.4h0M620.0 296.3h0M611.6 294.2h0M611.2 295.3h0M528.3 311.5h0M524.4 352.9h0M613.5 325.1h0M509.1 344.7h0M553.4 360.2h0M511.5 354.7h0M621.5 288.2h0M511.6 317.6h0M537.6 310.3h0M617.3 322.9h0M551.2 297.5h0M515.5 317.8h0M517.6 317.0h0M514.2 347.0h0M523.3 354.0h0M592.6 295.4h0M627.9 288.1h0M614.4 292.5h0M611.8 324.0h0M613.2 326.0h0M538.3 309.8h0M531.1 314.6h0M564.5 366.5h0M614.3 335.3h0M506.6 345.8h0M568.7 355.2h0M626.2 305.4h0M567.0 359.1h0M538.8 306.1h0M605.1 293.2h0M513.0 347.2h0M603.3 338.0h0M531.6 308.3h0M532.1 306.8h0M505.6 347.5h0M558.7 298.1h0M624.7 308.8h0M531.8 309.7h0M497.4 319.7h0M600.5 341.7h0M622.5 322.0h0M619.9 294.6h0M614.3 292.2h0M527.8 317.2h0M555.9 300.2h0M497.6 340.7h0M594.2 293.0h0M567.8 357.8h0M513.5 315.1h0M531.3 356.6h0M595.2 349.4h0M625.2 306.0h0M575.7 297.4h0M578.9 355.8h0M525.9 353.7h0M513.4 318.3h0M614.1 332.5h0M630.9 335.7h0M576.8 359.2h0M615.8 337.1h0M579.7 297.4h0M608.7 358.8h0M512.9 348.8h0M543.1 301.8h0M524.7 360.2h0M628.7 324.2h0M563.5 298.0h0M504.5 313.2h0M627.1 293.8h0M601.4 340.7h0M603.1 337.4h0M546.0 304.3h0M583.7 351.9h0M509.6 314.6h0M505.8 355.0h0M623.2 293.5h0M513.8 351.3h0M591.1 293.7h0M572.9 354.6h0M600.0 343.6h0M597.6 291.7h0M541.3 303.0h0M610.0 329.1h0M616.6 318.1h0M616.3 331.3h0M603.3 334.2h0M495.4 342.8h0M628.0 288.2h0M606.4 291.9h0M495.2 333.5h0M593.1 350.1h0M498.4 315.9h0M611.0 328.9h0M597.7 341.9h0M623.3 299.2h0M621.5 300.9h0M498.6 332.8h0M495.0 322.5h0M581.5 294.4h0M592.6 344.0h0M611.6 329.0h0M586.1 349.2h0M612.5 334.1h0M586.7 352.5h0M591.8 290.7h0M576.4 295.7h0M579.7 350.1h0M585.4 296.2h0M621.7 294.8h0M588.0 296.0h0M528.9 313.8h0M609.2 352.7h0M623.0 306.5h0M506.9 342.8h0M530.9 354.0h0M526.5 313.4h0M494.4 337.4h0M558.2 362.7h0M491.5 327.0h0M592.6 347.2h0M503.8 345.1h0M606.6 347.9h0M606.2 346.9h0M609.1 294.8h0M597.8 347.6h0M621.0 303.8h0M573.3 359.3h0M497.2 316.3h0M592.5 356.4h0M575.2 296.8h0M558.5 358.9h0M560.4 364.2h0M621.1 296.8h0M607.9 295.0h0M532.0 313.0h0M498.2 315.8h0M621.3 307.0h0M540.0 302.5h0M502.0 342.4h0M561.3 359.2h0M540.4 306.9h0M530.6 355.3h0M623.7 300.3h0M610.5 324.2h0M548.8 377.7h0M591.7 364.1h0M495.3 331.5h0M517.7 352.9h0M580.2 297.3h0M617.1 314.0h0M521.0 355.3h0M553.4 357.7h0M621.6 292.4h0M535.3 311.7h0M549.1 295.9h0M496.5 333.5h0M579.3 292.8h0M618.7 295.6h0M529.4 354.2h0M508.0 352.4h0M546.3 361.2h0M642.0 317.9h0M576.7 297.5h0M622.4 298.6h0M611.2 328.8h0M607.8 335.5h0M506.8 347.6h0M608.5 329.6h0M601.5 345.7h0M527.9 316.0h0M521.4 355.0h0M625.2 348.3h0M624.6 295.1h0M624.8 296.8h0M579.7 355.0h0M545.8 360.0h0M624.2 313.7h0M497.4 328.0h0M610.0 334.8h0M565.5 295.4h0M566.9 364.1h0M564.4 360.9h0M615.1 330.2h0M632.4 302.9h0M541.6 302.3h0M585.2 351.4h0M543.1 298.2h0M561.8 296.4h0M501.4 343.0h0M502.4 315.6h0M576.7 355.4h0M554.4 361.5h0M609.2 291.9h0M613.8 319.0h0M539.3 362.3h0M605.6 332.0h0M548.6 302.3h0M623.4 284.3h0M528.2 313.2h0M587.2 347.8h0M527.5 354.3h0M623.5 300.8h0M526.4 318.9h0M573.9 353.1h0M564.2 365.1h0M560.5 363.0h0M623.1 306.6h0M525.8 358.4h0M538.3 372.4h0M615.6 295.1h0M497.3 324.6h0M626.2 299.4h0M611.4 331.1h0M623.5 322.3h0M541.7 366.8h0M598.6 340.4h0M500.9 316.7h0M543.2 359.1h0M547.8 360.9h0M628.1 299.0h0M523.4 312.8h0M596.9 341.9h0M568.3 294.9h0M643.7 347.6h0M551.2 358.7h0M552.3 298.9h0M603.7 294.2h0M568.9 357.0h0M600.5 338.3h0M502.3 348.3h0M587.6 357.9h0M611.0 330.0h0M594.7 341.9h0M500.5 317.5h0M507.8 352.9h0M615.5 295.9h0M511.6 316.1h0M555.5 363.5h0M498.4 321.9h0M547.3 300.2h0M607.7 348.0h0M525.3 352.6h0M634.0 315.6h0M623.2 320.8h0M582.1 349.1h0M610.2 328.6h0M622.7 314.0h0M497.6 319.8h0M538.7 359.5h0M597.8 346.6h0M524.5 368.0h0M571.3 356.1h0M553.3 297.8h0M625.5 316.0h0M510.0 312.0h0M502.2 317.7h0M597.3 296.6h0M577.5 351.7h0M549.9 296.1h0M579.5 293.8h0M602.9 342.9h0M497.6 341.7h0M542.2 356.3h0M577.6 297.9h0M514.9 355.0h0M566.0 357.8h0M496.4 330.7h0M594.3 342.1h0M535.9 355.4h0M554.9 298.1h0M538.4 356.2h0M640.0 312.1h0M604.6 336.5h0M568.9 358.1h0M514.7 348.4h0M629.9 295.6h0M550.6 360.8h0M613.9 321.1h0M495.6 324.1h0M564.6 361.7h0M584.3 298.0h0M537.0 309.0h0M600.5 340.0h0M512.1 348.5h0M599.3 344.8h0M587.6 296.9h0M517.7 315.3h0M562.8 361.3h0M626.5 313.7h0M518.2 316.8h0M529.3 312.7h0M638.7 333.9h0M585.5 351.3h0M553.7 361.6h0M579.9 356.1h0M498.8 354.3h0M582.6 296.4h0M555.4 297.5h0M599.4 341.6h0M506.7 352.2h0M534.8 356.9h0M594.3 295.4h0M559.4 368.5h0M513.9 316.1h0M618.7 324.1h0M606.5 346.5h0M498.3 332.2h0M497.3 327.7h0M528.3 354.1h0M549.6 358.3h0M605.9 293.5h0M606.9 334.9h0M505.0 310.0h0M531.5 358.2h0M513.0 349.8h0M595.0 294.8h0M584.1 348.5h0M621.5 320.8h0M541.9 367.5h0M619.8 296.6h0M625.7 308.8h0M536.1 310.9h0M537.7 359.9h0M613.2 327.0h0M625.0 305.0h0M605.7 331.5h0M528.2 356.8h0M605.9 343.5h0M494.4 336.9h0M496.1 320.8h0M584.8 296.3h0M622.7 308.7h0M607.3 331.4h0M498.9 336.5h0M604.5 339.3h0M503.5 349.1h0M624.3 308.2h0M564.7 295.0h0M622.7 315.4h0M607.8 327.5h0M556.9 298.0h0M578.4 363.1h0M561.8 297.1h0M621.4 300.0h0M517.6 351.3h0M533.3 357.1h0M619.5 321.6h0M527.9 357.7h0M542.3 361.6h0M518.1 315.5h0M514.5 314.5h0M635.1 301.9h0M569.8 355.2h0M539.4 306.2h0M505.7 350.3h0M552.7 297.4h0M497.5 329.6h0M623.4 294.7h0M520.6 352.5h0M624.8 311.8h0M534.9 305.4h0M587.0 347.2h0M520.6 312.9h0M566.8 358.0h0M587.7 352.9h0M523.2 316.5h0M532.8 362.6h0M580.0 355.9h0M492.7 323.3h0M528.8 353.8h0M530.3 314.8h0M515.7 352.0h0M556.6 296.5h0M620.6 296.9h0M590.3 297.2h0M580.8 349.3h0M554.3 360.0h0M519.5 316.0h0M534.2 362.4h0M586.1 350.0h0M519.3 313.8h0M509.3 359.0h0M555.3 300.4h0M507.6 316.6h0M537.5 366.2h0M588.7 348.0h0M641.6 289.2h0M515.0 354.1h0M522.3 317.7h0M567.2 357.3h0M615.4 337.0h0M499.9 316.1h0M606.6 332.6h0M622.3 316.9h0M509.1 346.5h0M540.4 304.9h0M560.7 360.4h0M494.4 329.3h0M551.5 293.4h0M551.5 359.1h0M598.1 294.2h0M607.1 290.9h0M584.4 290.1h0M495.1 334.6h0M620.5 317.9h0M540.1 359.1h0M586.0 358.2h0M612.7 326.3h0M505.4 345.3h0M496.9 337.1h0M552.3 300.6h0M633.1 301.4h0M592.1 296.2h0M541.8 356.8h0M526.6 356.8h0M568.6 295.6h0M536.7 308.4h0M599.9 344.3h0M515.3 351.9h0M542.7 305.1h0M636.0 293.8h0M561.8 361.3h0M561.3 360.5h0M586.6 349.8h0M587.9 297.6h0M494.5 324.2h0M539.7 304.2h0M525.2 316.9h0M506.4 342.8h0M560.7 296.0h0M512.2 348.0h0M520.5 316.1h0M606.0 294.0h0M562.0 298.8h0M579.1 297.7h0M523.5 352.0h0M614.3 327.1h0M623.6 296.7h0M573.4 296.2h0M617.8 313.0h0M560.0 298.6h0M609.0 295.1h0M539.6 359.2h0M620.4 313.9h0M562.6 297.3h0M503.7 343.2h0M511.4 315.6h0M552.8 296.3h0M590.2 351.9h0M572.0 295.9h0M611.7 295.0h0M538.8 305.7h0M521.5 319.0h0M582.6 350.8h0M529.9 357.6h0M624.1 298.7h0M588.4 296.4h0M548.1 364.0h0M516.7 351.2h0M511.5 348.5h0M541.8 301.1h0M544.9 361.5h0M603.6 341.8h0M535.6 309.3h0M531.2 364.1h0M571.8 356.9h0M543.5 302.1h0M506.3 314.1h0M497.1 341.9h0M528.9 317.8h0M577.2 351.4h0M501.9 316.7h0M502.1 343.1h0M533.9 354.6h0M626.3 331.5h0M579.2 358.2h0M541.3 302.6h0M639.4 310.4h0M500.5 341.2h0M609.9 331.2h0M518.1 352.9h0M572.2 293.2h0M595.0 343.6h0M536.0 308.0h0M501.2 338.2h0M608.0 328.1h0M574.9 354.6h0M541.7 307.0h0M602.8 338.2h0M561.9 294.2h0M608.9 334.1h0M514.3 350.2h0M615.5 318.5h0M560.0 358.9h0M615.4 330.6h0M622.5 308.1h0M585.7 350.4h0M523.0 353.8h0M623.5 307.4h0M627.4 302.3h0M537.8 306.1h0M595.7 352.1h0M635.0 314.5h0M558.5 366.1h0M500.5 339.8h0M500.9 316.7h0M597.6 296.7h0M609.7 293.5h0M627.0 319.4h0M609.2 326.0h0M616.8 291.5h0M542.9 357.5h0M620.0 294.2h0M566.6 294.7h0M505.6 316.6h0M498.6 333.0h0M596.1 343.1h0M527.4 314.4h0M496.5 336.7h0M551.3 299.1h0M622.5 290.9h0M632.9 282.0h0M509.1 344.3h0M522.4 315.2h0M593.4 342.6h0M621.5 307.9h0M577.8 351.4h0M572.2 294.7h0M576.0 352.2h0M526.7 354.5h0M574.8 360.8h0M577.2 355.3h0M502.1 317.8h0M530.5 314.4h0M514.2 353.1h0M533.0 364.3h0M535.0 355.9h0M495.2 335.5h0M595.2 293.2h0M524.9 354.2h0M532.6 358.7h0M594.3 291.3h0M520.7 315.1h0M517.2 315.5h0M550.0 362.0h0M590.9 344.0h0M584.4 352.2h0M518.7 318.8h0M560.0 299.0h0M553.3 297.6h0M514.8 313.4h0M614.5 319.7h0M521.4 351.8h0M525.4 354.3h0M554.4 360.1h0M601.2 359.6h0M605.4 291.7h0M559.0 296.7h0M635.0 304.4h0M516.0 354.9h0M549.8 369.9h0M498.4 340.4h0M622.4 287.1h0M495.6 318.5h0M496.2 319.9h0M532.2 357.2h0M621.2 289.6h0M584.4 348.2h0M498.4 319.3h0M500.2 339.3h0M562.8 358.7h0M610.0 328.7h0M621.1 292.7h0M591.2 346.4h0M527.9 313.8h0M546.6 299.8h0M544.1 361.5h0M622.2 311.5h0M615.9 321.6h0M530.8 314.8h0M514.7 317.8h0M568.7 295.6h0M525.4 314.4h0M583.7 296.9h0M607.5 334.9h0M496.0 327.1h0M626.3 303.8h0M622.2 318.4h0M564.5 297.8h0M551.8 361.3h0M497.3 331.7h0M545.4 304.3h0M608.4 332.4h0M560.2 358.9h0M567.6 297.5h0M534.4 313.1h0M621.5 317.6h0M541.8 306.0h0M594.5 295.2h0M575.4 358.5h0M497.9 317.3h0M622.1 291.7h0M605.0 337.0h0M495.5 329.2h0M639.4 316.7h0M496.1 331.9h0M621.3 309.4h0M536.8 306.7h0M625.3 291.4h0M554.8 300.8h0M542.7 303.3h0M495.7 327.4h0M619.8 313.8h0M573.6 292.5h0M602.5 344.5h0M497.8 339.5h0M576.2 355.7h0M562.4 361.7h0M540.6 304.7h0M625.9 317.2h0M625.9 313.8h0M544.3 304.4h0M579.2 297.2h0M571.9 362.7h0M610.3 295.2h0M568.7 360.4h0M624.0 299.0h0M543.6 305.4h0M533.2 311.7h0M547.3 356.8h0M513.6 315.7h0M582.2 352.7h0M567.8 359.7h0M592.6 347.8h0M589.9 346.6h0M499.6 341.2h0M506.8 347.4h0M555.9 297.6h0M535.7 357.6h0M634.2 310.8h0M581.6 357.5h0M577.2 354.8h0M499.3 335.3h0M598.3 346.0h0M601.2 348.2h0M615.6 321.3h0M534.7 306.1h0M619.4 333.1h0M509.3 314.0h0M571.6 292.4h0M524.2 352.1h0M534.2 311.5h0M526.6 355.7h0M586.8 347.6h0M521.4 316.3h0M600.2 344.1h0M618.4 291.3h0M508.4 351.2h0M559.2 363.2h0M629.9 305.4h0M531.4 315.9h0M553.1 371.0h0M594.8 289.6h0M617.3 322.6h0M622.7 287.6h0M631.2 308.4h0M623.2 314.9h0M498.3 332.1h0M595.0 345.0h0M491.1 322.1h0M599.2 292.7h0M629.2 303.9h0M548.1 301.4h0M539.9 358.6h0M595.6 295.9h0M507.4 315.3h0M624.2 336.1h0M511.0 352.7h0M518.9 316.6h0M545.0 356.7h0M573.4 362.0h0M501.6 310.7h0M507.5 351.0h0M541.2 358.3h0M592.3 294.5h0M616.6 295.4h0M610.1 342.5h0M588.7 297.3h0M578.7 353.1h0M505.7 346.5h0M609.5 292.8h0M576.2 353.9h0M593.9 342.8h0M549.1 300.6h0M560.6 297.0h0M628.2 298.6h0M603.8 339.1h0M510.9 345.5h0M619.1 311.7h0M601.3 367.3h0M627.2 301.7h0M495.3 329.6h0M606.2 335.2h0M542.4 362.7h0M584.3 297.4h0M558.4 360.7h0M534.4 360.1h0M596.2 296.8h0M590.4 294.0h0M575.9 293.0h0M607.6 347.2h0M577.5 295.8h0M620.1 304.7h0M529.0 316.4h0M573.9 297.3h0M557.9 295.7h0M566.9 356.1h0M595.8 344.2h0M548.3 301.8h0M601.1 343.3h0M529.2 308.2h0M560.1 368.5h0M603.0 291.8h0M623.2 301.9h0M597.2 340.4h0M577.2 297.2h0M607.9 327.7h0M495.0 322.8h0M620.8 350.2h0M593.0 344.5h0M569.7 356.0h0M616.0 331.1h0M629.0 306.9h0M618.0 314.4h0M605.2 351.7h0M560.3 368.8h0M507.5 316.4h0M504.2 316.4h0M581.2 357.2h0M525.5 317.8h0M618.5 311.0h0M562.7 358.7h0M557.9 360.5h0M622.5 316.0h0M600.6 295.1h0M562.0 292.4h0M607.7 330.0h0M624.0 299.6h0M620.5 317.3h0M561.1 298.7h0M503.6 340.2h0M598.2 340.9h0M580.3 352.4h0M518.1 317.5h0M516.3 317.8h0M499.9 341.7h0M587.2 352.6h0M623.9 294.4h0M605.7 295.6h0M505.7 343.1h0M538.7 357.0h0M621.7 295.2h0M623.8 298.0h0M504.4 350.9h0M520.8 319.0h0M549.5 298.5h0M582.7 294.8h0M592.7 342.9h0M531.5 356.6h0M585.6 297.3h0M622.6 296.9h0M622.2 287.3h0M591.6 347.0h0M614.3 318.9h0M563.2 296.1h0M617.8 326.3h0M501.0 346.0h0M552.8 300.5h0M532.3 361.9h0M631.3 324.9h0M587.9 293.7h0M618.9 317.9h0M600.9 296.7h0M535.1 359.3h0M621.0 308.8h0M495.9 334.4h0M543.7 299.8h0M597.6 295.6h0M498.3 310.8h0M514.2 348.1h0M574.1 296.5h0M536.6 304.3h0M611.4 329.6h0M606.6 289.6h0M588.0 348.3h0M521.3 351.8h0M500.3 313.7h0M607.4 291.2h0M610.7 293.6h0M583.3 297.9h0M611.6 322.8h0M584.2 351.5h0M617.4 323.0h0M545.9 301.4h0M565.0 297.7h0M531.1 357.3h0M617.3 334.8h0M615.3 321.9h0M616.2 335.7h0M621.3 292.6h0M503.6 342.3h0M501.6 349.8h0M577.8 295.1h0M625.4 331.0h0M519.6 351.8h0M558.4 360.5h0M494.8 336.7h0M579.0 353.4h0M536.6 309.0h0M617.9 321.7h0M594.5 296.6h0M500.5 337.0h0M541.8 358.5h0M513.0 315.3h0M567.5 358.8h0M581.9 289.9h0M631.6 299.5h0M511.9 351.4h0M619.3 312.4h0M622.1 312.5h0M553.3 357.8h0M554.5 297.8h0M538.3 355.1h0M564.3 298.3h0M573.5 363.8h0M603.9 294.3h0M526.3 316.3h0M554.1 357.7h0M647.7 313.7h0M566.8 360.5h0M525.4 316.8h0M560.5 298.9h0M554.6 362.5h0M498.2 341.9h0M629.1 309.2h0M614.1 292.2h0M521.8 353.1h0M507.1 344.6h0M620.0 292.4h0M607.6 345.0h0M526.6 354.4h0M634.2 314.5h0M618.5 314.0h0M605.7 335.0h0M542.8 360.3h0M600.2 347.6h0M497.1 328.2h0M587.7 294.7h0M522.7 317.4h0M610.5 294.6h0M576.6 298.2h0M559.7 295.6h0M506.7 316.9h0M542.3 300.4h0M559.0 364.2h0M607.3 328.5h0M554.9 365.8h0M560.1 298.4h0M605.5 343.8h0M515.1 310.6h0M589.2 349.0h0M630.1 309.5h0M612.7 336.0h0M582.3 355.3h0M561.8 298.8h0M587.4 349.5h0M549.7 361.4h0M500.9 344.1h0M613.6 320.9h0M547.1 361.1h0M606.4 329.1h0M622.4 304.1h0M587.2 294.4h0M584.8 297.0h0M567.2 295.9h0M567.3 359.8h0M603.0 351.5h0M502.5 345.1h0M569.1 358.9h0M559.1 298.0h0M630.3 282.0h0M605.1 290.6h0M556.9 294.2h0M590.9 346.9h0M594.0 295.1h0M494.9 330.9h0M506.0 353.3h0M608.3 292.3h0M503.2 342.0h0M616.9 339.4h0M534.8 355.5h0M599.4 342.1h0M541.0 358.5h0M600.4 341.7h0M618.6 324.5h0M555.8 360.3h0M607.6 330.2h0M537.7 309.9h0M551.5 373.2h0M525.6 352.2h0M495.9 331.0h0M506.3 316.2h0M538.3 305.7h0M494.5 329.3h0M514.2 317.3h0M582.9 354.1h0M613.0 327.0h0M611.6 321.6h0M552.8 298.9h0M579.9 351.8h0M577.0 295.2h0M616.3 294.4h0M622.5 320.7h0M497.5 329.7h0M540.2 307.3h0M592.5 347.0h0M562.2 298.8h0M556.4 295.6h0M494.2 324.0h0M617.1 295.0h0M614.2 295.2h0M617.7 316.5h0M555.0 359.7h0M490.4 326.1h0M498.6 317.0h0M562.0 358.8h0M517.8 312.9h0M500.2 317.1h0M556.4 361.5h0M567.5 359.6h0M527.2 358.9h0M600.2 296.8h0M598.2 292.8h0M537.3 306.8h0M568.3 358.7h0M563.4 357.9h0M506.2 354.5h0M622.7 303.0h0M537.7 364.9h0M507.0 316.5h0M515.0 318.2h0M535.8 310.9h0M622.7 299.6h0M586.5 355.1h0M497.3 343.6h0M609.7 292.4h0M556.1 358.6h0M521.4 350.8h0M494.3 321.8h0M508.8 348.0h0M499.7 319.9h0M498.2 320.4h0M522.0 354.8h0M616.1 321.7h0M539.0 355.9h0M619.0 291.7h0M523.6 356.0h0M577.8 358.9h0M520.6 351.3h0M641.8 304.5h0M594.7 343.3h0M584.6 297.7h0M574.4 296.6h0M523.3 360.4h0M496.5 336.7h0M612.9 336.2h0M493.1 326.5h0M494.0 318.5h0M575.1 296.9h0M621.8 321.0h0M496.6 326.3h0M543.2 300.7h0M584.0 297.9h0M568.0 356.4h0M567.9 295.8h0M597.9 343.9h0M611.8 327.0h0M547.2 302.8h0M604.2 294.5h0M489.2 326.1h0M621.0 304.0h0M554.8 298.9h0M524.0 317.7h0M557.4 297.5h0M565.1 297.4h0M553.1 358.8h0M513.1 315.2h0M627.7 331.3h0M617.3 334.5h0M549.5 297.2h0M524.3 358.3h0M618.2 315.1h0M619.2 318.2h0M497.9 341.3h0M508.8 360.8h0M580.7 292.0h0M497.7 343.8h0M537.2 356.3h0M558.2 297.3h0M598.7 340.0h0M516.9 352.9h0M530.1 357.2h0M594.9 343.0h0M617.6 316.0h0M576.5 291.1h0M590.9 294.1h0M525.7 368.4h0M537.7 307.6h0M603.2 345.8h0M578.6 356.1h0M631.8 298.1h0M582.4 351.8h0M523.2 361.4h0M571.7 295.2h0M563.9 297.1h0M611.5 324.1h0M551.0 368.8h0M535.1 357.9h0M498.2 336.3h0M623.5 328.3h0M538.8 300.4h0M528.5 357.5h0M551.6 362.1h0M497.8 323.3h0M557.1 300.2h0M537.8 356.7h0M571.9 354.2h0M496.4 320.2h0M620.5 322.4h0M502.6 314.1h0M621.5 302.4h0M614.8 321.3h0M516.7 317.2h0M514.9 350.5h0M532.0 358.8h0M621.1 312.2h0M609.4 340.0h0M513.9 318.5h0M575.1 297.3h0M508.2 344.8h0M567.0 294.9h0M620.9 303.5h0M542.2 362.2h0M508.9 347.2h0M545.3 303.9h0M503.6 341.0h0M526.8 312.4h0M577.6 294.3h0M625.0 318.2h0M604.3 338.3h0M526.5 316.8h0M557.7 295.8h0M496.9 338.9h0M511.1 351.6h0M498.9 316.9h0M546.9 360.1h0M579.2 367.9h0M596.0 356.8h0M495.1 327.9h0M501.0 339.2h0M542.7 359.9h0M622.2 325.3h0M612.3 341.3h0M545.0 365.5h0M545.8 359.5h0M534.8 361.9h0M608.7 328.0h0M515.7 316.1h0M544.2 359.9h0M521.1 359.2h0M536.3 355.8h0M526.8 363.4h0M550.6 300.6h0M562.5 361.5h0M623.0 308.1h0M525.3 316.4h0M570.9 298.7h0M624.6 300.0h0M593.5 345.9h0M518.5 350.4h0M628.0 311.7h0M620.9 300.7h0M546.0 300.7h0M587.7 360.2h0M575.1 293.0h0M602.4 341.4h0M600.1 337.1h0M532.1 357.3h0M521.9 361.0h0M618.4 316.5h0M579.1 359.6h0M534.6 307.7h0M505.1 315.6h0M618.9 310.9h0M529.0 354.3h0M594.9 346.2h0M629.1 300.2h0M520.6 316.9h0M525.6 317.9h0M629.6 308.1h0M550.6 299.1h0M581.0 349.5h0M615.7 328.7h0M501.6 362.8h0M611.4 292.4h0M531.8 310.4h0M621.8 326.9h0M564.3 368.8h0M501.4 339.6h0M504.5 342.8h0M518.1 314.0h0M622.4 314.4h0M570.2 356.7h0M524.9 355.5h0M626.2 292.6h0M493.5 322.6h0M578.1 297.1h0M506.0 347.4h0M603.8 291.9h0M582.4 351.2h0M628.7 302.0h0M607.7 333.2h0M598.9 293.9h0M590.3 346.7h0M491.7 325.0h0M520.4 357.0h0M508.0 349.3h0M499.4 337.3h0M529.3 316.2h0M578.5 296.5h0M599.8 341.1h0M595.5 346.3h0M620.1 319.3h0M611.7 325.4h0M627.2 303.4h0M612.9 294.6h0M626.2 317.8h0M574.5 297.9h0M587.1 297.3h0M622.1 317.1h0M556.0 363.0h0M524.0 316.4h0M537.9 362.9h0M558.3 364.6h0M555.0 295.1h0M626.0 301.1h0M621.8 311.6h0M621.8 319.2h0M552.3 357.4h0M512.8 347.6h0M587.5 293.7h0M617.4 287.8h0M545.4 304.0h0M538.2 308.6h0M530.9 356.5h0M609.5 326.2h0M556.5 299.6h0M587.4 347.7h0M506.5 343.4h0M629.9 307.7h0M580.8 357.7h0M532.3 356.2h0M526.4 356.9h0M547.5 300.6h0M621.0 305.7h0M562.0 358.7h0M575.9 293.6h0M556.5 296.0h0M517.4 314.4h0M521.6 318.4h0M584.6 297.7h0M495.8 324.6h0M536.4 306.5h0M602.9 290.7h0M530.1 316.9h0M493.7 335.2h0M528.2 313.2h0M586.4 351.2h0M577.6 354.6h0M527.5 357.8h0M617.5 337.6h0M591.6 291.6h0M505.6 350.9h0M619.6 309.2h0M579.1 360.6h0M540.8 304.7h0M542.8 303.8h0M509.1 310.3h0M542.9 299.3h0M501.5 340.6h0M608.4 293.2h0M595.2 295.7h0M552.3 360.3h0M604.7 355.0h0M612.1 321.5h0M615.9 322.9h0M541.3 359.3h0M573.0 297.1h0M530.7 357.6h0M499.6 335.7h0M622.8 296.9h0M614.2 335.8h0M611.6 333.2h0M573.5 359.7h0M583.8 291.4h0M501.3 318.3h0M572.6 296.7h0M590.7 348.2h0M580.0 352.2h0M573.0 360.5h0M616.3 326.9h0M565.0 298.8h0M510.4 354.3h0M489.3 324.7h0M499.3 334.9h0M563.7 358.1h0M622.9 294.9h0M583.1 295.7h0M610.0 335.1h0M556.8 299.1h0M591.3 353.1h0M535.0 311.2h0M498.5 318.4h0M523.4 358.1h0M497.6 325.8h0M505.6 342.4h0M532.6 311.2h0M581.4 294.9h0M607.4 337.1h0M584.4 293.4h0M570.7 356.3h0M576.0 293.9h0M622.6 301.1h0M614.1 323.5h0M508.9 316.5h0M612.8 330.7h0M572.0 362.2h0M576.8 354.2h0M573.8 359.3h0M616.3 321.1h0M527.1 318.3h0M613.6 320.1h0M628.5 298.6h0M491.6 333.2h0M503.8 314.9h0M540.6 303.3h0M500.6 351.0h0M609.5 295.5h0M625.7 307.3h0M576.5 360.9h0M536.7 309.4h0M639.4 299.9h0M594.1 344.2h0M500.7 318.5h0M609.1 295.6h0M611.3 322.9h0M552.5 359.0h0M623.1 320.2h0M535.5 355.5h0M497.8 323.9h0M590.5 294.2h0M552.0 358.4h0M505.2 314.2h0M502.4 345.1h0M575.7 356.3h0M541.5 299.4h0M592.1 352.1h0M619.4 318.7h0M532.7 311.8h0M608.1 352.4h0M563.2 363.8h0M618.6 318.9h0M600.5 349.5h0M604.5 343.9h0M553.4 299.4h0M557.0 358.4h0M576.1 359.0h0M499.1 340.1h0M496.0 325.5h0M502.4 317.0h0M626.0 286.3h0M604.0 340.0h0M632.9 293.9h0M536.6 356.4h0M547.0 299.0h0M607.4 345.6h0M547.0 303.1h0M583.1 296.2h0M574.7 354.4h0M493.4 321.1h0M512.1 318.1h0M575.3 294.6h0M586.5 293.9h0M547.7 298.6h0M646.7 306.5h0M567.0 358.9h0M563.9 294.4h0M581.9 352.0h0M603.1 337.6h0M591.0 344.5h0M542.0 362.2h0M528.6 311.3h0M600.9 337.1h0M622.8 302.6h0M613.0 293.1h0M539.2 305.1h0M599.0 339.7h0M610.2 339.4h0M617.1 317.3h0M615.2 324.4h0M498.0 321.6h0M533.8 311.0h0M566.3 368.8h0M514.8 318.3h0M560.8 367.6h0M587.1 292.8h0M539.0 305.5h0M622.3 280.9h0M535.3 311.8h0M621.3 308.1h0M601.6 335.8h0M513.8 314.7h0M487.3 336.8h0M594.5 343.6h0M625.2 287.8h0M623.2 304.1h0M621.1 296.2h0M494.9 325.7h0M535.0 361.4h0M511.7 349.0h0M619.2 329.0h0M567.0 295.8h0M594.1 345.8h0M615.8 292.5h0M570.8 359.4h0M595.8 341.4h0M521.1 354.2h0M512.6 348.5h0M536.6 305.8h0M605.9 290.6h0M610.6 325.8h0M577.7 356.4h0M514.9 349.2h0M611.1 324.2h0M619.2 328.9h0M624.2 314.1h0M606.7 337.4h0M612.9 344.4h0M520.2 356.6h0M604.3 333.9h0M550.1 358.2h0M495.4 337.1h0M551.0 299.6h0M600.2 336.9h0M502.6 314.8h0M564.3 295.7h0M618.9 313.2h0M530.7 308.2h0M611.4 326.3h0M492.7 332.9h0M611.1 324.9h0M577.0 297.0h0M568.3 295.5h0M523.4 318.3h0M557.7 293.4h0M624.0 325.5h0M613.4 332.4h0M554.3 367.4h0M601.3 346.0h0M498.4 340.0h0M589.4 294.8h0M616.5 324.2h0M579.2 293.7h0M618.0 316.4h0M618.8 323.6h0M625.5 311.9h0M628.3 301.8h0M540.5 358.0h0M589.4 348.6h0M589.0 297.6h0M608.2 294.3h0M584.1 348.2h0M620.7 301.6h0M517.9 350.2h0M510.7 312.0h0M613.1 328.9h0M592.7 348.8h0M527.6 316.0h0M593.5 294.7h0M598.8 296.2h0M620.8 326.2h0M594.2 350.5h0M579.7 296.5h0M589.0 352.5h0M507.9 315.9h0M578.2 351.4h0M578.0 352.6h0M536.1 356.6h0M625.6 307.3h0M635.0 312.0h0M616.0 329.0h0M605.9 333.2h0M612.5 343.0h0M513.1 313.3h0M604.9 344.3h0M494.9 333.8h0M506.0 342.4h0M620.6 327.1h0M539.6 358.7h0M553.6 299.5h0M520.3 354.0h0M608.4 353.6h0M622.0 310.8h0M600.6 336.8h0M492.8 332.7h0M624.6 318.6h0M608.7 326.3h0M616.7 314.9h0M629.9 329.1h0M554.6 300.4h0M618.0 294.4h0M537.5 310.2h0M541.0 361.8h0M627.5 320.5h0M585.0 347.7h0M623.0 300.7h0M579.1 292.2h0M575.7 354.4h0M533.4 355.8h0M569.9 357.8h0M614.5 329.3h0M568.0 292.9h0M532.5 309.2h0M571.8 294.5h0M578.0 353.3h0M569.5 297.9h0M501.8 343.4h0M619.8 311.1h0M612.1 290.8h0M604.8 338.5h0M601.9 340.8h0M538.5 355.7h0M627.1 323.7h0M547.4 300.7h0M616.3 334.8h0M592.1 289.2h0M520.1 349.7h0M538.7 303.9h0M557.9 361.3h0M625.6 285.6h0M621.9 318.8h0M618.4 320.8h0M635.2 286.3h0M624.2 291.5h0M551.7 362.9h0M497.8 313.1h0M612.3 331.3h0M524.3 352.4h0M629.0 328.9h0M626.2 322.8h0M600.4 353.0h0M562.2 357.4h0M522.9 352.8h0M521.1 314.8h0M538.1 357.1h0M544.1 360.0h0M548.2 302.6h0M617.0 314.9h0M516.5 350.3h0M533.6 310.8h0M506.4 347.7h0M523.5 317.4h0M619.9 312.4h0M524.7 314.6h0M606.1 335.1h0M590.3 346.6h0M592.8 295.4h0M583.6 353.1h0M558.4 366.4h0M495.5 312.6h0M555.9 299.6h0M592.6 292.1h0M528.0 314.6h0M536.6 361.1h0M548.2 366.4h0M548.2 297.6h0M615.5 340.2h0M615.5 329.0h0M584.8 349.2h0M603.7 338.3h0M552.6 360.0h0M580.9 295.0h0M608.6 336.0h0M620.3 322.2h0M590.9 345.9h0M518.6 318.1h0M593.3 353.3h0M583.4 293.4h0M624.6 289.9h0M567.5 361.1h0M598.7 340.9h0M585.9 351.1h0M600.4 338.9h0M552.9 361.6h0M618.1 295.6h0M638.2 292.7h0M528.3 310.8h0M550.9 360.0h0M514.1 353.4h0M577.7 296.0h0M597.9 292.8h0M495.2 331.3h0M591.0 293.8h0M592.8 345.4h0M580.3 296.7h0M616.2 318.1h0M532.6 306.7h0M598.5 340.8h0M616.4 327.2h0M492.1 336.5h0M494.6 336.8h0M512.1 355.5h0M566.7 295.5h0M526.3 356.4h0M578.3 297.0h0M601.6 351.8h0M533.8 358.8h0M513.8 318.6h0M511.7 346.6h0M533.5 311.1h0M625.0 321.9h0M504.1 317.3h0M612.4 291.6h0M567.9 296.6h0M535.9 309.9h0M525.1 357.5h0M492.9 321.8h0M620.9 323.5h0M628.3 305.8h0M614.3 329.9h0M622.5 286.8h0M578.3 293.0h0M515.8 357.5h0M616.9 333.8h0M504.4 344.8h0M515.1 365.6h0M596.5 295.1h0M522.9 356.1h0M620.5 297.8h0M600.2 339.9h0M615.4 317.9h0M624.0 343.8h0M624.5 311.4h0M582.1 297.1h0M571.8 295.2h0M596.1 294.5h0M554.4 357.5h0M517.3 315.6h0M618.7 293.5h0M526.8 318.8h0M530.6 364.5h0M535.9 310.1h0M583.6 350.1h0M556.5 298.8h0M609.9 334.5h0M580.6 296.2h0M591.1 343.7h0M516.1 351.2h0M592.6 347.7h0M616.6 293.8h0M575.7 295.6h0M496.0 334.8h0M517.9 352.5h0M514.2 349.2h0M537.2 360.1h0M550.4 362.6h0M622.4 302.0h0M621.6 306.1h0M530.9 367.7h0M520.6 318.6h0M536.5 304.3h0M625.2 327.3h0M537.8 306.0h0M618.4 292.8h0M526.3 352.6h0M623.0 328.6h0M608.7 332.3h0M620.4 294.4h0M517.5 316.5h0M508.2 348.2h0M573.0 355.4h0M526.6 313.7h0M545.8 357.6h0M559.5 294.6h0M615.1 294.7h0M609.1 334.0h0M526.5 354.4h0M556.6 299.8h0M497.0 335.2h0M492.3 322.1h0M582.5 356.7h0M541.7 298.7h0M623.1 287.0h0M498.9 334.7h0M497.7 333.8h0M513.9 315.9h0M497.7 324.2h0M627.6 313.7h0M624.9 326.5h0M553.1 358.5h0M518.9 352.2h0M499.9 316.8h0M643.7 306.1h0M566.3 358.0h0M628.1 300.3h0M604.4 334.2h0M587.3 296.2h0M596.5 296.1h0M608.0 338.2h0M553.7 357.6h0M621.9 304.4h0M605.8 343.2h0M579.3 355.6h0M625.3 319.3h0M627.4 294.8h0M534.0 312.7h0M564.9 290.9h0M589.2 297.6h0M574.3 296.8h0M564.8 361.2h0M598.4 341.4h0M544.0 301.5h0M567.1 361.1h0M514.4 353.7h0M629.8 290.2h0M592.0 346.3h0M489.9 331.4h0" stroke="#000" stroke-width="2.3" stroke-linecap="round" fill="none"/>
<path d="M531.5 291.2h0M530.8 292.7h0M525.2 299.5h0M556.2 291.1h0M590.9 284.7h0M575.4 272.7h0M545.8 299.7h0M568.7 280.1h0M581.3 269.1h0M612.0 284.0h0M616.7 278.1h0M574.2 294.7h0M560.9 270.7h0M621.5 289.1h0M597.7 289.2h0M548.1 283.1h0M521.5 309.6h0M520.7 303.4h0M514.1 303.3h0M524.1 304.7h0M601.6 286.6h0M546.6 274.3h0M550.0 272.4h0M578.9 275.3h0M556.1 275.4h0M602.3 269.7h0M522.0 300.3h0M527.0 315.7h0M595.4 276.2h0M511.3 311.5h0M522.0 314.8h0M511.2 307.1h0M580.5 276.7h0M611.7 293.7h0M537.1 302.7h0M510.3 303.5h0M503.6 314.8h0M518.5 304.4h0M513.3 299.6h0M598.7 284.1h0M522.4 314.1h0M587.5 295.9h0M535.2 286.9h0M600.9 286.2h0M506.9 301.3h0M527.9 288.1h0M583.9 272.6h0M569.9 285.1h0M595.6 270.3h0M520.9 306.1h0M502.8 310.5h0M507.2 315.6h0M595.0 280.6h0M606.7 273.0h0M570.3 275.5h0M612.1 275.9h0M546.8 278.9h0M627.5 288.2h0M554.6 289.2h0M606.0 270.4h0M508.1 305.0h0M592.0 287.5h0M603.9 270.7h0M579.3 267.3h0M536.3 304.0h0M581.5 295.7h0M550.8 300.2h0M541.4 279.5h0M550.4 284.4h0M564.7 276.5h0M531.5 304.2h0M603.5 293.1h0M508.0 311.8h0M588.7 277.7h0M542.1 279.6h0M612.2 269.0h0M621.2 294.1h0M612.1 283.6h0M547.6 269.4h0M534.2 299.1h0M514.2 304.8h0M568.7 295.0h0M559.0 294.8h0M593.6 295.8h0M607.2 266.1h0M585.0 272.0h0M536.1 306.1h0M568.9 271.5h0M555.2 299.0h0M531.2 292.2h0M622.6 284.6h0M578.0 293.8h0M529.8 313.7h0M601.1 274.6h0M549.6 288.4h0M572.8 293.0h0M497.8 310.0h0M542.1 304.0h0M507.9 303.8h0M622.3 276.9h0M545.3 297.8h0M507.3 301.8h0M515.7 308.4h0M564.4 273.2h0M620.0 272.4h0M528.6 306.6h0M627.1 290.2h0M567.1 296.8h0M585.9 268.6h0M583.9 292.4h0M607.4 294.0h0M546.5 275.7h0M620.9 289.4h0M627.0 288.7h0M620.1 290.1h0M617.4 278.7h0M598.0 295.4h0M498.4 314.9h0M560.2 286.7h0M570.3 279.9h0M526.8 301.3h0M587.3 281.1h0M547.8 276.8h0M509.6 303.9h0M561.3 272.4h0M563.5 290.1h0M536.2 297.8h0M597.0 294.3h0M617.9 283.6h0M545.2 302.5h0M557.0 295.8h0M562.1 274.6h0M596.8 275.5h0M537.1 282.3h0M616.5 283.4h0M514.1 313.3h0M563.3 285.1h0M525.2 293.2h0M600.3 273.8h0M554.2 298.4h0M533.5 297.7h0M516.6 301.2h0M539.8 290.8h0M614.7 262.8h0M564.2 288.4h0M574.8 294.4h0M509.4 309.1h0M604.0 295.0h0M611.9 273.3h0M624.3 281.1h0M528.1 305.6h0M511.4 314.5h0M553.6 295.4h0M583.2 292.1h0M518.2 314.5h0M551.8 289.4h0M503.4 313.1h0M577.9 288.3h0M609.9 286.0h0M499.9 310.1h0M540.6 290.9h0M617.1 278.3h0M581.3 278.4h0M595.9 280.3h0M539.8 303.1h0M511.7 313.7h0M580.6 289.6h0M617.0 291.3h0M587.2 294.4h0M619.0 281.1h0M544.6 283.6h0M509.8 306.0h0M589.4 271.9h0M621.3 286.6h0M608.8 259.1h0M541.0 301.7h0M574.5 286.2h0M535.5 290.4h0M627.2 279.7h0M593.0 277.2h0M527.8 300.1h0M607.7 290.3h0M571.5 277.4h0M555.1 296.1h0M568.6 277.9h0M599.9 279.0h0M551.3 295.4h0M617.4 290.9h0M529.5 311.5h0M537.8 305.8h0M615.3 274.0h0M569.7 289.9h0M560.6 281.4h0M601.8 285.5h0M541.6 302.1h0M551.6 299.9h0M627.1 288.7h0M624.8 291.7h0M499.3 310.7h0M529.6 308.5h0M552.5 280.6h0M517.6 300.3h0M510.4 299.2h0M544.0 295.9h0M577.1 288.9h0M608.2 284.0h0M534.6 293.8h0M574.1 281.1h0M563.0 288.6h0M504.5 305.9h0M625.4 289.3h0M541.2 279.6h0M551.7 285.5h0M594.6 285.0h0M576.9 261.7h0M602.7 289.7h0M518.4 300.8h0M542.3 274.5h0M567.0 288.9h0M498.6 309.5h0M563.7 288.1h0M540.8 300.0h0M607.7 268.1h0M595.2 280.3h0M604.4 285.3h0M606.2 268.4h0M541.8 303.8h0M499.7 307.4h0M600.4 288.1h0M594.4 265.4h0M591.6 286.5h0M563.2 285.5h0M498.5 312.1h0M502.4 313.9h0M618.5 276.2h0M606.7 277.3h0M534.1 308.3h0M591.3 269.6h0M509.9 312.9h0M559.4 294.1h0M519.7 308.2h0M508.1 309.1h0M500.4 315.7h0M499.6 312.1h0M563.5 294.8h0M563.3 292.1h0M498.4 313.7h0M532.3 308.3h0M612.2 279.7h0M568.6 275.1h0M617.3 291.1h0M584.8 278.9h0M615.0 261.8h0M518.7 316.8h0M563.8 287.7h0M622.1 278.6h0M515.5 314.7h0M607.5 267.7h0M538.1 295.5h0M620.6 283.7h0M499.9 316.3h0M520.6 316.1h0M561.6 271.6h0M543.0 284.6h0M560.8 277.5h0M613.6 267.0h0M614.4 279.2h0M514.6 301.5h0M505.3 315.4h0M519.4 306.8h0M500.1 310.8h0M554.7 288.0h0M544.2 288.5h0M628.0 278.7h0M609.4 261.8h0M611.7 291.8h0M511.0 312.5h0M548.5 292.6h0M557.3 282.4h0M624.5 274.7h0M588.0 280.0h0M510.2 316.6h0M616.8 273.9h0M529.7 314.3h0M589.4 289.5h0M501.6 309.5h0M566.8 297.2h0M627.4 286.0h0M578.0 284.9h0M548.5 270.7h0M552.3 299.9h0M535.0 310.2h0M523.2 317.0h0M608.0 281.4h0M502.1 315.7h0M504.2 310.2h0M598.5 281.9h0M616.6 281.3h0M547.1 285.3h0M626.4 284.4h0M554.6 280.4h0M603.8 289.1h0M557.6 281.8h0M598.1 272.3h0M616.1 286.6h0M609.8 264.9h0M555.4 282.9h0M579.0 279.6h0M556.2 281.1h0M621.4 289.8h0M570.0 284.9h0M532.1 312.7h0M501.0 313.6h0M525.6 308.5h0M570.0 297.2h0M559.2 290.0h0M510.7 315.8h0M622.5 280.9h0M608.8 278.7h0M571.0 279.2h0M577.6 274.7h0M579.6 268.9h0M498.1 316.3h0M602.4 284.1h0M568.5 278.1h0M601.8 267.7h0M617.6 279.9h0M519.8 310.0h0M577.7 293.2h0M590.1 278.3h0M538.1 280.7h0M508.4 300.0h0M624.0 283.4h0M570.7 277.2h0M624.8 280.5h0M584.5 272.3h0M574.2 269.5h0M626.4 292.0h0M510.4 313.7h0M589.7 279.2h0M599.8 280.7h0M508.9 302.2h0M598.1 268.2h0M576.4 261.4h0M569.5 290.4h0M612.6 284.0h0M547.8 267.6h0M546.9 285.7h0M578.6 265.9h0M607.1 284.7h0M596.5 285.5h0M565.5 273.4h0M538.4 295.6h0M586.8 289.4h0M569.4 288.6h0M588.7 295.3h0M597.8 271.5h0M542.4 302.1h0M514.8 311.0h0M574.6 268.5h0M502.9 304.3h0M623.9 287.0h0M597.6 292.0h0M509.9 304.8h0M573.3 297.1h0M588.2 278.0h0M551.9 294.9h0M507.9 312.8h0M567.4 296.0h0M615.6 269.1h0M550.8 276.8h0M508.6 315.4h0M616.7 293.6h0M621.4 289.7h0M500.7 309.9h0M519.5 303.6h0M612.8 287.3h0M593.2 273.0h0M553.6 278.7h0M615.9 280.5h0M612.5 283.9h0M574.4 264.7h0M531.3 302.9h0M555.5 297.7h0M511.6 299.3h0M545.1 286.4h0M604.7 271.9h0M596.2 279.8h0M575.4 275.2h0M516.7 300.5h0M592.3 295.5h0M525.8 294.4h0M570.6 296.8h0M545.9 295.0h0M579.2 294.0h0M512.8 298.7h0M517.3 313.9h0M601.4 287.1h0M604.7 272.0h0M499.5 308.1h0M529.1 290.3h0M532.4 287.9h0M518.9 314.8h0M552.6 294.0h0M525.7 311.9h0M600.5 291.3h0M559.1 272.5h0M613.1 274.3h0M527.0 305.7h0M622.5 291.5h0M522.6 309.6h0M551.6 282.3h0M511.6 305.3h0M540.2 296.5h0M547.6 298.7h0M530.3 313.6h0M540.3 305.5h0M565.5 280.5h0M600.2 295.3h0M509.1 315.0h0M544.3 295.9h0M600.6 291.0h0M582.1 294.4h0M551.1 292.4h0M579.1 274.5h0M594.6 295.4h0M510.9 309.9h0M500.3 308.1h0M510.4 303.9h0M505.8 306.1h0M611.4 260.6h0M607.7 279.6h0M599.6 274.1h0M553.2 278.2h0M598.0 273.1h0M558.5 281.6h0M571.2 272.1h0M622.6 294.0h0M604.5 276.3h0M586.5 296.3h0M563.0 288.1h0M564.8 285.8h0M605.1 277.4h0M619.2 281.9h0M573.3 272.2h0M612.6 278.5h0M588.1 285.4h0M545.8 277.9h0M531.9 308.8h0M563.2 278.4h0M514.3 312.5h0M516.3 316.1h0M578.5 291.4h0M549.4 294.3h0M575.1 261.2h0M584.2 293.1h0M504.7 301.6h0M611.7 292.2h0M625.9 285.3h0M569.5 285.2h0M561.8 281.7h0M619.4 285.3h0M585.9 276.5h0M593.0 282.0h0M621.5 284.8h0M521.8 300.8h0M533.1 292.0h0M575.9 289.8h0M509.9 315.8h0M579.1 283.9h0M623.4 289.7h0M523.0 316.8h0M514.4 298.5h0M525.7 306.7h0M588.2 282.3h0M598.4 282.0h0M576.0 259.8h0M540.0 288.3h0M524.6 304.1h0M595.7 278.6h0M548.6 287.2h0M610.1 276.0h0M570.0 292.5h0M508.5 308.7h0M547.0 294.7h0M583.8 296.5h0M506.7 301.6h0M622.2 282.4h0M513.3 301.9h0M609.1 286.0h0M616.8 287.2h0M497.9 316.4h0M587.6 292.0h0M500.3 306.8h0M539.3 300.5h0M536.3 303.1h0M583.1 292.2h0M571.3 293.5h0M524.4 302.1h0M527.1 298.4h0M497.3 312.3h0M596.4 275.6h0M518.4 303.9h0M541.1 298.4h0M516.8 311.2h0M609.2 293.3h0M499.5 308.3h0M615.8 270.1h0M571.1 273.9h0M625.9 294.4h0M550.9 297.1h0M613.1 258.4h0M625.9 284.2h0M621.9 281.0h0M519.6 298.9h0M577.0 286.8h0M566.6 296.9h0M593.3 279.4h0M505.5 312.9h0M511.4 297.4h0M521.7 300.9h0M520.7 314.1h0M594.9 264.9h0M515.3 305.6h0M513.2 309.1h0M499.2 309.2h0M550.1 291.2h0M583.3 294.9h0M526.5 295.7h0M518.9 310.0h0M593.1 293.5h0M503.8 312.0h0M507.3 304.5h0M624.2 280.3h0M558.3 280.0h0M588.1 286.3h0M511.4 312.0h0M564.7 290.7h0M580.3 283.5h0M596.3 269.4h0M560.9 292.4h0M607.0 294.3h0M564.8 295.6h0M552.2 283.9h0M547.9 301.5h0M614.4 283.1h0M588.5 285.7h0M574.2 293.7h0M605.2 278.9h0M542.9 293.4h0M570.5 278.0h0M615.8 275.8h0M531.8 294.8h0M506.3 306.9h0M622.8 285.6h0M537.7 301.1h0M595.6 271.4h0M578.0 289.7h0M583.9 293.2h0M596.7 290.5h0M515.8 316.7h0M512.6 315.3h0M605.0 270.5h0M550.4 295.6h0M532.1 292.3h0M577.2 271.6h0M534.1 292.0h0M555.8 297.0h0M593.1 280.2h0M556.6 292.9h0M545.6 280.8h0M578.6 275.6h0M497.3 318.7h0M502.2 306.5h0M497.7 317.2h0M588.4 291.9h0M530.2 301.4h0M569.9 289.4h0M507.0 303.4h0M531.0 313.2h0M504.3 300.7h0M603.4 272.0h0M538.7 298.4h0M621.4 290.1h0M532.2 302.5h0M507.7 303.2h0M543.5 301.9h0M603.2 278.5h0M506.8 305.0h0M577.4 289.6h0M583.3 288.8h0M590.0 294.2h0M521.8 313.8h0M579.1 294.5h0M543.7 270.1h0M524.3 300.7h0M581.1 283.2h0M620.9 279.0h0M601.6 291.1h0M523.2 297.4h0M543.9 282.4h0M587.7 295.2h0M524.4 314.8h0M516.5 312.5h0M551.3 299.5h0M581.5 263.4h0M584.3 296.4h0M555.1 285.3h0M582.5 279.3h0M579.1 285.8h0M571.5 295.5h0M622.3 272.9h0M621.3 285.4h0M517.1 313.5h0M509.2 314.2h0M543.2 287.5h0M503.5 315.9h0M606.9 288.7h0M589.0 275.4h0M625.0 280.5h0M556.6 279.6h0M566.7 287.4h0M538.7 281.2h0M548.0 282.8h0M581.4 282.8h0M576.5 287.1h0M583.4 282.8h0M529.6 308.1h0M516.3 317.0h0M589.0 292.2h0M566.1 292.1h0M508.9 314.2h0M587.9 286.3h0M498.3 315.5h0M617.9 291.2h0M602.6 270.0h0M600.1 281.6h0M553.7 275.3h0M617.2 292.0h0M613.2 265.6h0M531.7 311.9h0M592.0 282.5h0M559.6 281.8h0M510.7 310.3h0M601.7 287.8h0M508.3 302.8h0M509.5 301.8h0M518.7 313.1h0M516.9 310.3h0M516.4 310.6h0M557.3 289.2h0M623.5 292.1h0M597.6 278.0h0M521.5 310.6h0M566.5 281.4h0M497.4 316.7h0M550.1 272.9h0M534.7 304.6h0M524.5 314.0h0M627.0 286.1h0M529.0 300.4h0M583.0 285.0h0M580.5 266.6h0M576.0 277.3h0M503.6 301.4h0M597.8 292.7h0M583.9 283.1h0M552.7 296.9h0M603.0 272.7h0M616.9 282.3h0M574.3 290.2h0M532.8 301.7h0M546.7 277.8h0M593.3 290.9h0M601.9 285.7h0M627.0 294.0h0M516.5 300.1h0M509.4 307.7h0M518.3 316.8h0M550.6 289.5h0M540.6 295.4h0M610.4 291.1h0M613.8 268.2h0M590.0 293.7h0M524.8 316.7h0M542.1 285.6h0M585.9 296.4h0M565.1 274.0h0M584.6 282.1h0M591.4 290.4h0M627.2 286.2h0M586.7 288.3h0M605.7 271.3h0M618.4 277.7h0M528.8 300.0h0M554.3 291.5h0M608.4 275.6h0M554.5 297.1h0M522.6 317.7h0M552.8 285.8h0M577.6 283.5h0M620.1 277.9h0M618.8 278.6h0M617.2 271.0h0M555.2 280.4h0M506.6 303.8h0M581.6 286.0h0M550.3 278.9h0M602.1 294.0h0M550.8 300.2h0M531.8 302.9h0M617.1 274.1h0M563.5 271.5h0M568.4 284.1h0M557.1 278.7h0M620.3 288.6h0M579.7 280.1h0M529.6 287.9h0M590.3 294.5h0M609.2 264.9h0M587.0 279.9h0M513.6 305.9h0M542.2 282.3h0M522.8 297.4h0M581.6 294.2h0M605.1 264.5h0M511.0 301.9h0M524.1 305.9h0M533.8 294.7h0M511.8 299.8h0M617.3 276.6h0M611.4 283.8h0M597.4 287.5h0M609.1 280.1h0M624.2 292.4h0M504.3 302.7h0M567.9 270.4h0M585.7 282.3h0M578.1 295.5h0M548.4 287.1h0M541.6 303.9h0M582.3 285.2h0M599.0 291.0h0M559.1 269.4h0M507.9 307.1h0M627.6 277.7h0M553.2 294.1h0M519.5 317.4h0M572.8 283.8h0M516.2 316.6h0M545.8 282.3h0M555.8 276.4h0M557.1 298.6h0M554.9 298.4h0M526.2 309.2h0M552.7 286.2h0M611.9 264.9h0M600.9 277.2h0M610.6 278.5h0M617.0 280.1h0M542.0 302.2h0M610.6 273.0h0M562.1 280.7h0M546.4 294.6h0M499.7 306.1h0M558.2 290.2h0M572.7 280.8h0M497.1 315.9h0M627.4 288.9h0M580.7 273.5h0M551.4 288.7h0M511.8 302.2h0M550.7 299.6h0M612.5 291.0h0M501.6 315.0h0M623.1 282.4h0M609.2 294.5h0M589.8 278.8h0M585.1 290.5h0M579.5 263.1h0M540.5 302.5h0M519.5 302.4h0M507.4 316.0h0M545.3 275.5h0M522.8 311.5h0M549.3 295.5h0M577.1 269.4h0M564.2 272.9h0M627.4 286.7h0M518.3 311.4h0M618.2 294.3h0M588.6 276.3h0M589.1 286.4h0M577.2 288.4h0M505.3 307.8h0M623.1 294.5h0M570.8 289.9h0M504.3 307.7h0M525.2 314.6h0M529.6 306.2h0M551.9 290.5h0M548.3 287.0h0M513.2 317.1h0M544.6 279.8h0M608.6 284.9h0M514.4 308.9h0M626.5 275.3h0M603.7 283.8h0M531.2 300.9h0M610.2 271.9h0M592.6 288.1h0M539.1 285.9h0M583.7 276.3h0M578.7 278.2h0M606.1 277.7h0M515.3 314.9h0M573.5 296.5h0M620.9 283.5h0M522.7 304.8h0M517.4 317.4h0M541.1 294.8h0M558.5 292.5h0M612.4 279.4h0M507.1 313.0h0M594.0 290.3h0M542.5 288.6h0M497.2 318.9h0M549.4 300.6h0M625.7 287.0h0M501.6 311.4h0M566.0 277.4h0M592.7 284.9h0M589.7 285.6h0M582.2 278.9h0M524.3 312.0h0M576.7 296.7h0M563.0 285.1h0M566.7 288.7h0M498.5 315.4h0M519.7 307.6h0M575.2 271.2h0M537.1 305.3h0M514.3 308.8h0M613.0 286.5h0M504.6 316.7h0M597.1 288.1h0M612.8 289.8h0M595.9 292.9h0M514.9 303.0h0M624.2 293.6h0M550.5 277.3h0M563.5 272.6h0M542.7 301.2h0M525.4 292.0h0M523.0 315.3h0M519.3 302.1h0M573.5 265.1h0M549.5 284.8h0M587.7 283.7h0M513.8 316.0h0M562.9 276.5h0M532.0 288.1h0M526.3 299.9h0M525.3 312.0h0M595.8 288.0h0M589.3 276.2h0M519.8 314.6h0M514.2 312.7h0M605.1 279.0h0M532.2 297.5h0M566.1 285.7h0M556.6 274.3h0M544.4 282.9h0M563.1 268.1h0M512.5 306.6h0M547.1 296.6h0M576.5 295.5h0M518.9 306.5h0M519.0 316.2h0M513.2 305.7h0M524.0 299.3h0M611.4 291.6h0M497.3 312.1h0M558.7 273.5h0M611.9 269.4h0M617.7 283.3h0M511.4 302.8h0M533.5 290.3h0M531.3 302.9h0M534.5 310.3h0M568.0 292.1h0M552.4 285.5h0M627.0 293.9h0M546.3 298.6h0M567.7 294.0h0M568.7 296.0h0M593.2 283.7h0M556.0 289.0h0M510.2 305.6h0M527.2 298.3h0M584.0 289.4h0M520.1 305.4h0M517.0 313.0h0M521.8 304.9h0M524.0 301.7h0M544.6 303.2h0M502.7 303.2h0M598.3 287.0h0M540.6 305.1h0M524.0 317.0h0M601.4 290.8h0M559.0 291.9h0M613.4 267.9h0M532.4 311.3h0M527.8 315.5h0M515.6 315.9h0M582.9 286.5h0M603.9 286.1h0M568.2 294.4h0M553.0 296.6h0M613.0 275.1h0M514.0 305.9h0M581.5 292.1h0M526.3 317.0h0M581.0 266.5h0M594.2 282.6h0M549.4 295.0h0M558.5 282.9h0M615.4 280.7h0M556.1 286.9h0M596.6 285.6h0M523.5 307.2h0M499.1 314.7h0M594.3 268.4h0M604.0 293.2h0M557.7 282.8h0M535.7 299.2h0M605.9 272.9h0M576.7 286.4h0M617.7 291.0h0M534.6 309.8h0M577.3 293.2h0M597.6 263.8h0M595.7 266.8h0M594.7 272.8h0M549.4 276.6h0M609.4 268.5h0M504.0 308.3h0M511.8 313.5h0M622.2 294.0h0M540.4 301.2h0M517.5 308.4h0M508.0 300.2h0M517.2 300.9h0M559.0 297.1h0M542.9 273.7h0M624.1 293.0h0M497.1 317.3h0M500.5 312.8h0M589.4 276.2h0M603.4 288.2h0M578.4 287.2h0M497.4 312.9h0M624.4 277.7h0M607.3 283.1h0M540.0 281.4h0M571.0 276.3h0M626.1 291.1h0M595.6 292.9h0M530.4 308.1h0M520.9 309.0h0M587.3 291.1h0M602.0 293.3h0M539.2 288.4h0M563.0 275.5h0M587.6 293.3h0M622.7 276.8h0M539.4 278.7h0M558.2 296.5h0M531.8 303.7h0M588.1 287.0h0M522.3 295.0h0M576.0 295.8h0M522.6 311.6h0M520.3 314.2h0M595.9 291.3h0M607.0 278.1h0M614.1 265.1h0M607.2 274.3h0M554.8 277.7h0M546.2 302.3h0M606.1 276.1h0M601.8 281.2h0M557.1 276.5h0M596.0 293.0h0M556.9 297.1h0M498.7 310.2h0M590.3 270.9h0M627.8 277.4h0M623.5 275.5h0M580.6 265.6h0M561.7 258.4h0M607.6 273.8h0M582.1 257.8h0M628.7 263.5h0M625.7 276.5h0M595.7 266.5h0M574.9 274.2h0M572.0 258.8h0M503.5 298.3h0M611.2 271.8h0M618.0 269.5h0M618.6 276.9h0M591.4 269.3h0M614.6 255.1h0M614.8 254.0h0M557.1 264.1h0M576.2 270.6h0M561.9 281.7h0M528.2 298.5h0M515.1 298.4h0M556.2 267.4h0M575.2 259.7h0M591.5 271.0h0M585.0 256.9h0M586.9 261.4h0M564.9 280.9h0M507.4 294.3h0M530.9 292.8h0M594.7 275.2h0M577.2 267.2h0M558.4 265.6h0M606.3 267.8h0M513.1 300.9h0M599.9 280.4h0M595.9 256.6h0M591.7 267.8h0M579.7 255.0h0M627.6 276.0h0M590.6 256.3h0M599.0 254.2h0M627.1 263.3h0M608.9 272.1h0M568.7 260.3h0M518.0 302.5h0M638.0 275.7h0M562.6 281.0h0M602.0 275.3h0M619.2 275.5h0M539.4 287.9h0M586.0 262.7h0M618.3 268.7h0M546.6 277.1h0M534.5 296.1h0M555.6 268.4h0M605.8 354.0h0M543.8 375.3h0M543.8 368.5h0M571.2 378.5h0M544.4 373.8h0M515.4 368.8h0M587.6 373.4h0M588.1 362.4h0M599.2 357.8h0M595.0 355.5h0M560.6 374.4h0M585.5 358.3h0M528.7 367.8h0M552.4 361.7h0M573.4 363.5h0M556.8 371.0h0M600.2 382.8h0M557.3 376.1h0M537.1 365.7h0M588.2 372.5h0M592.9 371.0h0M559.1 372.3h0M554.7 374.1h0M555.5 386.7h0M571.1 386.1h0M531.7 384.0h0M520.4 359.1h0M582.1 375.1h0M525.3 356.7h0M599.5 361.8h0M577.2 367.0h0M579.9 367.9h0M550.6 381.9h0M534.0 370.5h0M536.6 370.9h0M522.4 375.2h0M597.4 373.1h0M586.6 363.5h0M538.2 360.4h0M598.7 356.0h0M549.9 368.6h0M571.8 362.1h0M594.2 359.7h0M528.3 356.3h0M520.8 358.5h0M570.7 366.9h0M559.3 366.9h0M525.5 366.0h0M580.4 360.5h0M577.5 361.4h0M530.2 364.5h0M524.6 366.9h0M572.9 371.7h0M573.4 364.9h0M558.7 368.1h0M521.6 367.0h0M576.5 362.2h0M542.4 359.3h0M523.6 357.6h0M627.6 241.6h0M634.2 240.8h0M636.5 248.0h0M627.2 250.6h0M596.9 238.8h0M680.6 247.7h0M649.7 259.1h0M641.3 262.7h0M590.8 258.2h0M585.8 264.7h0M635.6 270.8h0M642.1 276.9h0M635.6 279.2h0M631.4 284.5h0M546.0 256.0h0M515.0 281.0h0M505.0 275.0h0" stroke="#eb1e41" stroke-width="2.3" stroke-linecap="round" fill="none"/>
<path d="M594.9 293.3h0M614.5 290.2h0M565.9 294.4h0M599.5 291.5h0M561.0 292.4h0M548.2 299.1h0M610.1 288.0h0M591.3 289.2h0M613.0 291.3h0M614.5 285.5h0M615.7 289.1h0M550.7 294.2h0M583.8 294.4h0M559.7 294.9h0M568.1 288.4h0M561.2 291.6h0M558.4 294.6h0M577.7 293.3h0M610.6 290.1h0M544.3 297.9h0M543.5 292.9h0M562.6 294.5h0M602.4 292.9h0M560.3 288.6h0M569.7 293.1h0M612.1 287.0h0M551.9 291.1h0M594.7 289.2h0M591.4 292.3h0M586.5 292.5h0M615.1 291.1h0M570.2 294.3h0M602.3 288.4h0M587.7 292.8h0M585.8 286.2h0M623.4 281.5h0M598.8 288.1h0M604.2 281.1h0M626.4 287.8h0M586.1 289.9h0M627.8 287.7h0M615.8 290.2h0M582.7 292.9h0M629.6 293.0h0M603.9 293.4h0M623.4 291.0h0M609.3 291.2h0M610.7 281.8h0M582.1 288.8h0M578.4 293.8h0M620.9 288.1h0M589.7 277.1h0M609.9 282.2h0M627.4 289.0h0M596.1 288.7h0M625.9 286.3h0M602.8 290.5h0M627.4 283.6h0M620.4 290.6h0M615.1 291.8h0M627.8 291.0h0M598.2 287.1h0M602.9 292.6h0M600.6 287.2h0M606.9 282.8h0M584.0 287.5h0M619.7 293.0h0M616.6 291.2h0M629.9 281.2h0M616.8 280.5h0M600.7 285.8h0M581.9 294.1h0M593.3 293.6h0M605.1 284.7h0M621.9 293.4h0M596.5 288.8h0M589.1 284.7h0M619.2 285.6h0M581.5 286.1h0M610.0 284.7h0M596.2 286.2h0M603.0 283.3h0M591.1 293.9h0M600.9 279.2h0M596.0 293.2h0M586.4 290.2h0M627.7 288.9h0M603.9 292.2h0M613.7 286.3h0M608.8 290.7h0M604.6 288.8h0M620.6 290.4h0M605.5 289.7h0M600.7 283.0h0M578.2 289.3h0M611.0 292.0h0M627.4 292.9h0M601.7 276.0h0M622.5 281.1h0M625.3 288.6h0M593.8 294.8h0M614.5 288.3h0M581.2 291.3h0M631.8 284.1h0M599.4 292.3h0M555.5 297.6h0M590.8 293.2h0M540.6 303.7h0M560.3 288.4h0M533.4 307.7h0M586.6 294.7h0M559.0 289.5h0M558.5 284.8h0M576.0 294.4h0M541.4 302.4h0M563.0 296.4h0M556.2 290.0h0M550.4 293.4h0M557.1 288.7h0M565.8 291.7h0M579.3 295.0h0M537.2 297.2h0M558.4 289.9h0M588.5 292.7h0M547.8 297.2h0M538.9 297.4h0M575.9 295.6h0M556.4 292.9h0M553.7 296.6h0M565.1 289.9h0M554.6 289.9h0M593.8 294.0h0M584.5 295.4h0M537.5 304.9h0M569.8 292.9h0M536.5 299.6h0M553.6 295.2h0M586.8 293.1h0M574.9 291.1h0M593.7 293.0h0M574.6 288.0h0M555.1 295.9h0M584.6 294.7h0M539.0 300.2h0M534.8 297.4h0M553.7 291.7h0M581.9 290.3h0M568.4 294.0h0M556.5 297.3h0M595.0 292.4h0M554.7 295.0h0M598.5 290.9h0M597.7 287.2h0M585.0 289.6h0M551.2 298.8h0M538.4 304.1h0M530.9 302.8h0M550.1 286.7h0M585.5 289.8h0M539.5 304.0h0M540.8 292.6h0M534.7 304.9h0M579.0 294.7h0M593.2 282.3h0M541.8 298.2h0M584.1 288.8h0M579.4 293.4h0M591.3 282.2h0M540.7 300.3h0M575.2 289.1h0M567.6 296.2h0M545.8 295.2h0M535.5 303.8h0M537.3 295.6h0M561.9 292.8h0M566.1 284.2h0M586.8 285.6h0M558.0 290.5h0M545.7 300.9h0M577.6 288.5h0M595.0 290.6h0M586.6 292.3h0M545.2 300.3h0M552.8 295.7h0M561.5 291.0h0M639.0 289.8h0M638.6 294.4h0M638.3 301.2h0M643.6 301.7h0M639.5 309.6h0M492.0 330.0h0M487.0 326.0h0M490.0 343.0h0" stroke="#000" stroke-width="2.3" stroke-linecap="round" fill="none"/>
<rect x="482.4" y="231.4" width="200.30000000000007" height="167.1" fill="none" stroke="#a8a8a8" stroke-width="1.4"/>
<circle cx="490.4" cy="239.3" r="3" fill="#ff1010"/><circle cx="490.4" cy="258.6" r="3" fill="#000"/>
<text x="495.8" y="243.9" font-size="12.5" letter-spacing="-0.3">P<tspan font-size="8.2" dy="4.5">adj</tspan><tspan dy="-4.5">&lt;0.001</tspan></text>
<text x="495.8" y="263.2" font-size="12.5" letter-spacing="-0.3">P<tspan font-size="8.2" dy="4.5">adj</tspan><tspan dy="-4.5">&#8805;0.001</tspan></text>
<text x="605.0" y="256.3" font-size="13.3" fill="#000" stroke="#000" stroke-width="0.1" text-anchor="middle">G6</text>
<text x="669.1" y="277.3" font-size="13.3" fill="#000" stroke="#000" stroke-width="0.1" text-anchor="middle">G4</text>
<path d="M615.2 251L624.9 243.4M671.8 268.5L678.6 251" stroke="#000" stroke-width="0.8"/>
<text x="-1.5" y="447.4" font-size="22.5" fill="#000" stroke="#000" stroke-width="0.2" font-weight="bold">f</text>
<text x="54.8" y="455.9" font-size="16" fill="#000" stroke="#000" stroke-width="0.2" font-weight="bold">Enrichment by gRNA</text>
<path d="M33.8 620.4H36.8M35.0 613.0H36.8M35.0 605.7H36.8M35.0 598.4H36.8M33.8 591.0H36.8M35.0 583.6H36.8M35.0 576.3H36.8M35.0 568.9H36.8M33.8 561.6H36.8M35.0 554.2H36.8M35.0 546.9H36.8M35.0 539.5H36.8M33.8 532.2H36.8M35.0 524.9H36.8M35.0 517.5H36.8M35.0 510.1H36.8M33.8 502.8H36.8M35.0 495.4H36.8M35.0 488.1H36.8M35.0 480.8H36.8M33.8 473.4H36.8M35.0 466.0H36.8M43.1 624.0V626.2M61.5 624.0V625.5M79.9 624.0V626.2M98.3 624.0V625.5M116.7 624.0V626.2M135.1 624.0V625.5M153.5 624.0V626.2M171.9 624.0V625.5M190.3 624.0V626.2M208.7 624.0V625.5M227.1 624.0V626.2" stroke="#a8a8a8" stroke-width="0.9"/>
<text x="30.9" y="624.8" font-size="13.0" fill="#000" stroke="#000" stroke-width="0.1" text-anchor="end">0</text>
<text x="30.9" y="595.4" font-size="13.0" fill="#000" stroke="#000" stroke-width="0.1" text-anchor="end">4</text>
<text x="30.9" y="566.0" font-size="13.0" fill="#000" stroke="#000" stroke-width="0.1" text-anchor="end">8</text>
<text x="30.9" y="536.6" font-size="13.0" fill="#000" stroke="#000" stroke-width="0.1" text-anchor="end">12</text>
<text x="30.9" y="507.19999999999993" font-size="13.0" fill="#000" stroke="#000" stroke-width="0.1" text-anchor="end">16</text>
<text x="30.9" y="477.79999999999995" font-size="13.0" fill="#000" stroke="#000" stroke-width="0.1" text-anchor="end">20</text>
<text x="43.1" y="637.5" font-size="13.0" fill="#000" stroke="#000" stroke-width="0.1" text-anchor="middle">0</text>
<text x="79.91" y="637.5" font-size="13.0" fill="#000" stroke="#000" stroke-width="0.1" text-anchor="middle">3</text>
<text x="116.72" y="637.5" font-size="13.0" fill="#000" stroke="#000" stroke-width="0.1" text-anchor="middle">6</text>
<text x="153.53" y="637.5" font-size="13.0" fill="#000" stroke="#000" stroke-width="0.1" text-anchor="middle">9</text>
<text x="190.34" y="637.5" font-size="13.0" fill="#000" stroke="#000" stroke-width="0.1" text-anchor="middle">12</text>
<text x="227.14999999999998" y="637.5" font-size="13.0" fill="#000" stroke="#000" stroke-width="0.1" text-anchor="middle">15</text>
<text x="131.6" y="652.9" font-size="16.1" fill="#000" stroke="#000" stroke-width="0.35" text-anchor="middle">P-value Rank (x 1000)</text>
<text x="14.0" y="546" font-size="16" stroke="#000" stroke-width="0.35" text-anchor="middle" transform="rotate(-90 14.0 546)">-log<tspan font-size="11" dy="3.5">10</tspan><tspan dy="-3.5">(P-value)</tspan></text>
<path d="M43.30 571.20C43.35 572.67 43.43 577.33 43.60 580.00C43.77 582.67 43.73 584.93 44.30 587.20C44.87 589.47 45.72 591.77 47.00 593.60C48.28 595.43 50.00 596.87 52.00 598.20C54.00 599.53 57.83 601.03 59.00 601.60" stroke="#a9a9a9" stroke-width="2.0" fill="none" stroke-linecap="round"/>
<path d="M52.00 598.20C53.17 598.77 56.00 600.47 59.00 601.60C62.00 602.73 66.27 603.98 70.00 605.00C73.73 606.02 77.23 606.72 81.40 607.70C85.57 608.68 91.13 610.22 95.00 610.90C98.87 611.58 100.98 611.37 104.60 611.80C108.22 612.23 111.97 612.88 116.70 613.50C121.43 614.12 127.37 614.92 133.00 615.50C138.63 616.08 143.13 616.50 150.50 617.00C157.87 617.50 169.10 618.05 177.20 618.50C185.30 618.95 190.30 619.35 199.10 619.70C207.90 620.05 224.85 620.45 230.00 620.60" stroke="#a9a9a9" stroke-width="2.8" fill="none" stroke-linecap="round"/>
<path d="M43.3 533.9h0M43.3 544.0h0M43.3 545.6h0M43.3 553.6h0M43.3 556.8h0M43.3 559.0h0M43.3 561.5h0M43.3 564.0h0M43.3 566.5h0M43.3 568.5h0M43.3 506.8h0" stroke="#a8a8a8" stroke-width="2.0" stroke-linecap="round" fill="none"/>
<g fill="#000"><circle cx="43.3" cy="468.4" r="2.2"/><circle cx="43.3" cy="503.7" r="2.2"/><circle cx="81.7" cy="607.9" r="2.2"/><circle cx="104.6" cy="611.8" r="2.2"/><circle cx="107.9" cy="612.2" r="2.2"/><circle cx="116.7" cy="613.5" r="2.2"/><circle cx="150.5" cy="617.0" r="2.2"/><circle cx="177.2" cy="618.5" r="2.2"/><circle cx="199.1" cy="619.7" r="2.2"/></g>
<path d="M50.8 469L80.4 476.6" stroke="#0e9df7" stroke-width="1.4" stroke-dasharray="1.4 1.2" fill="none"/>
<path d="M49.7 504.4L80.4 511.3" stroke="#0e9df7" stroke-width="1.4" stroke-dasharray="1.4 1.2" fill="none"/>
<text x="88.4" y="484.8" font-size="15.3" fill="#0e9df7" stroke="#0e9df7" stroke-width="0.35">GATA6</text>
<text x="88.4" y="519.5" font-size="15.3" fill="#0e9df7" stroke="#0e9df7" stroke-width="0.35">GATA4</text>
<text x="110.8" y="570.1" font-size="16.0" fill="#0e9df7" stroke="#0e9df7" stroke-width="0.35">Neg. Ctrl</text>
<path d="M115 572.9L85 600.5" stroke="#0e9df7" stroke-width="1.4" stroke-dasharray="1.4 1.2" fill="none"/>
<path d="M123 575.3L108.3 604.5" stroke="#0e9df7" stroke-width="1.4" stroke-dasharray="1.4 1.2" fill="none"/>
<path d="M126 575.9L112.1 605.1" stroke="#0e9df7" stroke-width="1.4" stroke-dasharray="1.4 1.2" fill="none"/>
<path d="M132.3 578.4L118.8 605.5" stroke="#0e9df7" stroke-width="1.4" stroke-dasharray="1.4 1.2" fill="none"/>
<path d="M149.4 578.4L150.5 608.7" stroke="#0e9df7" stroke-width="1.4" stroke-dasharray="1.4 1.2" fill="none"/>
<path d="M161.1 578L173.4 609.3" stroke="#0e9df7" stroke-width="1.4" stroke-dasharray="1.4 1.2" fill="none"/>
<path d="M172 575.3L198 610.1" stroke="#0e9df7" stroke-width="1.4" stroke-dasharray="1.4 1.2" fill="none"/>
<rect x="36.8" y="461.6" width="195.10" height="162.40" fill="none" stroke="#a8a8a8" stroke-width="1.5"/>
<text x="235.0" y="447.4" font-size="22.5" fill="#000" stroke="#000" stroke-width="0.2" font-weight="bold">g</text>
<text x="286.0" y="457.0" font-size="16" fill="#000" stroke="#000" stroke-width="0.2" font-weight="bold">Depletion by Gene</text>
<path d="M254.6 620.1H257.6M255.8 606.9H257.6M254.6 593.7H257.6M255.8 580.5H257.6M254.6 567.3H257.6M255.8 554.1H257.6M254.6 540.9H257.6M255.8 527.7H257.6M254.6 514.5H257.6M255.8 501.3H257.6M254.6 488.1H257.6M255.8 474.9H257.6M254.6 461.7H257.6M260.3 624.2V626.4000000000001M279.5 624.2V625.7M298.8 624.2V626.4000000000001M318.0 624.2V625.7M337.2 624.2V626.4000000000001M356.4 624.2V625.7M375.7 624.2V626.4000000000001M394.9 624.2V625.7M414.1 624.2V626.4000000000001M433.3 624.2V625.7M452.6 624.2V626.4000000000001" stroke="#a8a8a8" stroke-width="0.9"/>
<text x="254.1" y="624.5" font-size="13.3" fill="#000" stroke="#000" stroke-width="0.1" text-anchor="end">0</text>
<text x="254.1" y="598.1" font-size="13.3" fill="#000" stroke="#000" stroke-width="0.1" text-anchor="end">1</text>
<text x="254.1" y="571.7" font-size="13.3" fill="#000" stroke="#000" stroke-width="0.1" text-anchor="end">2</text>
<text x="254.1" y="545.3000000000001" font-size="13.3" fill="#000" stroke="#000" stroke-width="0.1" text-anchor="end">3</text>
<text x="254.1" y="518.9" font-size="13.3" fill="#000" stroke="#000" stroke-width="0.1" text-anchor="end">4</text>
<text x="254.1" y="492.5" font-size="13.3" fill="#000" stroke="#000" stroke-width="0.1" text-anchor="end">5</text>
<text x="254.1" y="466.1" font-size="13.3" fill="#000" stroke="#000" stroke-width="0.1" text-anchor="end">6</text>
<text x="260.3" y="635.8" font-size="13.0" fill="#000" stroke="#000" stroke-width="0.1" text-anchor="middle">0</text>
<text x="298.75" y="635.8" font-size="13.0" fill="#000" stroke="#000" stroke-width="0.1" text-anchor="middle">0.5</text>
<text x="337.20000000000005" y="635.8" font-size="13.0" fill="#000" stroke="#000" stroke-width="0.1" text-anchor="middle">1.0</text>
<text x="375.65000000000003" y="635.8" font-size="13.0" fill="#000" stroke="#000" stroke-width="0.1" text-anchor="middle">1.5</text>
<text x="414.1" y="635.8" font-size="13.0" fill="#000" stroke="#000" stroke-width="0.1" text-anchor="middle">2.0</text>
<text x="452.55" y="635.8" font-size="13.0" fill="#000" stroke="#000" stroke-width="0.1" text-anchor="middle">2.5</text>
<text x="357.1" y="652.9" font-size="16.1" fill="#000" stroke="#000" stroke-width="0.35" text-anchor="middle">P-value Rank (x 1000)</text>
<path d="M265.10 551.70C265.22 552.90 265.43 556.00 265.80 558.90C266.17 561.80 266.68 566.45 267.30 569.10C267.92 571.75 268.42 572.52 269.50 574.80C270.58 577.08 271.88 580.50 273.80 582.80C275.72 585.10 278.83 586.78 281.00 588.60C283.17 590.42 283.90 592.02 286.80 593.70C289.70 595.38 294.05 597.13 298.40 598.70C302.75 600.27 306.80 601.65 312.90 603.10C319.00 604.55 327.15 606.15 335.00 607.40C342.85 608.65 352.50 609.73 360.00 610.60C367.50 611.47 373.33 611.97 380.00 612.60C386.67 613.23 394.00 613.92 400.00 614.40C406.00 614.88 410.17 615.07 416.00 615.50C421.83 615.93 429.17 616.55 435.00 617.00C440.83 617.45 448.33 618.00 451.00 618.20" stroke="#a9a9a9" stroke-width="2.2" fill="none" stroke-linecap="round"/>
<path d="M264.4 532.2h0M264.5 535.0h0M264.6 538.0h0M264.7 541.0h0M264.8 543.5h0M264.9 546.0h0M265.0 548.8h0M263.8 481.7h0M263.8 519.5h0M263.9 526.0h0M264.0 530.0h0" stroke="#a0a0a0" stroke-width="2.0" stroke-linecap="round" fill="none"/>
<circle cx="263.8" cy="469" r="2.1" fill="#000"/>
<path d="M271.1 471.1L300.3 483.9" stroke="#0e9df7" stroke-width="1.4" stroke-dasharray="1.4 1.2" fill="none"/>
<text x="305.9" y="494.2" font-size="16.0" fill="#0e9df7" stroke="#0e9df7" stroke-width="0.35">Myh7</text>
<rect x="257.6" y="461.6" width="197.20" height="162.60" fill="none" stroke="#a8a8a8" stroke-width="1.5"/>
<text x="460.0" y="447.8" font-size="22.5" fill="#000" stroke="#000" stroke-width="0.2" font-weight="bold">h</text>
<text x="505.0" y="457.0" font-size="16" fill="#000" stroke="#000" stroke-width="0.2" font-weight="bold">Enrichment by Gene</text>
<path d="M479.2 619.4H482.2M480.4 606.3H482.2M479.2 593.1H482.2M480.4 580.0H482.2M479.2 566.9H482.2M480.4 553.8H482.2M479.2 540.6H482.2M480.4 527.5H482.2M479.2 514.4H482.2M480.4 501.3H482.2M479.2 488.1H482.2M480.4 475.0H482.2M479.2 461.9H482.2M493.2 624.5V626.7M511.6 624.5V626.0M530.1 624.5V626.7M548.5 624.5V626.0M567.0 624.5V626.7M585.5 624.5V626.0M603.9 624.5V626.7M622.4 624.5V626.0M640.8 624.5V626.7M659.2 624.5V626.0M677.7 624.5V626.7" stroke="#a8a8a8" stroke-width="0.9"/>
<text x="478.7" y="623.8" font-size="13.3" fill="#000" stroke="#000" stroke-width="0.1" text-anchor="end">0</text>
<text x="478.7" y="597.55" font-size="13.3" fill="#000" stroke="#000" stroke-width="0.1" text-anchor="end">1</text>
<text x="478.7" y="571.3" font-size="13.3" fill="#000" stroke="#000" stroke-width="0.1" text-anchor="end">2</text>
<text x="478.7" y="545.05" font-size="13.3" fill="#000" stroke="#000" stroke-width="0.1" text-anchor="end">3</text>
<text x="478.7" y="518.8" font-size="13.3" fill="#000" stroke="#000" stroke-width="0.1" text-anchor="end">4</text>
<text x="478.7" y="492.54999999999995" font-size="13.3" fill="#000" stroke="#000" stroke-width="0.1" text-anchor="end">5</text>
<text x="478.7" y="466.29999999999995" font-size="13.3" fill="#000" stroke="#000" stroke-width="0.1" text-anchor="end">6</text>
<text x="493.2" y="636.2" font-size="12.0" fill="#000" stroke="#000" stroke-width="0.1" text-anchor="middle">0</text>
<text x="530.1" y="636.2" font-size="12.0" fill="#000" stroke="#000" stroke-width="0.1" text-anchor="middle">0.5</text>
<text x="567.0" y="636.2" font-size="12.0" fill="#000" stroke="#000" stroke-width="0.1" text-anchor="middle">1.0</text>
<text x="603.9" y="636.2" font-size="12.0" fill="#000" stroke="#000" stroke-width="0.1" text-anchor="middle">1.5</text>
<text x="640.8" y="636.2" font-size="12.0" fill="#000" stroke="#000" stroke-width="0.1" text-anchor="middle">2.0</text>
<text x="677.7" y="636.2" font-size="12.0" fill="#000" stroke="#000" stroke-width="0.1" text-anchor="middle">2.5</text>
<text x="587.0" y="652.9" font-size="16.1" fill="#000" stroke="#000" stroke-width="0.35" text-anchor="middle">P-value Rank (x 1000)</text>
<path d="M490.90 556.70C491.00 558.30 491.18 563.37 491.50 566.30C491.82 569.23 492.05 571.63 492.80 574.30C493.55 576.97 494.67 579.90 496.00 582.30C497.33 584.70 498.68 586.70 500.80 588.70C502.92 590.70 505.52 592.45 508.70 594.30C511.88 596.15 515.37 598.22 519.90 599.80C524.43 601.38 529.22 602.52 535.90 603.80C542.58 605.08 552.65 606.52 560.00 607.50C567.35 608.48 573.33 608.95 580.00 609.70C586.67 610.45 590.33 611.03 600.00 612.00C609.67 612.97 624.73 614.43 638.00 615.50C651.27 616.57 672.67 617.92 679.60 618.40" stroke="#a9a9a9" stroke-width="2.2" fill="none" stroke-linecap="round"/>
<path d="M490.4 528.0h0M490.4 530.5h0M490.5 533.0h0M490.5 536.0h0M490.5 539.0h0M490.6 542.0h0M490.6 545.0h0M490.7 548.0h0M490.7 551.0h0M490.8 554.0h0M490.0 494.0h0" stroke="#a0a0a0" stroke-width="2.0" stroke-linecap="round" fill="none"/>
<circle cx="489.7" cy="469.3" r="2.1" fill="#ff0000"/><circle cx="490" cy="509" r="2.1" fill="#ff0000"/>
<path d="M499.7 469.3L538.1 470.8" stroke="#ff0000" stroke-width="1.4" stroke-dasharray="1.4 1.2" fill="none"/>
<path d="M498.8 472L538.1 484" stroke="#0e9df7" stroke-width="1.4" stroke-dasharray="1.4 1.2" fill="none"/>
<path d="M497.4 474.8L535.4 500" stroke="#0e9df7" stroke-width="1.4" stroke-dasharray="1.4 1.2" fill="none"/>
<path d="M494.3 494.9L534.5 515" stroke="#0e9df7" stroke-width="1.4" stroke-dasharray="1.4 1.2" fill="none"/>
<path d="M493.4 510.4L530.8 535.2" stroke="#ff0000" stroke-width="1.4" stroke-dasharray="1.4 1.2" fill="none"/>
<path d="M492.5 529.6L528.7 549.5" stroke="#0e9df7" stroke-width="1.4" stroke-dasharray="1.4 1.2" fill="none"/>
<path d="M493.6 537.6L519.1 563.9" stroke="#0e9df7" stroke-width="1.4" stroke-dasharray="1.4 1.2" fill="none"/>
<text x="541.2" y="474.9" font-size="16.1" fill="#ff0000" stroke="#ff0000" stroke-width="0.35">Rnf40</text>
<text x="542.7" y="492.0" font-size="16.1" fill="#0e9df7" stroke="#0e9df7" stroke-width="0.35">Thra</text>
<text x="542.7" y="510.1" font-size="16.1" fill="#0e9df7" stroke="#0e9df7" stroke-width="0.35">Taf3</text>
<text x="539.0" y="527.3" font-size="16.1" fill="#0e9df7" stroke="#0e9df7" stroke-width="0.35">Zbtb7a</text>
<text x="536.5" y="545.4" font-size="16.1" fill="#ff0000" stroke="#ff0000" stroke-width="0.35">Rnf20</text>
<text x="531.4" y="562.9" font-size="16.1" fill="#0e9df7" stroke="#0e9df7" stroke-width="0.35">Taf2</text>
<text x="521.2" y="577.9" font-size="16.1" fill="#0e9df7" stroke="#0e9df7" stroke-width="0.35">Ncl</text>
<rect x="482.2" y="461.1" width="200.90" height="163.40" fill="none" stroke="#a8a8a8" stroke-width="1.5"/>
</svg></body></html>
